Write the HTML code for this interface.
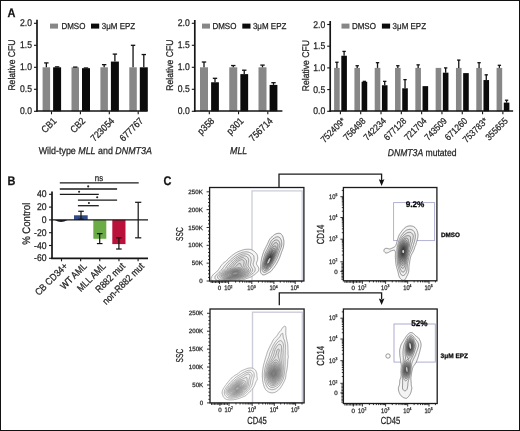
<!DOCTYPE html>
<html><head><meta charset="utf-8"><style>
html,body{margin:0;padding:0;background:#fff;}
svg{display:block;}
text{font-family:"Liberation Sans", sans-serif;stroke:#222;stroke-width:0.25px;text-rendering:geometricPrecision;}
.t{opacity:0.995}
</style></head><body>
<svg width="520" height="431" viewBox="0 0 520 431" font-family='"Liberation Sans", sans-serif'>
<rect x="0" y="0" width="520" height="431" fill="#fff"/>
<g class="t">
<text transform="translate(7.60 17.00) rotate(0) scale(0.8850 1)" font-size="12.43" text-anchor="start" font-weight="bold" font-style="normal" fill="#111" >A</text>
<rect x="42.6" y="67.3" width="7.5" height="44.0" fill="#878787"/>
<rect x="53.1" y="67.3" width="8.0" height="44.0" fill="#0a0a0a"/>
<line x1="46.35" y1="67.3" x2="46.35" y2="62.89999999999999" stroke="#111" stroke-width="1.3"/>
<line x1="44.15" y1="62.89999999999999" x2="48.550000000000004" y2="62.89999999999999" stroke="#111" stroke-width="1.3"/>
<line x1="57.1" y1="67.3" x2="57.1" y2="66.86" stroke="#111" stroke-width="1.3"/>
<line x1="54.9" y1="66.86" x2="59.300000000000004" y2="66.86" stroke="#111" stroke-width="1.3"/>
<rect x="71.5" y="67.3" width="7.5" height="44.0" fill="#878787"/>
<rect x="82.0" y="68.18" width="8.0" height="43.11999999999999" fill="#0a0a0a"/>
<line x1="75.25" y1="67.3" x2="75.25" y2="67.08" stroke="#111" stroke-width="1.3"/>
<line x1="73.05" y1="67.08" x2="77.45" y2="67.08" stroke="#111" stroke-width="1.3"/>
<line x1="86.0" y1="68.18" x2="86.0" y2="67.96000000000001" stroke="#111" stroke-width="1.3"/>
<line x1="83.8" y1="67.96000000000001" x2="88.2" y2="67.96000000000001" stroke="#111" stroke-width="1.3"/>
<rect x="100.39999999999999" y="67.3" width="7.5" height="44.0" fill="#878787"/>
<rect x="110.89999999999999" y="61.58" width="8.0" height="49.72" fill="#0a0a0a"/>
<line x1="104.14999999999999" y1="67.3" x2="104.14999999999999" y2="64.66" stroke="#111" stroke-width="1.3"/>
<line x1="101.94999999999999" y1="64.66" x2="106.35" y2="64.66" stroke="#111" stroke-width="1.3"/>
<line x1="114.89999999999999" y1="61.58" x2="114.89999999999999" y2="54.099999999999994" stroke="#111" stroke-width="1.3"/>
<line x1="112.69999999999999" y1="54.099999999999994" x2="117.1" y2="54.099999999999994" stroke="#111" stroke-width="1.3"/>
<rect x="129.29999999999998" y="67.3" width="7.5" height="44.0" fill="#878787"/>
<rect x="139.79999999999998" y="67.3" width="8.0" height="44.0" fill="#0a0a0a"/>
<line x1="133.04999999999998" y1="67.3" x2="133.04999999999998" y2="45.3" stroke="#111" stroke-width="1.3"/>
<line x1="130.85" y1="45.3" x2="135.24999999999997" y2="45.3" stroke="#111" stroke-width="1.3"/>
<line x1="143.79999999999998" y1="67.3" x2="143.79999999999998" y2="54.53999999999999" stroke="#111" stroke-width="1.3"/>
<line x1="141.6" y1="54.53999999999999" x2="145.99999999999997" y2="54.53999999999999" stroke="#111" stroke-width="1.3"/>
<line x1="37" y1="19.8" x2="37" y2="111.85" stroke="#151515" stroke-width="1.7"/>
<line x1="36.15" y1="111.0" x2="147.5" y2="111.0" stroke="#151515" stroke-width="1.7"/>
<line x1="34" y1="111.3" x2="37" y2="111.3" stroke="#151515" stroke-width="1.1"/>
<text transform="translate(32.00 114.40) rotate(0) scale(0.8850 1)" font-size="9.72" text-anchor="end" font-weight="normal" font-style="normal" fill="#222" >0.0</text>
<line x1="34" y1="89.3" x2="37" y2="89.3" stroke="#151515" stroke-width="1.1"/>
<text transform="translate(32.00 92.40) rotate(0) scale(0.8850 1)" font-size="9.72" text-anchor="end" font-weight="normal" font-style="normal" fill="#222" >0.5</text>
<line x1="34" y1="67.3" x2="37" y2="67.3" stroke="#151515" stroke-width="1.1"/>
<text transform="translate(32.00 70.40) rotate(0) scale(0.8850 1)" font-size="9.72" text-anchor="end" font-weight="normal" font-style="normal" fill="#222" >1.0</text>
<line x1="34" y1="45.3" x2="37" y2="45.3" stroke="#151515" stroke-width="1.1"/>
<text transform="translate(32.00 48.40) rotate(0) scale(0.8850 1)" font-size="9.72" text-anchor="end" font-weight="normal" font-style="normal" fill="#222" >1.5</text>
<line x1="34" y1="23.299999999999997" x2="37" y2="23.299999999999997" stroke="#151515" stroke-width="1.1"/>
<text transform="translate(32.00 26.40) rotate(0) scale(0.8850 1)" font-size="9.72" text-anchor="end" font-weight="normal" font-style="normal" fill="#222" >2.0</text>
<line x1="51.5" y1="111.3" x2="51.5" y2="114.3" stroke="#151515" stroke-width="1.1"/>
<text transform="translate(57.10 121.60) rotate(-45) scale(0.8850 1)" font-size="9.72" text-anchor="end" font-weight="normal" font-style="normal" fill="#222" >CB1</text>
<line x1="80.4" y1="111.3" x2="80.4" y2="114.3" stroke="#151515" stroke-width="1.1"/>
<text transform="translate(86.00 121.60) rotate(-45) scale(0.8850 1)" font-size="9.72" text-anchor="end" font-weight="normal" font-style="normal" fill="#222" >CB2</text>
<line x1="109.3" y1="111.3" x2="109.3" y2="114.3" stroke="#151515" stroke-width="1.1"/>
<text transform="translate(114.90 121.60) rotate(-45) scale(0.8850 1)" font-size="9.72" text-anchor="end" font-weight="normal" font-style="normal" fill="#222" >723054</text>
<line x1="138.2" y1="111.3" x2="138.2" y2="114.3" stroke="#151515" stroke-width="1.1"/>
<text transform="translate(143.80 121.60) rotate(-45) scale(0.8850 1)" font-size="9.72" text-anchor="end" font-weight="normal" font-style="normal" fill="#222" >677767</text>
<text transform="translate(14.60 65.05) rotate(-90) scale(0.8850 1)" font-size="9.72" text-anchor="middle" font-weight="normal" font-style="normal" fill="#222" >Relative CFU</text>
<rect x="50" y="23.6" width="8.0" height="5.0" fill="#878787"/>
<text transform="translate(61.40 28.60) rotate(0) scale(0.9259 1)" font-size="8.64" text-anchor="start" font-weight="normal" font-style="normal" fill="#222" >DMSO</text>
<rect x="91" y="23.6" width="8.2" height="5.0" fill="#0a0a0a"/>
<text transform="translate(101.80 28.60) rotate(0) scale(0.9259 1)" font-size="8.64" text-anchor="start" font-weight="normal" font-style="normal" fill="#222" >3&#956;M EPZ</text>
<text transform="translate(38.70 153.60) rotate(0) scale(0.9009 1)" font-size="9.88" text-anchor="start" font-weight="normal" font-style="normal" fill="#222" >Wild-type <tspan font-style="italic">MLL</tspan> and <tspan font-style="italic">DNMT3A</tspan></text>
<rect x="200.0" y="67.3" width="8.0" height="44.0" fill="#878787"/>
<rect x="211.10000000000002" y="82.25999999999999" width="7.799999999999983" height="29.040000000000006" fill="#0a0a0a"/>
<line x1="204.0" y1="67.3" x2="204.0" y2="62.019999999999996" stroke="#111" stroke-width="1.3"/>
<line x1="201.8" y1="62.019999999999996" x2="206.2" y2="62.019999999999996" stroke="#111" stroke-width="1.3"/>
<line x1="215.0" y1="82.25999999999999" x2="215.0" y2="78.3" stroke="#111" stroke-width="1.3"/>
<line x1="212.8" y1="78.3" x2="217.2" y2="78.3" stroke="#111" stroke-width="1.3"/>
<rect x="229.25" y="67.3" width="8.0" height="44.0" fill="#878787"/>
<rect x="240.35000000000002" y="74.12" width="7.799999999999983" height="37.17999999999999" fill="#0a0a0a"/>
<line x1="233.25" y1="67.3" x2="233.25" y2="65.53999999999999" stroke="#111" stroke-width="1.3"/>
<line x1="231.05" y1="65.53999999999999" x2="235.45" y2="65.53999999999999" stroke="#111" stroke-width="1.3"/>
<line x1="244.25" y1="74.12" x2="244.25" y2="70.204" stroke="#111" stroke-width="1.3"/>
<line x1="242.05" y1="70.204" x2="246.45" y2="70.204" stroke="#111" stroke-width="1.3"/>
<rect x="258.5" y="67.3" width="8.0" height="44.0" fill="#878787"/>
<rect x="269.6" y="84.9" width="7.800000000000011" height="26.39999999999999" fill="#0a0a0a"/>
<line x1="262.5" y1="67.3" x2="262.5" y2="65.1" stroke="#111" stroke-width="1.3"/>
<line x1="260.3" y1="65.1" x2="264.7" y2="65.1" stroke="#111" stroke-width="1.3"/>
<line x1="273.5" y1="84.9" x2="273.5" y2="82.69999999999999" stroke="#111" stroke-width="1.3"/>
<line x1="271.3" y1="82.69999999999999" x2="275.7" y2="82.69999999999999" stroke="#111" stroke-width="1.3"/>
<line x1="194.8" y1="20" x2="194.8" y2="111.85" stroke="#151515" stroke-width="1.7"/>
<line x1="193.95000000000002" y1="111.0" x2="282.4" y2="111.0" stroke="#151515" stroke-width="1.7"/>
<line x1="191.8" y1="111.3" x2="194.8" y2="111.3" stroke="#151515" stroke-width="1.1"/>
<text transform="translate(189.80 114.40) rotate(0) scale(0.8850 1)" font-size="9.72" text-anchor="end" font-weight="normal" font-style="normal" fill="#222" >0.0</text>
<line x1="191.8" y1="89.3" x2="194.8" y2="89.3" stroke="#151515" stroke-width="1.1"/>
<text transform="translate(189.80 92.40) rotate(0) scale(0.8850 1)" font-size="9.72" text-anchor="end" font-weight="normal" font-style="normal" fill="#222" >0.5</text>
<line x1="191.8" y1="67.3" x2="194.8" y2="67.3" stroke="#151515" stroke-width="1.1"/>
<text transform="translate(189.80 70.40) rotate(0) scale(0.8850 1)" font-size="9.72" text-anchor="end" font-weight="normal" font-style="normal" fill="#222" >1.0</text>
<line x1="191.8" y1="45.3" x2="194.8" y2="45.3" stroke="#151515" stroke-width="1.1"/>
<text transform="translate(189.80 48.40) rotate(0) scale(0.8850 1)" font-size="9.72" text-anchor="end" font-weight="normal" font-style="normal" fill="#222" >1.5</text>
<line x1="191.8" y1="23.299999999999997" x2="194.8" y2="23.299999999999997" stroke="#151515" stroke-width="1.1"/>
<text transform="translate(189.80 26.40) rotate(0) scale(0.8850 1)" font-size="9.72" text-anchor="end" font-weight="normal" font-style="normal" fill="#222" >2.0</text>
<line x1="209.3" y1="111.3" x2="209.3" y2="114.3" stroke="#151515" stroke-width="1.1"/>
<text transform="translate(214.90 121.60) rotate(-45) scale(0.8850 1)" font-size="9.72" text-anchor="end" font-weight="normal" font-style="normal" fill="#222" >p358</text>
<line x1="238.55" y1="111.3" x2="238.55" y2="114.3" stroke="#151515" stroke-width="1.1"/>
<text transform="translate(244.15 121.60) rotate(-45) scale(0.8850 1)" font-size="9.72" text-anchor="end" font-weight="normal" font-style="normal" fill="#222" >p301</text>
<line x1="267.8" y1="111.3" x2="267.8" y2="114.3" stroke="#151515" stroke-width="1.1"/>
<text transform="translate(273.40 121.60) rotate(-45) scale(0.8850 1)" font-size="9.72" text-anchor="end" font-weight="normal" font-style="normal" fill="#222" >756714</text>
<text transform="translate(173.10 65.15) rotate(-90) scale(0.8850 1)" font-size="9.72" text-anchor="middle" font-weight="normal" font-style="normal" fill="#222" >Relative CFU</text>
<rect x="202" y="23.6" width="8.0" height="5.0" fill="#878787"/>
<text transform="translate(212.40 28.60) rotate(0) scale(0.9259 1)" font-size="8.64" text-anchor="start" font-weight="normal" font-style="normal" fill="#222" >DMSO</text>
<rect x="242.3" y="23.6" width="8.2" height="5.0" fill="#0a0a0a"/>
<text transform="translate(252.90 28.60) rotate(0) scale(0.9259 1)" font-size="8.64" text-anchor="start" font-weight="normal" font-style="normal" fill="#222" >3&#956;M EPZ</text>
<text transform="translate(230.10 153.70) rotate(0) scale(0.8696 1)" font-size="10.12" text-anchor="start" font-weight="normal" font-style="italic" fill="#222" >MLL</text>
<rect x="334.09999999999997" y="67.9" width="5.600000000000023" height="43.39999999999999" fill="#878787"/>
<rect x="341.29999999999995" y="55.748" width="5.600000000000023" height="55.552" fill="#0a0a0a"/>
<line x1="336.9" y1="67.9" x2="336.9" y2="62.258" stroke="#111" stroke-width="1.3"/>
<line x1="335.21999999999997" y1="62.258" x2="338.58" y2="62.258" stroke="#111" stroke-width="1.3"/>
<line x1="344.09999999999997" y1="55.748" x2="344.09999999999997" y2="51.408" stroke="#111" stroke-width="1.3"/>
<line x1="342.41999999999996" y1="51.408" x2="345.78" y2="51.408" stroke="#111" stroke-width="1.3"/>
<rect x="354.40999999999997" y="67.9" width="5.600000000000023" height="43.39999999999999" fill="#878787"/>
<rect x="361.60999999999996" y="81.788" width="5.600000000000023" height="29.512" fill="#0a0a0a"/>
<line x1="357.21" y1="67.9" x2="357.21" y2="65.72999999999999" stroke="#111" stroke-width="1.3"/>
<line x1="355.53" y1="65.72999999999999" x2="358.89" y2="65.72999999999999" stroke="#111" stroke-width="1.3"/>
<line x1="364.40999999999997" y1="81.788" x2="364.40999999999997" y2="81.354" stroke="#111" stroke-width="1.3"/>
<line x1="362.72999999999996" y1="81.354" x2="366.09" y2="81.354" stroke="#111" stroke-width="1.3"/>
<rect x="374.71999999999997" y="67.9" width="5.600000000000023" height="43.39999999999999" fill="#878787"/>
<rect x="381.91999999999996" y="85.25999999999999" width="5.600000000000023" height="26.040000000000006" fill="#0a0a0a"/>
<line x1="377.52" y1="67.9" x2="377.52" y2="62.69199999999999" stroke="#111" stroke-width="1.3"/>
<line x1="375.84" y1="62.69199999999999" x2="379.2" y2="62.69199999999999" stroke="#111" stroke-width="1.3"/>
<line x1="384.71999999999997" y1="85.25999999999999" x2="384.71999999999997" y2="81.354" stroke="#111" stroke-width="1.3"/>
<line x1="383.03999999999996" y1="81.354" x2="386.4" y2="81.354" stroke="#111" stroke-width="1.3"/>
<rect x="395.03" y="67.9" width="5.600000000000023" height="43.39999999999999" fill="#878787"/>
<rect x="402.22999999999996" y="88.298" width="5.600000000000023" height="23.001999999999995" fill="#0a0a0a"/>
<line x1="397.83" y1="67.9" x2="397.83" y2="65.72999999999999" stroke="#111" stroke-width="1.3"/>
<line x1="396.15" y1="65.72999999999999" x2="399.51" y2="65.72999999999999" stroke="#111" stroke-width="1.3"/>
<line x1="405.03" y1="88.298" x2="405.03" y2="79.618" stroke="#111" stroke-width="1.3"/>
<line x1="403.34999999999997" y1="79.618" x2="406.71" y2="79.618" stroke="#111" stroke-width="1.3"/>
<rect x="415.34" y="67.9" width="5.600000000000023" height="43.39999999999999" fill="#878787"/>
<rect x="422.53999999999996" y="86.128" width="5.600000000000023" height="25.171999999999997" fill="#0a0a0a"/>
<line x1="418.14" y1="67.9" x2="418.14" y2="64.862" stroke="#111" stroke-width="1.3"/>
<line x1="416.46" y1="64.862" x2="419.82" y2="64.862" stroke="#111" stroke-width="1.3"/>
<rect x="435.65" y="67.9" width="5.600000000000023" height="43.39999999999999" fill="#878787"/>
<rect x="442.84999999999997" y="72.674" width="5.600000000000023" height="38.62599999999999" fill="#0a0a0a"/>
<line x1="445.65" y1="72.674" x2="445.65" y2="67.9" stroke="#111" stroke-width="1.3"/>
<line x1="443.96999999999997" y1="67.9" x2="447.33" y2="67.9" stroke="#111" stroke-width="1.3"/>
<rect x="455.96" y="67.9" width="5.600000000000023" height="43.39999999999999" fill="#878787"/>
<rect x="463.15999999999997" y="73.108" width="5.600000000000023" height="38.19199999999999" fill="#0a0a0a"/>
<line x1="458.76" y1="67.9" x2="458.76" y2="60.088" stroke="#111" stroke-width="1.3"/>
<line x1="457.08" y1="60.088" x2="460.44" y2="60.088" stroke="#111" stroke-width="1.3"/>
<rect x="476.2699999999999" y="67.9" width="5.600000000000023" height="43.39999999999999" fill="#878787"/>
<rect x="483.4699999999999" y="80.05199999999999" width="5.600000000000023" height="31.248000000000005" fill="#0a0a0a"/>
<line x1="479.06999999999994" y1="67.9" x2="479.06999999999994" y2="62.69199999999999" stroke="#111" stroke-width="1.3"/>
<line x1="477.38999999999993" y1="62.69199999999999" x2="480.74999999999994" y2="62.69199999999999" stroke="#111" stroke-width="1.3"/>
<line x1="486.2699999999999" y1="80.05199999999999" x2="486.2699999999999" y2="74.844" stroke="#111" stroke-width="1.3"/>
<line x1="484.5899999999999" y1="74.844" x2="487.94999999999993" y2="74.844" stroke="#111" stroke-width="1.3"/>
<rect x="496.58" y="67.9" width="5.600000000000023" height="43.39999999999999" fill="#878787"/>
<rect x="503.78" y="102.62" width="5.600000000000023" height="8.679999999999993" fill="#0a0a0a"/>
<line x1="499.38" y1="67.9" x2="499.38" y2="65.29599999999999" stroke="#111" stroke-width="1.3"/>
<line x1="497.7" y1="65.29599999999999" x2="501.06" y2="65.29599999999999" stroke="#111" stroke-width="1.3"/>
<line x1="506.58" y1="102.62" x2="506.58" y2="100.233" stroke="#111" stroke-width="1.3"/>
<line x1="504.9" y1="100.233" x2="508.26" y2="100.233" stroke="#111" stroke-width="1.3"/>
<line x1="330.2" y1="21" x2="330.2" y2="111.85" stroke="#151515" stroke-width="1.7"/>
<line x1="329.34999999999997" y1="111.0" x2="513.1" y2="111.0" stroke="#151515" stroke-width="1.7"/>
<line x1="327.2" y1="111.3" x2="330.2" y2="111.3" stroke="#151515" stroke-width="1.1"/>
<text transform="translate(325.20 114.40) rotate(0) scale(0.8850 1)" font-size="9.72" text-anchor="end" font-weight="normal" font-style="normal" fill="#222" >0.0</text>
<line x1="327.2" y1="89.6" x2="330.2" y2="89.6" stroke="#151515" stroke-width="1.1"/>
<text transform="translate(325.20 92.70) rotate(0) scale(0.8850 1)" font-size="9.72" text-anchor="end" font-weight="normal" font-style="normal" fill="#222" >0.5</text>
<line x1="327.2" y1="67.9" x2="330.2" y2="67.9" stroke="#151515" stroke-width="1.1"/>
<text transform="translate(325.20 71.00) rotate(0) scale(0.8850 1)" font-size="9.72" text-anchor="end" font-weight="normal" font-style="normal" fill="#222" >1.0</text>
<line x1="327.2" y1="46.2" x2="330.2" y2="46.2" stroke="#151515" stroke-width="1.1"/>
<text transform="translate(325.20 49.30) rotate(0) scale(0.8850 1)" font-size="9.72" text-anchor="end" font-weight="normal" font-style="normal" fill="#222" >1.5</text>
<line x1="327.2" y1="24.5" x2="330.2" y2="24.5" stroke="#151515" stroke-width="1.1"/>
<text transform="translate(325.20 27.60) rotate(0) scale(0.8850 1)" font-size="9.72" text-anchor="end" font-weight="normal" font-style="normal" fill="#222" >2.0</text>
<line x1="340.4" y1="111.3" x2="340.4" y2="114.3" stroke="#151515" stroke-width="1.1"/>
<text transform="translate(346.00 121.60) rotate(-45) scale(0.8850 1)" font-size="9.27" text-anchor="end" font-weight="normal" font-style="normal" fill="#222" >752409*</text>
<line x1="360.71" y1="111.3" x2="360.71" y2="114.3" stroke="#151515" stroke-width="1.1"/>
<text transform="translate(366.31 121.60) rotate(-45) scale(0.8850 1)" font-size="9.27" text-anchor="end" font-weight="normal" font-style="normal" fill="#222" >756498</text>
<line x1="381.02" y1="111.3" x2="381.02" y2="114.3" stroke="#151515" stroke-width="1.1"/>
<text transform="translate(386.62 121.60) rotate(-45) scale(0.8850 1)" font-size="9.27" text-anchor="end" font-weight="normal" font-style="normal" fill="#222" >742234</text>
<line x1="401.33" y1="111.3" x2="401.33" y2="114.3" stroke="#151515" stroke-width="1.1"/>
<text transform="translate(406.93 121.60) rotate(-45) scale(0.8850 1)" font-size="9.27" text-anchor="end" font-weight="normal" font-style="normal" fill="#222" >677128</text>
<line x1="421.64" y1="111.3" x2="421.64" y2="114.3" stroke="#151515" stroke-width="1.1"/>
<text transform="translate(427.24 121.60) rotate(-45) scale(0.8850 1)" font-size="9.27" text-anchor="end" font-weight="normal" font-style="normal" fill="#222" >721704</text>
<line x1="441.95" y1="111.3" x2="441.95" y2="114.3" stroke="#151515" stroke-width="1.1"/>
<text transform="translate(447.55 121.60) rotate(-45) scale(0.8850 1)" font-size="9.27" text-anchor="end" font-weight="normal" font-style="normal" fill="#222" >743509</text>
<line x1="462.26" y1="111.3" x2="462.26" y2="114.3" stroke="#151515" stroke-width="1.1"/>
<text transform="translate(467.86 121.60) rotate(-45) scale(0.8850 1)" font-size="9.27" text-anchor="end" font-weight="normal" font-style="normal" fill="#222" >671260</text>
<line x1="482.56999999999994" y1="111.3" x2="482.56999999999994" y2="114.3" stroke="#151515" stroke-width="1.1"/>
<text transform="translate(488.17 121.60) rotate(-45) scale(0.8850 1)" font-size="9.27" text-anchor="end" font-weight="normal" font-style="normal" fill="#222" >753783*</text>
<line x1="502.88" y1="111.3" x2="502.88" y2="114.3" stroke="#151515" stroke-width="1.1"/>
<text transform="translate(508.48 121.60) rotate(-45) scale(0.8850 1)" font-size="9.27" text-anchor="end" font-weight="normal" font-style="normal" fill="#222" >355655</text>
<text transform="translate(308.60 65.65) rotate(-90) scale(0.8850 1)" font-size="9.72" text-anchor="middle" font-weight="normal" font-style="normal" fill="#222" >Relative CFU</text>
<rect x="341.5" y="23.6" width="8.0" height="5.0" fill="#878787"/>
<text transform="translate(351.90 28.60) rotate(0) scale(0.9259 1)" font-size="8.64" text-anchor="start" font-weight="normal" font-style="normal" fill="#222" >DMSO</text>
<rect x="381.9" y="23.6" width="8.2" height="5.0" fill="#0a0a0a"/>
<text transform="translate(392.60 28.60) rotate(0) scale(0.9259 1)" font-size="8.64" text-anchor="start" font-weight="normal" font-style="normal" fill="#222" >3&#956;M EPZ</text>
<text transform="translate(387.80 155.80) rotate(0) scale(0.8696 1)" font-size="9.89" text-anchor="start" font-weight="normal" font-style="normal" fill="#222" ><tspan font-style="italic">DNMT3A</tspan> mutated</text>
<text transform="translate(7.50 184.60) rotate(0) scale(0.8850 1)" font-size="12.43" text-anchor="start" font-weight="bold" font-style="normal" fill="#111" >B</text>
<path d="M54.8,219.9 L67.6,219.9 Q64,221.9 61,221.9 Q58,221.9 54.8,219.9 Z" fill="#1b1b2b"/>
<rect x="74" y="215.292" width="13.7" height="4.608000000000004" fill="#2e4a88"/>
<rect x="93.3" y="219.9" width="13" height="18.879999999999995" fill="#6aac45"/>
<rect x="112.3" y="219.9" width="13.2" height="24.192000000000007" fill="#ba103a"/>
<line x1="81" y1="211.26" x2="81" y2="219.26000000000002" stroke="#111" stroke-width="1.2"/>
<line x1="78.2" y1="211.26" x2="83.8" y2="211.26" stroke="#111" stroke-width="1.2"/>
<line x1="78.2" y1="219.26000000000002" x2="83.8" y2="219.26000000000002" stroke="#111" stroke-width="1.2"/>
<line x1="99.7" y1="233.66" x2="99.7" y2="243.58" stroke="#111" stroke-width="1.2"/>
<line x1="96.9" y1="233.66" x2="102.5" y2="233.66" stroke="#111" stroke-width="1.2"/>
<line x1="96.9" y1="243.58" x2="102.5" y2="243.58" stroke="#111" stroke-width="1.2"/>
<line x1="118.9" y1="237.82" x2="118.9" y2="249.02" stroke="#111" stroke-width="1.2"/>
<line x1="116.10000000000001" y1="237.82" x2="121.7" y2="237.82" stroke="#111" stroke-width="1.2"/>
<line x1="116.10000000000001" y1="249.02" x2="121.7" y2="249.02" stroke="#111" stroke-width="1.2"/>
<line x1="138.2" y1="202.3" x2="138.2" y2="237.82" stroke="#111" stroke-width="1.2"/>
<line x1="135.1" y1="202.3" x2="141.29999999999998" y2="202.3" stroke="#111" stroke-width="1.2"/>
<line x1="135.1" y1="237.82" x2="141.29999999999998" y2="237.82" stroke="#111" stroke-width="1.2"/>
<line x1="52" y1="219.9" x2="148" y2="219.9" stroke="#151515" stroke-width="1.3"/>
<line x1="52" y1="191.6" x2="52" y2="259.1" stroke="#151515" stroke-width="1.7"/>
<line x1="51.15" y1="258.3" x2="148" y2="258.3" stroke="#151515" stroke-width="1.7"/>
<line x1="49" y1="194.3" x2="52" y2="194.3" stroke="#151515" stroke-width="1.1"/>
<text transform="translate(46.50 197.40) rotate(0) scale(0.8850 1)" font-size="9.72" text-anchor="end" font-weight="normal" font-style="normal" fill="#222" >40</text>
<line x1="49" y1="207.1" x2="52" y2="207.1" stroke="#151515" stroke-width="1.1"/>
<text transform="translate(46.50 210.20) rotate(0) scale(0.8850 1)" font-size="9.72" text-anchor="end" font-weight="normal" font-style="normal" fill="#222" >20</text>
<line x1="49" y1="219.9" x2="52" y2="219.9" stroke="#151515" stroke-width="1.1"/>
<text transform="translate(46.50 223.00) rotate(0) scale(0.8850 1)" font-size="9.72" text-anchor="end" font-weight="normal" font-style="normal" fill="#222" >0</text>
<line x1="49" y1="232.70000000000002" x2="52" y2="232.70000000000002" stroke="#151515" stroke-width="1.1"/>
<text transform="translate(46.50 235.80) rotate(0) scale(0.8850 1)" font-size="9.72" text-anchor="end" font-weight="normal" font-style="normal" fill="#222" >-20</text>
<line x1="49" y1="245.5" x2="52" y2="245.5" stroke="#151515" stroke-width="1.1"/>
<text transform="translate(46.50 248.60) rotate(0) scale(0.8850 1)" font-size="9.72" text-anchor="end" font-weight="normal" font-style="normal" fill="#222" >-40</text>
<line x1="49" y1="258.3" x2="52" y2="258.3" stroke="#151515" stroke-width="1.1"/>
<text transform="translate(46.50 261.40) rotate(0) scale(0.8850 1)" font-size="9.72" text-anchor="end" font-weight="normal" font-style="normal" fill="#222" >-60</text>
<line x1="61.5" y1="258.3" x2="61.5" y2="261.3" stroke="#151515" stroke-width="1.1"/>
<text transform="translate(68.20 266.80) rotate(-45) scale(0.8850 1)" font-size="9.72" text-anchor="end" font-weight="normal" font-style="normal" fill="#222" >CB CD34+</text>
<line x1="80.65" y1="258.3" x2="80.65" y2="261.3" stroke="#151515" stroke-width="1.1"/>
<text transform="translate(87.35 266.80) rotate(-45) scale(0.8850 1)" font-size="9.72" text-anchor="end" font-weight="normal" font-style="normal" fill="#222" >WT AML</text>
<line x1="99.8" y1="258.3" x2="99.8" y2="261.3" stroke="#151515" stroke-width="1.1"/>
<text transform="translate(106.50 266.80) rotate(-45) scale(0.8850 1)" font-size="9.72" text-anchor="end" font-weight="normal" font-style="normal" fill="#222" >MLL AML</text>
<line x1="118.94999999999999" y1="258.3" x2="118.94999999999999" y2="261.3" stroke="#151515" stroke-width="1.1"/>
<text transform="translate(125.65 266.80) rotate(-45) scale(0.8850 1)" font-size="9.72" text-anchor="end" font-weight="normal" font-style="normal" fill="#222" >R882 mut</text>
<line x1="138.1" y1="258.3" x2="138.1" y2="261.3" stroke="#151515" stroke-width="1.1"/>
<text transform="translate(144.80 266.80) rotate(-45) scale(0.8850 1)" font-size="9.72" text-anchor="end" font-weight="normal" font-style="normal" fill="#222" >non-R882 mut</text>
<text transform="translate(29.60 223.80) rotate(-90) scale(0.8850 1)" font-size="10.85" text-anchor="middle" font-weight="normal" font-style="normal" fill="#222" >% Control</text>
<line x1="59.8" y1="182.8" x2="138.7" y2="182.8" stroke="#1a1a1a" stroke-width="1.3"/>
<line x1="59.8" y1="189" x2="117.1" y2="189" stroke="#1a1a1a" stroke-width="1.3"/>
<line x1="59.8" y1="194.3" x2="98.8" y2="194.3" stroke="#1a1a1a" stroke-width="1.3"/>
<line x1="77.9" y1="200.1" x2="117.1" y2="200.1" stroke="#1a1a1a" stroke-width="1.3"/>
<line x1="77.9" y1="205.7" x2="98.8" y2="205.7" stroke="#1a1a1a" stroke-width="1.3"/>
<text transform="translate(99.00 180.80) rotate(0) scale(0.8850 1)" font-size="8.93" text-anchor="middle" font-weight="normal" font-style="normal" fill="#222" >ns</text>
<circle cx="88.2" cy="186.4" r="1.05" fill="#222"/>
<circle cx="79.1" cy="191.7" r="1.05" fill="#222"/>
<circle cx="97.2" cy="197.2" r="1.05" fill="#222"/>
<circle cx="88.9" cy="203" r="1.05" fill="#222"/>
<text transform="translate(163.60 185.00) rotate(0) scale(0.8850 1)" font-size="12.43" text-anchor="start" font-weight="bold" font-style="normal" fill="#111" >C</text>
<defs>
<clipPath id="c1"><rect x="209.6" y="187.5" width="94.29999999999998" height="93.5"/></clipPath>
<clipPath id="c2"><rect x="343.4" y="187.5" width="93.20000000000005" height="93.30000000000001"/></clipPath>
<clipPath id="c3"><rect x="210" y="309" width="94.10000000000002" height="93.89999999999998"/></clipPath>
<clipPath id="c4"><rect x="343.4" y="309" width="93.20000000000005" height="94.5"/></clipPath>
</defs>
<rect x="252" y="190.9" width="50.19999999999999" height="90.1" fill="none" stroke="#d0d0dc" stroke-width="1.4"/>
<g clip-path="url(#c1)">
<path d="M228.2,283.0 227.5,283.1 226.8,283.1 226.0,283.1 225.2,283.1 224.5,283.2 223.8,283.1 223.0,283.1 222.2,283.1 221.5,283.1 220.8,283.1 220.0,283.0 219.5,283.0 218.8,282.9 218.0,282.8 217.5,282.7 216.8,282.6 216.2,282.5 215.5,282.3 215.0,282.1 214.5,282.0 213.9,281.8 213.3,281.5 212.8,281.2 212.3,281.0 212.0,280.7 211.5,280.2 211.2,279.8 211.1,279.2 211.0,278.5 211.2,277.8 211.4,277.2 211.6,276.8 211.9,276.2 212.2,275.8 212.5,275.5 212.9,275.0 213.2,274.6 213.6,274.2 214.0,273.9 214.5,273.5 214.8,273.2 215.2,272.8 215.7,272.5 216.0,272.2 216.5,271.8 216.8,271.5 217.2,271.1 217.6,270.8 218.0,270.3 218.2,269.9 218.6,269.5 218.9,269.0 219.2,268.5 219.5,268.1 219.8,267.7 220.1,267.2 220.4,266.8 220.7,266.2 221.0,265.9 221.3,265.5 221.7,265.0 222.0,264.6 222.3,264.2 222.7,263.8 223.0,263.4 223.5,263.0 223.8,262.8 224.2,262.4 224.8,262.0 225.2,261.8 225.6,261.5 226.0,261.2 226.5,260.8 226.8,260.5 227.1,260.0 227.5,259.5 227.8,259.2 228.2,258.8 228.5,258.5 229.0,258.1 229.4,257.8 229.8,257.5 230.2,257.1 230.6,256.8 231.0,256.4 231.4,256.0 231.8,255.7 232.2,255.3 232.6,255.0 233.0,254.7 233.5,254.4 234.0,254.0 234.4,253.8 234.8,253.5 235.2,253.2 235.8,252.9 236.2,252.6 236.8,252.3 237.2,252.1 237.8,251.8 238.2,251.6 238.8,251.4 239.2,251.2 239.8,251.0 240.4,250.8 241.0,250.5 241.5,250.4 242.0,250.2 242.6,250.0 243.2,249.8 243.8,249.7 244.5,249.5 245.0,249.4 245.8,249.3 246.5,249.3 247.2,249.3 247.9,249.2 248.3,249.2 249.0,249.3 249.8,249.3 250.5,249.4 251.0,249.5 251.6,249.8 252.1,250.0 252.5,250.3 253.0,250.6 253.5,250.9 254.0,251.2 254.4,251.5 254.8,251.8 255.2,252.2 255.6,252.5 256.0,253.0 256.2,253.3 256.6,253.8 256.9,254.2 257.1,254.8 257.3,255.2 257.5,255.9 257.6,256.5 257.7,257.2 257.7,258.0 257.7,258.8 257.6,259.5 257.5,260.2 257.3,260.8 257.1,261.2 256.9,261.8 256.7,262.2 256.5,262.8 256.4,263.5 256.5,264.2 256.8,264.7 257.0,265.1 257.3,265.5 257.6,266.0 257.9,266.5 258.2,267.0 258.5,267.5 258.7,268.0 258.8,268.5 258.8,269.2 258.7,269.8 258.5,270.5 258.2,271.0 258.0,271.4 257.7,271.8 257.3,272.2 257.0,272.6 256.6,273.0 256.2,273.3 255.8,273.7 255.4,274.0 255.0,274.3 254.5,274.7 254.0,275.0 253.6,275.2 253.2,275.5 252.8,275.8 252.2,276.2 251.8,276.5 251.2,276.7 250.8,277.0 250.2,277.2 249.8,277.5 249.2,277.6 248.8,277.8 248.1,278.0 247.5,278.2 247.0,278.4 246.5,278.5 245.9,278.8 245.3,279.0 244.8,279.2 244.2,279.4 243.8,279.6 243.2,279.8 242.7,280.0 242.0,280.2 241.5,280.4 241.0,280.5 240.2,280.7 239.8,280.8 239.0,280.9 238.5,281.1 237.8,281.2 237.2,281.3 236.7,281.5 236.0,281.7 235.5,281.8 234.8,282.0 234.2,282.1 233.7,282.2 233.0,282.4 232.3,282.5 231.8,282.6 231.0,282.7 230.5,282.8 229.8,282.9 229.0,282.9 228.4,283.0 228.2,283.0Z" fill="rgb(246,246,246)" stroke="#5a5a5a" stroke-width="0.55"/>
<path d="M229.5,281.5 228.8,281.6 228.0,281.6 227.2,281.7 226.5,281.7 225.8,281.7 225.0,281.7 224.2,281.7 223.5,281.6 222.8,281.6 222.0,281.5 221.5,281.5 220.8,281.4 220.0,281.3 219.5,281.2 218.8,281.0 218.2,280.8 217.8,280.7 217.2,280.5 216.8,280.2 216.2,279.9 215.8,279.5 215.5,279.2 215.2,278.8 215.0,278.2 214.9,277.5 215.0,277.0 215.2,276.4 215.5,276.0 215.8,275.5 216.2,275.0 216.5,274.8 217.0,274.3 217.3,274.0 217.8,273.6 218.2,273.2 218.5,273.0 219.0,272.5 219.3,272.2 219.8,271.8 220.0,271.5 220.5,271.0 220.8,270.7 221.1,270.2 221.5,269.9 221.8,269.5 222.2,269.0 222.5,268.7 222.8,268.2 223.2,267.8 223.5,267.3 223.8,267.0 224.1,266.5 224.5,266.0 224.8,265.6 225.0,265.2 225.4,264.8 225.8,264.4 226.1,264.0 226.5,263.6 226.8,263.2 227.2,262.8 227.6,262.5 228.0,262.1 228.4,261.8 228.8,261.4 229.2,261.0 229.5,260.8 230.0,260.3 230.3,260.0 230.8,259.6 231.1,259.2 231.5,258.9 231.9,258.5 232.2,258.2 232.8,257.8 233.1,257.5 233.5,257.2 234.0,256.8 234.4,256.5 234.8,256.2 235.2,255.9 235.7,255.5 236.1,255.2 236.5,255.0 237.0,254.7 237.5,254.4 238.0,254.1 238.5,253.8 239.0,253.6 239.5,253.3 240.0,253.1 240.5,253.0 241.1,252.8 241.8,252.5 242.2,252.4 242.8,252.2 243.5,252.1 244.0,252.0 244.8,251.9 245.5,251.8 246.2,251.8 247.0,251.9 247.7,252.0 248.2,252.1 248.8,252.2 249.5,252.5 250.0,252.7 250.5,253.0 251.0,253.2 251.4,253.5 251.8,253.8 252.2,254.1 252.7,254.5 253.0,254.8 253.4,255.2 253.7,255.8 253.8,256.2 254.0,257.0 254.0,257.5 254.0,258.2 254.1,259.0 254.1,259.8 254.0,260.5 253.9,261.0 253.8,261.5 253.5,262.2 253.3,262.8 253.2,263.2 253.1,264.0 253.2,264.8 253.4,265.2 253.6,265.8 253.9,266.2 254.2,266.8 254.5,267.2 254.8,267.7 255.0,268.2 255.1,268.8 255.2,269.5 255.2,270.2 255.0,270.8 254.8,271.3 254.5,271.8 254.1,272.2 253.8,272.6 253.3,273.0 253.0,273.3 252.5,273.7 252.1,274.0 251.7,274.2 251.2,274.6 250.8,274.9 250.3,275.2 249.9,275.5 249.5,275.8 249.0,276.0 248.5,276.2 247.9,276.5 247.3,276.8 246.8,277.0 246.2,277.2 245.8,277.4 245.2,277.6 244.8,277.8 244.2,278.0 243.7,278.2 243.1,278.5 242.5,278.7 242.0,278.9 241.5,279.0 240.8,279.2 240.2,279.4 239.6,279.5 239.0,279.6 238.3,279.8 237.8,279.9 237.2,280.0 236.5,280.2 236.0,280.3 235.4,280.5 234.8,280.7 234.2,280.8 233.5,281.0 233.0,281.1 232.2,281.2 231.8,281.3 231.0,281.4 230.2,281.4 229.7,281.5 229.5,281.5Z" fill="rgb(243,243,243)" stroke="#5a5a5a" stroke-width="0.55"/>
<path d="M230.0,280.5 229.2,280.6 228.5,280.6 227.8,280.7 227.0,280.7 226.2,280.7 225.5,280.7 224.8,280.6 224.0,280.6 223.4,280.5 222.8,280.4 222.0,280.3 221.5,280.2 220.8,280.0 220.2,279.8 219.8,279.6 219.2,279.4 218.8,279.1 218.3,278.8 218.0,278.4 217.8,278.0 217.6,277.2 217.7,276.5 218.0,276.0 218.2,275.5 218.5,275.2 218.9,274.8 219.2,274.3 219.6,274.0 220.0,273.5 220.3,273.2 220.8,272.8 221.0,272.5 221.5,272.0 221.8,271.8 222.2,271.3 222.6,271.0 223.0,270.7 223.4,270.2 223.8,270.0 224.2,269.5 224.5,269.2 224.9,268.8 225.2,268.4 225.6,268.0 226.0,267.5 226.2,267.1 226.5,266.8 226.9,266.2 227.2,265.8 227.5,265.5 227.9,265.0 228.2,264.6 228.5,264.2 229.0,263.8 229.2,263.5 229.7,263.0 230.0,262.8 230.5,262.3 230.8,262.0 231.2,261.5 231.5,261.2 232.0,260.8 232.2,260.5 232.7,260.0 233.0,259.8 233.5,259.3 233.9,259.0 234.2,258.7 234.8,258.3 235.2,258.0 235.6,257.8 236.0,257.4 236.5,257.1 237.0,256.8 237.3,256.5 237.8,256.2 238.2,255.9 238.8,255.6 239.2,255.3 239.8,255.1 240.2,254.9 240.8,254.7 241.2,254.5 242.0,254.3 242.5,254.1 243.2,254.0 243.8,253.9 244.5,253.9 245.2,253.9 246.0,253.9 246.5,254.0 247.2,254.2 247.8,254.4 248.2,254.7 248.8,255.0 249.1,255.2 249.5,255.6 249.9,256.0 250.2,256.5 250.5,257.0 250.7,257.5 250.9,258.0 251.0,258.5 251.2,259.2 251.2,259.8 251.3,260.5 251.2,261.0 251.0,261.8 250.9,262.2 250.8,262.8 250.6,263.5 250.5,264.2 250.5,264.8 250.6,265.2 250.8,265.9 251.0,266.4 251.2,266.8 251.6,267.2 251.9,267.8 252.2,268.2 252.5,268.8 252.6,269.2 252.7,270.0 252.6,270.8 252.4,271.2 252.0,271.8 251.8,272.1 251.4,272.5 251.0,272.9 250.6,273.2 250.2,273.6 249.8,274.0 249.4,274.2 249.0,274.6 248.5,274.9 248.0,275.2 247.5,275.5 247.0,275.7 246.5,276.0 246.0,276.2 245.5,276.5 245.0,276.7 244.5,276.9 244.0,277.1 243.5,277.3 243.0,277.5 242.4,277.8 241.8,278.0 241.2,278.2 240.8,278.3 240.0,278.5 239.5,278.6 238.8,278.8 238.2,278.9 237.6,279.0 237.0,279.2 236.5,279.3 235.8,279.5 235.2,279.6 234.8,279.8 234.0,279.9 233.5,280.0 232.8,280.2 232.2,280.2 231.5,280.4 230.8,280.4 230.2,280.5 230.0,280.5Z" fill="rgb(238,238,238)" stroke="#5a5a5a" stroke-width="0.55"/>
<path d="M230.0,279.8 229.2,279.8 228.5,279.8 227.8,279.9 227.0,279.9 226.2,279.8 225.5,279.8 225.0,279.7 224.2,279.6 223.5,279.5 223.0,279.4 222.5,279.2 221.9,279.0 221.4,278.8 221.0,278.5 220.5,278.1 220.2,277.8 219.9,277.2 219.8,276.5 220.0,275.9 220.2,275.3 220.5,274.9 220.8,274.5 221.2,274.0 221.5,273.6 221.9,273.2 222.2,272.9 222.7,272.5 223.0,272.2 223.5,271.8 223.8,271.5 224.2,271.2 224.8,270.8 225.1,270.5 225.5,270.1 225.9,269.8 226.2,269.5 226.7,269.0 227.0,268.7 227.4,268.2 227.8,267.8 228.0,267.5 228.4,267.0 228.8,266.6 229.1,266.2 229.5,265.8 229.8,265.5 230.2,265.0 230.5,264.7 230.9,264.2 231.2,263.9 231.6,263.5 232.0,263.1 232.3,262.8 232.7,262.2 233.0,261.9 233.4,261.5 233.8,261.1 234.1,260.8 234.5,260.4 235.0,260.0 235.3,259.8 235.8,259.4 236.2,259.1 236.7,258.8 237.1,258.5 237.5,258.2 238.0,257.9 238.5,257.5 239.0,257.2 239.4,257.0 239.9,256.8 240.4,256.5 241.0,256.3 241.5,256.1 242.0,256.0 242.8,255.8 243.5,255.8 244.2,255.8 245.0,255.9 245.5,256.1 246.0,256.3 246.5,256.5 247.0,256.9 247.5,257.2 247.8,257.6 248.1,258.0 248.3,258.5 248.5,259.1 248.6,259.8 248.7,260.5 248.6,261.2 248.5,262.0 248.4,262.5 248.3,263.2 248.2,263.8 248.1,264.5 248.1,265.2 248.2,266.0 248.5,266.5 248.8,266.9 249.0,267.2 249.4,267.8 249.8,268.1 250.0,268.5 250.3,269.0 250.5,269.5 250.6,270.2 250.5,270.9 250.2,271.4 250.0,271.8 249.7,272.2 249.3,272.8 249.0,273.0 248.5,273.5 248.2,273.8 247.8,274.2 247.3,274.5 246.9,274.8 246.5,275.0 246.0,275.3 245.5,275.5 245.0,275.8 244.5,276.0 244.0,276.3 243.5,276.5 242.9,276.8 242.3,277.0 241.8,277.2 241.2,277.4 240.8,277.5 240.0,277.8 239.5,277.9 239.0,278.0 238.2,278.2 237.8,278.3 237.0,278.5 236.5,278.6 235.9,278.8 235.2,278.9 234.8,279.0 234.0,279.2 233.5,279.3 232.8,279.4 232.2,279.5 231.5,279.6 230.8,279.7 230.1,279.8 230.0,279.8Z" fill="rgb(233,233,233)" stroke="#5a5a5a" stroke-width="0.55"/>
<path d="M231.5,279.0 230.8,279.1 230.0,279.1 229.2,279.2 228.5,279.2 227.8,279.2 227.0,279.2 226.2,279.1 225.5,279.0 225.0,279.0 224.2,278.8 223.8,278.6 223.2,278.4 222.8,278.2 222.2,277.8 222.0,277.5 221.7,277.0 221.5,276.4 221.5,276.0 221.7,275.2 221.9,274.8 222.2,274.3 222.5,274.0 222.9,273.5 223.2,273.2 223.7,272.8 224.0,272.5 224.5,272.1 225.0,271.8 225.3,271.5 225.8,271.2 226.2,270.8 226.6,270.5 227.0,270.2 227.5,269.8 227.8,269.5 228.2,269.0 228.5,268.8 229.0,268.3 229.3,268.0 229.8,267.6 230.1,267.2 230.5,266.9 230.9,266.5 231.2,266.1 231.6,265.8 232.0,265.4 232.3,265.0 232.8,264.5 233.0,264.2 233.4,263.8 233.7,263.2 234.0,262.9 234.4,262.5 234.8,262.1 235.1,261.8 235.5,261.4 235.9,261.0 236.3,260.8 236.8,260.4 237.2,260.0 237.6,259.8 238.0,259.5 238.5,259.2 239.0,258.9 239.5,258.6 240.0,258.3 240.5,258.1 241.0,257.9 241.5,257.8 242.2,257.6 243.0,257.7 243.5,257.8 244.0,258.1 244.5,258.5 244.8,258.8 245.2,259.1 245.7,259.5 246.0,259.8 246.3,260.2 246.5,261.0 246.5,261.8 246.4,262.5 246.2,263.0 246.1,263.8 246.0,264.2 245.9,265.0 245.9,265.8 246.1,266.2 246.3,266.8 246.7,267.2 247.0,267.6 247.4,268.0 247.8,268.3 248.1,268.8 248.5,269.2 248.7,269.8 248.9,270.2 248.8,271.0 248.6,271.5 248.4,272.0 248.0,272.5 247.8,272.9 247.4,273.2 247.0,273.6 246.6,274.0 246.2,274.2 245.8,274.6 245.2,274.9 244.8,275.1 244.2,275.4 243.8,275.7 243.2,275.9 242.8,276.1 242.2,276.3 241.8,276.5 241.2,276.8 240.5,277.0 240.0,277.2 239.5,277.3 238.8,277.5 238.2,277.6 237.6,277.8 237.0,277.9 236.5,278.0 235.8,278.2 235.2,278.3 234.6,278.5 234.0,278.6 233.4,278.8 232.8,278.8 232.0,279.0 231.5,279.0 231.5,279.0Z" fill="rgb(226,226,226)" stroke="#5a5a5a" stroke-width="0.55"/>
<path d="M231.2,278.5 230.5,278.6 229.8,278.6 229.0,278.6 228.2,278.6 227.5,278.6 226.8,278.5 226.2,278.5 225.5,278.3 225.0,278.2 224.4,278.0 223.9,277.8 223.5,277.5 223.1,277.0 222.8,276.5 222.7,276.0 222.8,275.5 223.0,274.9 223.2,274.4 223.6,274.0 224.0,273.5 224.3,273.2 224.8,272.9 225.2,272.5 225.6,272.2 226.0,271.9 226.5,271.6 226.9,271.2 227.3,271.0 227.8,270.6 228.2,270.2 228.5,270.0 229.0,269.6 229.4,269.2 229.8,269.0 230.2,268.6 230.8,268.3 231.1,268.0 231.5,267.7 232.0,267.4 232.5,267.0 232.8,266.8 233.2,266.4 233.7,266.0 234.0,265.6 234.3,265.2 234.7,264.8 235.0,264.2 235.2,263.9 235.6,263.5 236.0,263.0 236.2,262.7 236.8,262.3 237.1,262.0 237.5,261.7 238.0,261.3 238.4,261.0 238.8,260.8 239.3,260.5 239.8,260.2 240.4,260.0 241.0,259.8 241.5,259.7 242.2,259.7 242.8,259.9 243.2,260.2 243.6,260.5 243.9,261.0 244.1,261.5 244.1,262.2 244.0,263.0 244.0,263.5 243.8,264.2 243.7,264.8 243.7,265.5 243.8,266.0 244.1,266.5 244.4,267.0 244.8,267.4 245.1,267.8 245.5,268.1 245.9,268.5 246.2,268.8 246.7,269.2 247.0,269.7 247.2,270.2 247.4,270.8 247.3,271.5 247.1,272.0 246.8,272.5 246.5,272.9 246.2,273.2 245.8,273.6 245.3,274.0 244.9,274.2 244.5,274.5 244.0,274.8 243.5,275.1 243.0,275.4 242.5,275.6 242.0,275.9 241.5,276.1 241.0,276.3 240.4,276.5 239.8,276.7 239.2,276.9 238.7,277.0 238.0,277.2 237.5,277.3 236.8,277.5 236.2,277.6 235.7,277.8 235.0,277.9 234.5,278.0 233.8,278.2 233.2,278.3 232.5,278.4 231.8,278.5 231.2,278.5 231.2,278.5Z" fill="rgb(219,219,219)" stroke="#5a5a5a" stroke-width="0.55"/>
<path d="M231.2,278.0 230.5,278.1 229.8,278.1 229.0,278.1 228.2,278.1 227.5,278.0 227.0,277.9 226.2,277.8 225.8,277.7 225.2,277.5 224.8,277.2 224.2,276.8 224.0,276.5 223.8,275.8 224.0,275.0 224.2,274.5 224.5,274.1 224.8,273.8 225.2,273.4 225.7,273.0 226.0,272.8 226.5,272.4 227.0,272.0 227.4,271.8 227.8,271.5 228.2,271.1 228.8,270.8 229.1,270.5 229.5,270.2 230.0,269.9 230.5,269.6 231.0,269.3 231.5,269.0 231.9,268.8 232.4,268.5 232.9,268.2 233.4,268.0 233.9,267.8 234.4,267.5 234.9,267.2 235.3,267.0 235.8,266.6 236.2,266.2 236.5,265.9 236.8,265.5 237.2,265.0 237.5,264.6 237.9,264.2 238.2,264.0 238.8,263.6 239.2,263.4 240.0,263.4 240.5,263.7 240.8,264.2 240.9,264.8 241.0,265.2 241.2,265.8 241.6,266.2 242.0,266.8 242.2,267.0 242.8,267.5 243.0,267.8 243.5,268.1 243.9,268.5 244.3,268.8 244.8,269.1 245.2,269.5 245.5,269.9 245.8,270.2 246.0,270.9 246.0,271.5 245.9,272.0 245.6,272.5 245.2,273.0 245.0,273.2 244.5,273.7 244.1,274.0 243.7,274.2 243.2,274.6 242.8,274.9 242.2,275.1 241.8,275.4 241.2,275.6 240.8,275.8 240.2,276.0 239.6,276.2 239.0,276.4 238.5,276.6 237.9,276.8 237.2,276.9 236.8,277.0 236.0,277.2 235.5,277.4 234.9,277.5 234.2,277.6 233.5,277.8 233.0,277.8 232.2,277.9 231.5,278.0 231.2,278.0Z" fill="rgb(211,211,211)" stroke="#5a5a5a" stroke-width="0.55"/>
<path d="M231.5,277.5 230.8,277.5 230.0,277.6 229.2,277.6 228.5,277.5 228.0,277.5 227.2,277.4 226.8,277.2 226.1,277.0 225.6,276.8 225.2,276.4 225.0,276.0 224.9,275.2 225.1,274.8 225.4,274.2 225.8,273.9 226.2,273.5 226.5,273.2 227.0,272.8 227.5,272.5 227.8,272.2 228.2,271.9 228.8,271.6 229.2,271.2 229.6,271.0 230.0,270.7 230.5,270.4 231.0,270.2 231.5,269.9 232.0,269.7 232.5,269.5 233.1,269.2 233.7,269.0 234.2,268.8 234.8,268.6 235.2,268.5 235.9,268.2 236.5,268.0 237.0,267.9 237.8,267.8 238.2,267.7 239.0,267.7 239.5,267.8 240.2,267.9 240.8,268.0 241.3,268.2 241.8,268.5 242.3,268.8 242.8,269.0 243.2,269.4 243.7,269.8 244.0,270.0 244.4,270.5 244.6,271.0 244.7,271.8 244.5,272.3 244.2,272.8 243.8,273.2 243.5,273.6 243.0,274.0 242.6,274.2 242.2,274.5 241.8,274.8 241.2,275.1 240.8,275.3 240.2,275.5 239.7,275.8 239.0,276.0 238.5,276.1 238.0,276.3 237.2,276.5 236.8,276.6 236.2,276.8 235.5,276.9 235.0,277.0 234.2,277.2 233.8,277.3 233.0,277.4 232.2,277.5 231.6,277.5 231.5,277.5Z" fill="rgb(202,202,202)" stroke="#5a5a5a" stroke-width="0.55"/>
<path d="M231.8,277.0 231.0,277.0 230.2,277.0 229.5,277.0 229.0,277.0 228.2,276.9 227.7,276.8 227.0,276.5 226.6,276.2 226.2,275.9 226.0,275.2 226.2,274.6 226.5,274.2 227.0,273.8 227.3,273.5 227.8,273.1 228.2,272.8 228.6,272.5 229.0,272.2 229.5,271.8 230.0,271.5 230.4,271.2 230.9,271.0 231.4,270.8 232.0,270.5 232.5,270.3 233.0,270.1 233.5,269.9 234.0,269.8 234.8,269.5 235.2,269.4 235.8,269.2 236.5,269.1 237.2,269.0 237.8,269.0 238.5,268.9 239.2,269.0 239.8,269.0 240.5,269.2 241.0,269.4 241.5,269.6 242.0,269.8 242.5,270.2 242.8,270.5 243.2,271.0 243.4,271.5 243.3,272.2 243.1,272.8 242.8,273.2 242.5,273.5 242.0,274.0 241.6,274.2 241.2,274.5 240.8,274.8 240.2,275.0 239.7,275.2 239.1,275.5 238.5,275.7 238.0,275.9 237.5,276.0 236.8,276.2 236.2,276.3 235.6,276.5 235.0,276.6 234.3,276.8 233.8,276.8 233.0,276.9 232.2,277.0 231.8,277.0 231.8,277.0Z" fill="rgb(193,193,193)" stroke="#5a5a5a" stroke-width="0.55"/>
<path d="M234.5,276.3 233.8,276.4 233.0,276.5 232.2,276.5 231.5,276.5 230.8,276.4 230.0,276.4 229.2,276.3 228.8,276.2 228.1,276.0 227.7,275.8 227.4,275.2 227.5,274.6 227.8,274.2 228.1,273.8 228.5,273.4 229.0,273.0 229.3,272.8 229.8,272.4 230.2,272.1 230.8,271.8 231.2,271.5 231.8,271.3 232.2,271.1 232.8,270.9 233.2,270.7 233.9,270.5 234.5,270.3 235.0,270.2 235.8,270.0 236.2,270.0 237.0,269.9 237.8,269.8 238.5,269.8 239.2,269.9 239.8,270.0 240.5,270.2 241.0,270.4 241.5,270.7 241.8,271.0 242.1,271.5 242.2,272.2 242.0,272.8 241.7,273.2 241.2,273.7 240.9,274.0 240.5,274.3 240.0,274.5 239.5,274.8 239.0,275.0 238.4,275.2 237.8,275.5 237.2,275.6 236.8,275.8 236.0,276.0 235.5,276.1 234.8,276.2 234.5,276.3Z" fill="rgb(183,183,183)" stroke="#5a5a5a" stroke-width="0.55"/>
<path d="M234.8,275.8 234.0,275.9 233.2,275.9 232.5,275.9 231.8,275.8 231.2,275.8 230.5,275.6 229.8,275.5 229.2,275.3 229.0,275.0 229.0,274.4 229.2,274.0 229.7,273.5 230.0,273.2 230.5,272.8 230.9,272.5 231.3,272.2 231.8,272.0 232.4,271.8 233.0,271.5 233.5,271.3 234.0,271.2 234.5,271.0 235.2,270.8 235.8,270.7 236.5,270.6 237.2,270.6 238.0,270.6 238.8,270.7 239.2,270.8 240.0,271.0 240.4,271.2 240.8,271.6 241.0,272.1 241.0,272.5 240.8,273.1 240.4,273.5 240.0,273.8 239.5,274.2 239.0,274.4 238.5,274.7 238.0,274.9 237.5,275.1 236.9,275.2 236.2,275.4 235.8,275.6 235.0,275.7 234.8,275.8Z" fill="rgb(172,172,172)" stroke="#5a5a5a" stroke-width="0.55"/>
<path d="M235.0,275.3 234.2,275.4 233.5,275.4 232.8,275.4 232.2,275.2 231.6,275.0 231.1,274.8 230.8,274.4 230.8,273.9 231.0,273.4 231.4,273.0 231.8,272.8 232.2,272.5 232.8,272.2 233.3,272.0 234.0,271.8 234.5,271.6 235.0,271.5 235.8,271.4 236.5,271.3 237.0,271.2 237.5,271.3 238.2,271.3 238.9,271.5 239.4,271.8 239.8,272.2 239.8,272.8 239.5,273.2 239.2,273.5 238.8,273.9 238.2,274.2 237.8,274.4 237.2,274.6 236.8,274.8 236.2,275.0 235.5,275.2 235.0,275.3 235.0,275.3Z" fill="rgb(161,161,161)" stroke="#5a5a5a" stroke-width="0.55"/>
<path d="M235.0,274.8 234.2,274.9 233.5,274.9 232.9,274.8 232.4,274.5 232.1,274.0 232.2,273.4 232.7,273.0 233.1,272.8 233.6,272.5 234.2,272.3 234.8,272.1 235.4,272.0 236.0,271.9 236.8,271.9 237.5,272.0 238.0,272.1 238.5,272.5 238.5,273.0 238.2,273.4 237.8,273.8 237.4,274.0 236.8,274.2 236.2,274.5 235.8,274.6 235.2,274.8 235.0,274.8Z" fill="rgb(150,150,150)" stroke="#5a5a5a" stroke-width="0.55"/>
</g>
<g clip-path="url(#c1)">
<path d="M264.2,274.8 263.5,274.9 262.8,274.8 262.2,274.6 261.8,274.2 261.5,273.9 261.2,273.5 260.9,273.0 260.7,272.5 260.5,271.9 260.4,271.2 260.4,270.5 260.5,269.8 260.5,269.2 260.6,268.5 260.6,267.8 260.7,267.0 260.7,266.2 260.7,265.5 260.8,265.0 260.8,264.2 260.9,263.5 260.9,262.8 261.0,262.2 261.1,261.5 261.2,260.8 261.3,260.2 261.4,259.5 261.5,259.0 261.7,258.2 261.8,257.8 262.0,257.0 262.1,256.5 262.3,256.0 262.5,255.4 262.7,254.8 262.8,254.2 263.0,253.8 263.2,253.0 263.4,252.5 263.6,252.0 263.8,251.5 264.0,251.0 264.2,250.4 264.5,249.9 264.8,249.4 265.0,248.9 265.2,248.4 265.5,247.9 265.8,247.4 266.0,246.9 266.2,246.4 266.5,246.0 266.8,245.5 267.0,245.0 267.2,244.4 267.5,243.9 267.8,243.3 268.0,242.8 268.2,242.2 268.4,241.8 268.6,241.2 268.8,240.8 269.1,240.2 269.4,239.8 269.7,239.2 270.0,238.8 270.2,238.5 270.7,238.0 271.0,237.7 271.4,237.2 271.8,236.9 272.2,236.5 272.5,236.2 273.0,235.8 273.4,235.5 273.8,235.2 274.2,234.8 274.7,234.5 275.2,234.2 275.6,234.0 276.2,233.8 276.8,233.6 277.2,233.5 278.0,233.3 278.8,233.3 279.5,233.3 280.2,233.5 280.8,233.7 281.1,234.0 281.5,234.4 281.8,234.8 282.2,235.2 282.5,235.8 282.7,236.2 282.9,236.8 283.1,237.2 283.2,237.9 283.4,238.5 283.5,239.0 283.7,239.8 283.8,240.2 283.9,241.0 283.9,241.8 283.9,242.5 283.9,243.2 283.9,244.0 283.8,244.8 283.7,245.2 283.6,246.0 283.5,246.7 283.4,247.2 283.2,247.8 283.0,248.4 282.8,249.0 282.6,249.5 282.4,250.0 282.2,250.5 282.0,251.0 281.8,251.6 281.5,252.2 281.3,252.8 281.2,253.2 281.0,253.8 280.8,254.5 280.6,255.0 280.4,255.5 280.2,256.0 280.0,256.7 279.8,257.2 279.6,257.8 279.4,258.2 279.1,258.8 278.9,259.2 278.7,259.8 278.4,260.2 278.2,260.8 277.9,261.2 277.7,261.8 277.4,262.2 277.2,262.8 276.9,263.2 276.6,263.8 276.3,264.2 276.0,264.8 275.8,265.2 275.5,265.5 275.1,266.0 274.8,266.5 274.5,266.9 274.2,267.2 273.8,267.8 273.5,268.1 273.2,268.5 272.9,269.0 272.5,269.5 272.2,269.8 271.9,270.2 271.5,270.7 271.2,271.0 270.8,271.5 270.4,271.8 270.0,272.0 269.5,272.3 269.0,272.6 268.5,272.8 268.0,273.1 267.5,273.4 267.0,273.7 266.5,273.9 266.0,274.2 265.5,274.4 265.0,274.6 264.5,274.8 264.2,274.8Z" fill="rgb(241,241,241)" stroke="#444" stroke-width="0.55"/>
<path d="M264.8,272.3 264.0,272.3 263.5,272.1 263.0,271.8 262.8,271.5 262.5,271.0 262.2,270.4 262.1,269.8 262.0,269.0 262.0,268.5 262.0,267.8 262.0,267.2 262.1,266.5 262.1,265.8 262.2,265.0 262.3,264.5 262.4,263.8 262.5,263.2 262.6,262.5 262.8,261.9 262.9,261.2 263.0,260.6 263.1,260.0 263.3,259.5 263.5,258.8 263.6,258.2 263.8,257.7 264.0,257.0 264.1,256.5 264.3,256.0 264.5,255.2 264.7,254.8 264.8,254.2 265.0,253.7 265.2,253.1 265.5,252.5 265.7,252.0 266.0,251.5 266.2,251.0 266.5,250.6 266.8,250.2 267.0,249.7 267.2,249.2 267.5,248.7 267.8,248.2 268.0,247.7 268.2,247.2 268.5,246.7 268.8,246.1 269.0,245.6 269.2,245.0 269.5,244.5 269.7,244.0 269.9,243.5 270.1,243.0 270.3,242.5 270.5,242.0 270.8,241.5 271.1,241.0 271.4,240.5 271.8,240.1 272.1,239.8 272.5,239.4 272.9,239.0 273.2,238.7 273.8,238.4 274.2,238.0 274.7,237.8 275.1,237.5 275.7,237.2 276.2,237.0 276.8,236.9 277.5,236.8 278.2,236.9 278.8,237.1 279.2,237.3 279.8,237.7 280.0,238.0 280.4,238.5 280.7,239.0 280.9,239.5 281.1,240.0 281.3,240.5 281.5,241.2 281.6,241.8 281.7,242.5 281.7,243.2 281.8,243.8 281.8,244.4 281.7,245.0 281.6,245.8 281.5,246.2 281.3,247.0 281.1,247.5 280.9,248.0 280.7,248.5 280.5,249.1 280.2,249.7 280.0,250.2 279.8,250.8 279.6,251.2 279.4,251.8 279.2,252.3 279.0,253.0 278.8,253.5 278.7,254.0 278.5,254.6 278.3,255.2 278.1,255.8 277.9,256.2 277.7,256.8 277.5,257.3 277.2,257.8 277.0,258.4 276.8,258.9 276.5,259.4 276.2,259.9 276.0,260.4 275.8,260.9 275.5,261.3 275.2,261.8 275.0,262.2 274.7,262.8 274.3,263.2 274.0,263.8 273.8,264.1 273.5,264.5 273.1,265.0 272.8,265.5 272.5,265.8 272.2,266.2 271.8,266.8 271.5,267.2 271.2,267.6 270.9,268.0 270.5,268.5 270.2,268.8 269.8,269.2 269.5,269.6 269.0,270.0 268.7,270.2 268.2,270.6 267.8,270.9 267.2,271.2 266.8,271.5 266.3,271.8 265.8,272.0 265.2,272.2 264.8,272.3 264.8,272.3Z" fill="rgb(234,234,234)" stroke="#444" stroke-width="0.55"/>
<path d="M265.8,270.6 265.0,270.7 264.3,270.5 263.9,270.2 263.5,269.8 263.3,269.2 263.1,268.8 263.0,268.1 262.9,267.5 262.9,266.8 263.0,266.0 263.0,265.5 263.1,264.8 263.2,264.1 263.4,263.5 263.5,262.8 263.6,262.2 263.8,261.6 263.9,261.0 264.0,260.5 264.2,259.8 264.4,259.2 264.5,258.8 264.8,258.1 265.0,257.5 265.1,257.0 265.3,256.5 265.5,255.9 265.8,255.3 265.9,254.8 266.1,254.2 266.3,253.8 266.6,253.2 266.8,252.8 267.1,252.2 267.4,251.8 267.7,251.2 268.0,250.8 268.2,250.3 268.5,249.9 268.8,249.4 269.0,249.0 269.2,248.5 269.5,248.0 269.8,247.5 270.0,247.0 270.3,246.5 270.6,246.0 270.8,245.5 271.1,245.0 271.3,244.5 271.5,244.0 271.8,243.5 272.0,243.0 272.3,242.5 272.7,242.0 273.0,241.6 273.4,241.2 273.8,241.0 274.2,240.6 274.8,240.3 275.2,240.1 275.8,240.0 276.5,239.9 277.0,240.0 277.6,240.2 278.1,240.5 278.5,240.8 279.0,241.2 279.2,241.6 279.5,242.1 279.7,242.8 279.8,243.2 279.9,244.0 279.9,244.8 279.9,245.5 279.8,246.0 279.6,246.8 279.4,247.2 279.2,247.8 279.0,248.5 278.8,249.0 278.6,249.5 278.5,250.0 278.2,250.6 278.0,251.2 277.9,251.8 277.7,252.2 277.5,252.9 277.3,253.5 277.2,254.0 277.0,254.6 276.8,255.2 276.6,255.8 276.4,256.2 276.2,256.8 276.0,257.2 275.7,257.8 275.5,258.2 275.2,258.8 275.0,259.3 274.8,259.8 274.5,260.3 274.2,260.8 274.0,261.3 273.7,261.8 273.4,262.2 273.1,262.8 272.8,263.2 272.5,263.7 272.2,264.1 272.0,264.5 271.7,265.0 271.3,265.5 271.0,266.0 270.8,266.3 270.5,266.8 270.1,267.2 269.8,267.7 269.5,268.0 269.0,268.5 268.7,268.8 268.2,269.2 267.8,269.5 267.5,269.8 267.0,270.0 266.5,270.3 265.9,270.5 265.8,270.6Z" fill="rgb(225,225,225)" stroke="#444" stroke-width="0.55"/>
<path d="M266.2,269.3 265.5,269.4 264.8,269.2 264.4,269.0 264.1,268.5 263.9,268.0 263.8,267.3 263.7,266.8 263.7,266.0 263.8,265.5 263.8,264.8 263.9,264.0 264.0,263.5 264.2,262.8 264.3,262.2 264.5,261.5 264.6,261.0 264.8,260.5 265.0,259.8 265.1,259.2 265.3,258.8 265.5,258.2 265.7,257.5 265.9,257.0 266.1,256.5 266.3,256.0 266.5,255.5 266.8,255.0 267.0,254.4 267.2,253.9 267.5,253.4 267.8,253.0 268.0,252.5 268.4,252.0 268.7,251.5 269.0,251.0 269.2,250.6 269.5,250.2 269.8,249.8 270.1,249.2 270.4,248.8 270.7,248.2 271.0,247.8 271.2,247.4 271.5,247.0 271.9,246.5 272.2,246.0 272.5,245.6 272.8,245.2 273.0,244.8 273.4,244.2 273.7,243.8 274.0,243.5 274.5,243.1 275.0,242.8 275.5,242.7 276.2,242.7 276.8,242.8 277.2,243.2 277.5,243.6 277.8,244.1 277.9,244.8 278.0,245.5 277.9,246.2 277.8,247.0 277.7,247.5 277.6,248.2 277.4,248.8 277.3,249.5 277.1,250.0 277.0,250.5 276.8,251.2 276.7,251.8 276.5,252.5 276.4,253.0 276.2,253.5 276.0,254.2 275.9,254.8 275.7,255.2 275.5,255.8 275.2,256.4 275.0,257.0 274.8,257.5 274.6,258.0 274.4,258.5 274.2,259.0 273.9,259.5 273.7,260.0 273.5,260.5 273.2,261.0 272.9,261.5 272.7,262.0 272.4,262.5 272.1,263.0 271.8,263.5 271.5,263.9 271.2,264.3 270.9,264.8 270.6,265.2 270.2,265.7 270.0,266.1 269.7,266.5 269.3,267.0 269.0,267.3 268.6,267.8 268.2,268.1 267.8,268.5 267.4,268.8 267.0,269.0 266.5,269.2 266.2,269.3Z" fill="rgb(213,213,213)" stroke="#444" stroke-width="0.55"/>
<path d="M266.8,268.3 266.0,268.5 265.2,268.3 264.8,268.0 264.6,267.5 264.4,267.0 264.3,266.2 264.3,265.5 264.4,264.8 264.5,264.0 264.5,263.5 264.7,262.8 264.8,262.2 265.0,261.5 265.1,261.0 265.3,260.5 265.5,259.8 265.6,259.2 265.8,258.8 266.0,258.2 266.2,257.6 266.5,257.0 266.7,256.5 266.9,256.0 267.2,255.5 267.4,255.0 267.6,254.5 267.9,254.0 268.2,253.5 268.5,253.0 268.8,252.6 269.0,252.2 269.3,251.8 269.7,251.2 270.0,250.8 270.2,250.5 270.6,250.0 271.0,249.5 271.2,249.1 271.5,248.8 271.9,248.2 272.2,247.9 272.6,247.5 273.0,247.1 273.4,246.8 273.8,246.5 274.2,246.1 274.8,245.9 275.5,245.9 275.8,246.2 276.0,246.8 276.2,247.5 276.2,248.2 276.2,249.0 276.1,249.8 276.0,250.5 275.9,251.0 275.8,251.8 275.7,252.2 275.6,253.0 275.5,253.5 275.3,254.2 275.1,254.8 275.0,255.2 274.8,255.9 274.5,256.5 274.3,257.0 274.1,257.5 273.9,258.0 273.7,258.5 273.5,259.0 273.2,259.6 273.0,260.2 272.8,260.7 272.5,261.2 272.2,261.6 272.0,262.1 271.7,262.5 271.4,263.0 271.1,263.5 270.8,264.0 270.5,264.4 270.2,264.8 269.9,265.2 269.6,265.8 269.2,266.2 269.0,266.5 268.5,267.0 268.2,267.3 267.8,267.7 267.3,268.0 266.8,268.2 266.8,268.3Z" fill="rgb(200,200,200)" stroke="#444" stroke-width="0.55"/>
<path d="M266.8,267.5 266.0,267.6 265.5,267.4 265.2,267.0 265.0,266.5 264.9,265.8 264.9,265.0 264.9,264.2 265.0,263.5 265.1,263.0 265.2,262.2 265.3,261.8 265.5,261.1 265.7,260.5 265.8,260.0 266.0,259.5 266.2,258.8 266.5,258.2 266.7,257.8 266.9,257.2 267.1,256.8 267.3,256.2 267.5,255.8 267.8,255.2 268.1,254.8 268.3,254.2 268.7,253.8 269.0,253.2 269.2,252.9 269.5,252.5 269.9,252.0 270.2,251.5 270.5,251.2 270.9,250.8 271.2,250.3 271.6,250.0 272.0,249.6 272.4,249.2 272.8,248.9 273.2,248.6 273.8,248.4 274.3,248.5 274.8,248.9 275.0,249.5 275.0,250.0 275.1,250.8 275.1,251.5 275.0,252.2 275.0,252.8 274.8,253.5 274.7,254.0 274.5,254.8 274.4,255.2 274.2,255.8 274.0,256.4 273.8,257.0 273.6,257.5 273.4,258.0 273.2,258.5 273.0,259.0 272.8,259.6 272.5,260.2 272.2,260.7 272.0,261.2 271.8,261.6 271.5,262.1 271.2,262.5 270.9,263.0 270.6,263.5 270.3,264.0 270.0,264.4 269.7,264.8 269.4,265.2 269.0,265.7 268.7,266.0 268.3,266.5 268.0,266.8 267.5,267.1 267.0,267.4 266.8,267.5Z" fill="rgb(185,185,185)" stroke="#444" stroke-width="0.55"/>
<path d="M266.5,266.8 266.0,266.6 265.6,266.2 265.5,265.8 265.4,265.0 265.4,264.2 265.4,263.5 265.5,262.9 265.6,262.2 265.8,261.6 265.9,261.0 266.1,260.5 266.2,259.9 266.5,259.2 266.6,258.8 266.8,258.2 267.0,257.8 267.3,257.2 267.5,256.7 267.8,256.2 268.0,255.7 268.3,255.2 268.6,254.8 268.9,254.2 269.2,253.8 269.5,253.3 269.8,253.0 270.2,252.5 270.5,252.1 270.8,251.8 271.2,251.3 271.6,251.0 272.0,250.7 272.5,250.4 273.0,250.2 273.6,250.2 274.0,250.7 274.2,251.2 274.3,251.8 274.3,252.5 274.3,253.2 274.2,253.8 274.1,254.5 274.0,255.0 273.8,255.7 273.6,256.2 273.4,256.8 273.2,257.2 273.0,257.9 272.8,258.5 272.6,259.0 272.4,259.5 272.2,260.0 271.9,260.5 271.7,261.0 271.4,261.5 271.1,262.0 270.8,262.5 270.5,263.0 270.2,263.4 270.0,263.8 269.6,264.2 269.2,264.7 269.0,265.0 268.6,265.5 268.2,265.8 267.8,266.2 267.3,266.5 266.8,266.7 266.5,266.8Z" fill="rgb(168,168,168)" stroke="#444" stroke-width="0.55"/>
<path d="M267.2,265.8 266.5,265.8 266.1,265.5 265.9,265.0 265.8,264.2 265.8,263.5 265.9,262.8 266.0,262.2 266.1,261.5 266.3,261.0 266.5,260.2 266.6,259.8 266.8,259.2 267.0,258.7 267.2,258.1 267.5,257.6 267.8,257.0 268.0,256.5 268.2,256.0 268.5,255.6 268.8,255.2 269.0,254.8 269.4,254.2 269.7,253.8 270.0,253.4 270.4,253.0 270.8,252.6 271.1,252.2 271.5,252.0 272.0,251.7 272.5,251.5 273.0,251.6 273.4,252.0 273.6,252.5 273.7,253.2 273.6,254.0 273.5,254.8 273.4,255.2 273.2,255.9 273.1,256.5 272.9,257.0 272.8,257.5 272.5,258.2 272.3,258.8 272.1,259.2 271.9,259.8 271.7,260.2 271.4,260.8 271.2,261.2 270.9,261.8 270.6,262.2 270.2,262.7 270.0,263.1 269.7,263.5 269.3,264.0 269.0,264.4 268.7,264.8 268.2,265.2 267.8,265.5 267.4,265.8 267.2,265.8Z" fill="rgb(150,150,150)" stroke="#444" stroke-width="0.55"/>
<path d="M267.2,265.0 266.8,264.9 266.5,264.5 266.3,263.8 266.3,263.0 266.4,262.2 266.5,261.5 266.6,261.0 266.8,260.5 267.0,259.8 267.1,259.2 267.3,258.8 267.5,258.2 267.8,257.8 268.0,257.2 268.3,256.8 268.5,256.2 268.8,255.8 269.1,255.2 269.5,254.8 269.8,254.4 270.1,254.0 270.5,253.6 270.9,253.2 271.2,253.0 271.8,252.7 272.5,252.7 272.8,253.0 273.0,253.5 273.1,254.2 273.0,255.0 272.9,255.5 272.8,256.2 272.6,256.8 272.5,257.2 272.2,257.9 272.1,258.5 271.9,259.0 271.7,259.5 271.4,260.0 271.2,260.5 270.9,261.0 270.6,261.5 270.3,262.0 270.0,262.5 269.8,262.8 269.4,263.2 269.0,263.8 268.8,264.0 268.3,264.5 267.9,264.8 267.3,265.0 267.2,265.0Z" fill="rgb(131,131,131)" stroke="#444" stroke-width="0.55"/>
<path d="M267.8,264.1 267.1,264.0 266.8,263.5 266.7,263.0 266.8,262.4 266.8,261.8 267.0,261.0 267.1,260.5 267.2,259.9 267.5,259.2 267.7,258.8 267.9,258.2 268.1,257.8 268.4,257.2 268.6,256.8 268.9,256.2 269.2,255.8 269.5,255.4 269.8,255.0 270.2,254.5 270.6,254.2 271.0,253.9 271.5,253.7 272.1,253.8 272.4,254.2 272.5,255.0 272.4,255.8 272.3,256.5 272.1,257.0 272.0,257.5 271.8,258.2 271.6,258.8 271.4,259.2 271.2,259.8 271.0,260.2 270.7,260.8 270.4,261.2 270.1,261.8 269.8,262.2 269.5,262.6 269.1,263.0 268.8,263.4 268.4,263.8 268.0,264.0 267.8,264.1Z" fill="rgb(110,110,110)" stroke="#444" stroke-width="0.55"/>
<path d="M268.2,263.1 267.5,263.1 267.3,262.5 267.2,262.0 267.3,261.5 267.4,260.8 267.5,260.2 267.7,259.5 267.9,259.0 268.1,258.5 268.4,258.0 268.6,257.5 268.9,257.0 269.2,256.5 269.5,256.1 269.8,255.8 270.2,255.3 270.6,255.0 271.1,254.8 271.5,254.8 271.8,255.2 271.9,256.0 271.8,256.8 271.7,257.2 271.5,258.0 271.3,258.5 271.2,259.0 271.0,259.5 270.7,260.0 270.5,260.5 270.2,261.0 269.8,261.5 269.5,262.0 269.2,262.3 268.8,262.8 268.4,263.0 268.2,263.1Z" fill="rgb(88,88,88)" stroke="#444" stroke-width="0.55"/>
<path d="M268.5,262.3 268.0,262.2 267.7,261.8 267.7,261.0 267.8,260.5 268.0,259.8 268.2,259.2 268.4,258.8 268.6,258.2 268.9,257.8 269.2,257.2 269.5,256.8 269.8,256.5 270.2,256.0 270.7,255.8 271.0,255.8 271.3,256.2 271.3,257.0 271.2,257.5 271.1,258.2 270.9,258.8 270.7,259.2 270.5,259.8 270.2,260.2 269.9,260.8 269.6,261.2 269.2,261.6 268.9,262.0 268.5,262.3 268.5,262.3Z" fill="rgb(64,64,64)" stroke="#444" stroke-width="0.55"/>
<path d="M268.8,261.4 268.2,261.1 268.2,260.5 268.3,260.0 268.5,259.3 268.7,258.8 269.0,258.2 269.2,257.8 269.5,257.4 269.9,257.0 270.4,256.8 270.7,257.0 270.8,257.5 270.7,258.0 270.5,258.8 270.4,259.2 270.1,259.8 269.8,260.2 269.5,260.7 269.2,261.0 268.8,261.4 268.8,261.4Z" fill="rgb(40,40,40)" stroke="#444" stroke-width="0.55"/>
</g>
<ellipse cx="268.9" cy="260.6" rx="3.2" ry="0.9" transform="rotate(-65 268.9 260.6)" fill="#eee" opacity="0.8"/>
<rect x="209.6" y="187.5" width="94.29999999999998" height="93.5" fill="none" stroke="#1a1a1a" stroke-width="1.3"/>
<path d="M209.6,281.00 h-3.0M209.6,277.43 h-1.6M209.6,273.86 h-1.6M209.6,270.30 h-1.6M209.6,266.73 h-1.6M209.6,263.16 h-3.0M209.6,259.59 h-1.6M209.6,256.02 h-1.6M209.6,252.46 h-1.6M209.6,248.89 h-1.6M209.6,245.32 h-3.0M209.6,241.75 h-1.6M209.6,238.18 h-1.6M209.6,234.62 h-1.6M209.6,231.05 h-1.6M209.6,227.48 h-3.0M209.6,223.91 h-1.6M209.6,220.34 h-1.6M209.6,216.78 h-1.6M209.6,213.21 h-1.6M209.6,209.64 h-3.0M209.6,206.07 h-1.6M209.6,202.50 h-1.6M209.6,198.94 h-1.6M209.6,195.37 h-1.6M209.6,191.80 h-3.0" stroke="#1a1a1a" stroke-width="0.9" fill="none"/>
<text transform="translate(202.79999999999998 283.1) scale(1.0 1)" font-size="6.2" fill="#333" text-anchor="end">0</text>
<text transform="translate(202.79999999999998 265.26000000000005) scale(1.0 1)" font-size="6.2" fill="#333" text-anchor="end">50K</text>
<text transform="translate(202.79999999999998 247.42) scale(1.0 1)" font-size="6.2" fill="#333" text-anchor="end">100K</text>
<text transform="translate(202.79999999999998 229.58) scale(1.0 1)" font-size="6.2" fill="#333" text-anchor="end">150K</text>
<text transform="translate(202.79999999999998 211.74) scale(1.0 1)" font-size="6.2" fill="#333" text-anchor="end">200K</text>
<text transform="translate(202.79999999999998 193.9) scale(1.0 1)" font-size="6.2" fill="#333" text-anchor="end">250K</text>
<path d="M211.10,281 v2.0M212.55,281 v2.0M214.00,281 v2.0M215.45,281 v2.0M216.90,281 v2.0M218.35,281 v2.0M219.80,281 v2.0M221.25,281 v2.0M222.70,281 v2.0M224.15,281 v2.0M225.60,281 v2.0M227.05,281 v2.0M235.58,281 v1.6M239.67,281 v1.6M242.57,281 v1.6M244.82,281 v1.6M246.65,281 v1.6M248.21,281 v1.6M249.55,281 v1.6M250.74,281 v1.6M258.45,281 v1.6M262.34,281 v1.6M265.11,281 v1.6M267.25,281 v1.6M269.00,281 v1.6M270.48,281 v1.6M271.76,281 v1.6M272.89,281 v1.6M280.31,281 v1.6M284.06,281 v1.6M286.72,281 v1.6M288.79,281 v1.6M290.47,281 v1.6M291.90,281 v1.6M293.14,281 v1.6M294.23,281 v1.6M301.61,281 v1.6M219.50,281 v3.0M228.60,281 v3.0M251.80,281 v3.0M273.90,281 v3.0M295.20,281 v3.0" stroke="#1a1a1a" stroke-width="0.9" fill="none"/>
<text x="219.5" y="290.4" font-size="6.2" fill="#333" text-anchor="middle">0</text>
<text x="224.2" y="290.4" font-size="6.7" fill="#333" transform="translate(224.2 0) scale(0.86 1) translate(-224.2 0)">10<tspan font-size="4.02" dy="-2.9">2</tspan></text>
<text x="247.3" y="290.4" font-size="6.7" fill="#333" transform="translate(247.3 0) scale(0.86 1) translate(-247.3 0)">10<tspan font-size="4.02" dy="-2.9">3</tspan></text>
<text x="269.4" y="290.4" font-size="6.7" fill="#333" transform="translate(269.4 0) scale(0.86 1) translate(-269.4 0)">10<tspan font-size="4.02" dy="-2.9">4</tspan></text>
<text x="290.6" y="290.4" font-size="6.7" fill="#333" transform="translate(290.6 0) scale(0.86 1) translate(-290.6 0)">10<tspan font-size="4.02" dy="-2.9">5</tspan></text>
<text transform="translate(183 234.1) rotate(-90) scale(0.66 1)" x="0" y="0" font-size="10" text-anchor="middle" font-weight="normal" fill="#222">SSC</text>
<rect x="393.6" y="202.6" width="41.0" height="38.0" fill="none" stroke="#aaaad2" stroke-width="0.9"/>
<g clip-path="url(#c2)">
<path d="M404.0,280.3 403.2,280.3 402.7,280.2 402.1,280.0 401.7,279.8 401.2,279.4 400.8,279.0 400.5,278.7 400.2,278.2 399.8,277.8 399.5,277.2 399.3,276.8 399.1,276.2 398.9,275.8 398.7,275.2 398.5,274.5 398.4,274.0 398.3,273.2 398.2,272.8 398.0,272.0 397.9,271.5 397.7,271.0 397.5,270.2 397.4,269.8 397.2,269.2 397.0,268.6 396.8,268.0 396.7,267.5 396.5,266.8 396.4,266.2 396.2,265.6 396.1,265.0 396.0,264.2 395.9,263.8 395.8,263.0 395.8,262.2 395.7,261.8 395.6,261.0 395.6,260.2 395.5,259.6 395.4,259.0 395.4,258.2 395.4,257.5 395.3,256.8 395.3,256.0 395.4,255.2 395.4,254.5 395.4,253.8 395.4,253.0 395.4,252.2 395.3,251.5 395.1,251.0 394.8,250.5 394.3,250.2 393.8,250.2 393.2,250.3 392.5,250.5 392.0,250.6 391.5,250.8 391.0,251.0 390.5,251.2 390.0,251.5 389.5,251.8 389.0,252.1 388.5,252.4 388.0,252.7 387.5,252.8 386.8,253.0 386.0,252.9 385.5,252.8 385.0,252.5 384.5,252.0 384.2,251.7 384.0,251.0 383.9,250.5 384.0,249.9 384.2,249.3 384.5,249.0 385.0,248.6 385.5,248.4 386.2,248.3 387.0,248.3 387.6,248.5 388.2,248.7 388.8,248.9 389.5,249.0 390.2,248.9 390.8,248.7 391.2,248.5 391.8,248.2 392.2,248.0 392.8,247.8 393.3,247.5 393.9,247.2 394.3,247.0 394.8,246.7 395.2,246.2 395.5,245.9 395.8,245.5 396.0,244.9 396.2,244.2 396.4,243.8 396.5,243.2 396.7,242.5 396.8,242.0 397.0,241.4 397.2,240.8 397.3,240.2 397.5,239.6 397.7,239.0 397.9,238.5 398.0,238.0 398.2,237.4 398.5,236.8 398.6,236.2 398.8,235.8 399.0,235.2 399.2,234.7 399.6,234.2 399.9,233.8 400.2,233.3 400.5,232.9 400.8,232.5 401.2,232.0 401.5,231.5 401.8,231.2 402.1,230.8 402.5,230.2 402.8,229.9 403.1,229.5 403.5,229.1 403.8,228.8 404.2,228.3 404.6,228.0 405.0,227.7 405.5,227.3 406.0,227.0 406.4,226.8 407.0,226.5 407.5,226.3 408.0,226.2 408.8,226.0 409.2,225.9 410.0,225.9 410.8,225.9 411.5,226.0 412.0,226.1 412.7,226.2 413.2,226.5 413.8,226.7 414.2,227.0 414.5,227.2 415.0,227.6 415.4,228.0 415.8,228.4 416.0,228.8 416.4,229.2 416.7,229.8 416.9,230.2 417.1,230.8 417.3,231.2 417.5,231.8 417.7,232.5 417.8,233.0 417.9,233.8 418.0,234.5 418.0,235.2 418.0,236.0 417.9,236.8 417.8,237.5 417.7,238.0 417.5,238.8 417.4,239.2 417.2,239.8 417.0,240.5 416.9,241.0 416.7,241.5 416.5,242.2 416.4,242.8 416.2,243.2 416.0,244.0 415.9,244.5 415.7,245.0 415.5,245.6 415.2,246.1 415.0,246.6 414.8,247.2 414.6,247.8 414.5,248.2 414.3,249.0 414.1,249.5 413.9,250.0 413.7,250.5 413.5,251.0 413.2,251.5 412.9,252.0 412.7,252.5 412.4,253.0 412.1,253.5 411.9,254.0 411.6,254.5 411.4,255.0 411.1,255.5 410.9,256.0 410.8,256.5 410.6,257.2 410.4,257.8 410.3,258.5 410.2,259.0 410.0,259.8 409.9,260.2 409.8,261.0 409.7,261.5 409.7,262.2 409.5,263.0 409.5,263.5 409.3,264.2 409.2,264.8 409.1,265.5 409.0,266.2 409.0,266.8 408.9,267.5 408.9,268.2 408.9,269.0 408.8,269.8 408.8,270.5 408.8,271.0 408.6,271.8 408.5,272.4 408.3,273.0 408.1,273.5 407.9,274.0 407.7,274.5 407.5,275.0 407.2,275.5 407.0,276.0 406.7,276.5 406.4,277.0 406.2,277.5 406.0,278.0 405.7,278.5 405.5,279.0 405.1,279.5 404.8,279.9 404.2,280.2 404.0,280.3Z" fill="rgb(244,244,244)" stroke="#444" stroke-width="0.55"/>
<path d="M403.5,275.5 402.8,275.6 402.2,275.5 401.8,275.2 401.2,274.8 401.0,274.5 400.7,274.0 400.4,273.5 400.2,273.0 400.0,272.4 399.8,271.8 399.6,271.2 399.4,270.8 399.2,270.2 399.0,269.5 398.8,269.0 398.7,268.5 398.5,267.9 398.3,267.2 398.1,266.8 398.0,266.2 397.8,265.5 397.7,265.0 397.6,264.2 397.5,263.7 397.4,263.0 397.3,262.2 397.2,261.8 397.1,261.0 397.1,260.2 397.0,259.6 396.9,259.0 396.9,258.2 396.9,257.5 396.8,256.8 396.9,256.0 396.9,255.2 396.9,254.5 396.9,253.8 396.9,253.0 396.9,252.2 396.9,251.5 396.9,250.8 396.9,250.0 396.9,249.2 397.0,248.5 397.0,248.0 397.1,247.2 397.3,246.8 397.4,246.0 397.6,245.5 397.8,244.9 397.9,244.2 398.0,243.8 398.2,243.0 398.4,242.5 398.5,242.0 398.7,241.2 398.8,240.8 399.0,240.2 399.2,239.5 399.5,239.0 399.7,238.5 400.0,238.0 400.2,237.5 400.5,237.0 400.8,236.6 401.0,236.1 401.2,235.7 401.5,235.2 401.9,234.8 402.2,234.3 402.5,233.9 402.9,233.5 403.2,233.0 403.5,232.8 404.0,232.2 404.2,232.0 404.8,231.5 405.0,231.2 405.5,230.9 406.0,230.5 406.4,230.2 406.9,230.0 407.5,229.8 408.0,229.6 408.6,229.5 409.2,229.4 410.0,229.4 410.8,229.4 411.2,229.5 411.9,229.8 412.4,230.0 412.8,230.2 413.2,230.6 413.6,231.0 414.0,231.5 414.2,231.9 414.5,232.4 414.8,232.9 415.0,233.5 415.1,234.0 415.2,234.8 415.3,235.2 415.3,236.0 415.3,236.8 415.3,237.5 415.2,238.0 415.1,238.8 415.0,239.2 414.8,240.0 414.7,240.5 414.5,241.2 414.4,241.8 414.2,242.2 414.0,243.0 413.8,243.5 413.7,244.0 413.5,244.5 413.3,245.2 413.1,245.8 413.0,246.2 412.8,247.0 412.6,247.5 412.5,248.0 412.2,248.6 412.0,249.2 411.8,249.8 411.6,250.2 411.4,250.8 411.1,251.2 410.9,251.8 410.6,252.2 410.4,252.8 410.2,253.2 409.9,253.8 409.7,254.2 409.5,254.9 409.3,255.5 409.2,256.0 409.0,256.7 408.9,257.2 408.8,257.8 408.6,258.5 408.5,259.0 408.4,259.8 408.2,260.3 408.1,261.0 408.0,261.8 407.9,262.2 407.8,263.0 407.7,263.5 407.6,264.2 407.5,264.9 407.4,265.5 407.3,266.2 407.2,266.8 407.2,267.5 407.1,268.2 407.1,269.0 407.0,269.8 406.9,270.2 406.8,271.0 406.7,271.5 406.5,272.1 406.2,272.6 406.0,273.1 405.8,273.5 405.4,274.0 405.0,274.5 404.7,274.8 404.2,275.1 403.8,275.4 403.5,275.5Z" fill="rgb(238,238,238)" stroke="#444" stroke-width="0.55"/>
<path d="M403.5,272.0 402.8,272.1 402.2,271.9 401.8,271.5 401.5,271.1 401.2,270.7 401.0,270.2 400.7,269.8 400.5,269.2 400.2,268.7 400.0,268.1 399.8,267.5 399.6,267.0 399.4,266.5 399.2,266.0 399.0,265.2 398.9,264.8 398.7,264.2 398.6,263.5 398.5,263.0 398.3,262.2 398.2,261.6 398.2,261.0 398.1,260.2 398.0,259.8 397.9,259.0 397.8,258.2 397.8,257.5 397.8,256.8 397.8,256.0 397.8,255.2 397.8,254.5 397.8,253.8 397.8,253.0 397.8,252.2 397.8,251.5 397.9,250.8 397.9,250.0 398.0,249.2 398.0,248.8 398.1,248.0 398.2,247.2 398.3,246.8 398.5,246.0 398.6,245.5 398.8,245.0 398.9,244.2 399.1,243.8 399.2,243.2 399.5,242.5 399.6,242.0 399.8,241.5 400.0,240.9 400.2,240.2 400.5,239.8 400.7,239.2 401.0,238.8 401.2,238.4 401.5,238.0 401.8,237.5 402.2,237.0 402.5,236.6 402.8,236.2 403.2,235.8 403.5,235.4 404.0,235.0 404.2,234.7 404.8,234.3 405.2,234.0 405.5,233.8 406.0,233.4 406.5,233.1 407.0,232.8 407.5,232.6 408.0,232.4 408.8,232.3 409.5,232.3 410.2,232.4 410.8,232.5 411.2,232.8 411.8,233.1 412.1,233.5 412.5,233.9 412.8,234.3 413.0,234.9 413.2,235.5 413.3,236.0 413.3,236.8 413.2,237.2 413.1,238.0 413.0,238.7 412.9,239.2 412.8,240.0 412.7,240.5 412.5,241.2 412.4,241.8 412.2,242.2 412.0,242.8 411.8,243.5 411.6,244.0 411.4,244.5 411.2,245.0 411.1,245.8 411.0,246.2 410.8,247.0 410.7,247.5 410.5,248.2 410.4,248.8 410.2,249.2 410.0,249.8 409.8,250.5 409.6,251.0 409.5,251.5 409.2,252.1 409.0,252.8 408.9,253.2 408.7,253.8 408.5,254.4 408.4,255.0 408.2,255.5 408.0,256.2 407.9,256.8 407.8,257.5 407.7,258.0 407.5,258.7 407.4,259.2 407.2,259.8 407.1,260.5 407.0,261.0 406.9,261.8 406.8,262.4 406.6,263.0 406.5,263.6 406.4,264.2 406.2,264.8 406.1,265.5 406.0,266.0 405.9,266.8 405.8,267.3 405.6,268.0 405.5,268.6 405.3,269.2 405.2,269.8 405.0,270.3 404.8,270.8 404.5,271.2 404.0,271.8 403.6,272.0 403.5,272.0Z" fill="rgb(229,229,229)" stroke="#444" stroke-width="0.55"/>
<path d="M403.2,268.3 402.5,268.3 402.0,268.1 401.7,267.8 401.3,267.2 401.0,266.9 400.8,266.4 400.5,266.0 400.2,265.4 400.0,264.8 399.8,264.2 399.6,263.8 399.5,263.2 399.3,262.5 399.2,262.0 399.0,261.2 398.9,260.8 398.8,260.0 398.7,259.5 398.6,258.8 398.6,258.0 398.5,257.2 398.5,256.8 398.5,256.0 398.5,255.2 398.5,254.5 398.5,253.8 398.5,253.0 398.5,252.2 398.5,251.8 398.5,251.0 398.6,250.2 398.7,249.5 398.8,248.8 398.8,248.2 399.0,247.5 399.0,247.0 399.2,246.2 399.3,245.8 399.5,245.1 399.7,244.5 399.8,244.0 400.0,243.5 400.2,242.8 400.4,242.2 400.6,241.8 400.9,241.2 401.1,240.8 401.4,240.2 401.7,239.8 402.0,239.3 402.2,238.9 402.6,238.5 403.0,238.0 403.3,237.8 403.8,237.3 404.1,237.0 404.5,236.8 405.0,236.5 405.5,236.2 406.1,236.0 406.8,235.8 407.2,235.7 408.0,235.7 408.8,235.7 409.2,235.9 409.8,236.1 410.2,236.5 410.4,237.0 410.5,237.5 410.6,238.2 410.7,239.0 410.6,239.8 410.6,240.5 410.5,241.0 410.3,241.8 410.1,242.2 410.0,242.8 409.8,243.5 409.7,244.0 409.6,244.8 409.5,245.3 409.4,246.0 409.3,246.8 409.2,247.3 409.1,248.0 409.0,248.5 408.8,249.2 408.7,249.8 408.6,250.5 408.5,251.1 408.4,251.8 408.2,252.2 408.0,253.0 407.9,253.5 407.8,254.1 407.6,254.8 407.5,255.2 407.3,256.0 407.2,256.5 407.0,257.2 406.9,257.8 406.8,258.4 406.6,259.0 406.5,259.5 406.3,260.2 406.2,260.8 406.0,261.5 405.9,262.0 405.8,262.6 405.6,263.2 405.4,263.8 405.2,264.4 405.0,265.0 404.9,265.5 404.7,266.0 404.5,266.5 404.2,267.0 404.0,267.5 403.6,268.0 403.2,268.3 403.2,268.3Z" fill="rgb(217,217,217)" stroke="#444" stroke-width="0.55"/>
<path d="M403.0,265.6 402.2,265.6 401.8,265.3 401.4,265.0 401.0,264.5 400.8,264.0 400.5,263.5 400.3,263.0 400.1,262.5 400.0,262.0 399.8,261.2 399.6,260.8 399.5,260.1 399.4,259.5 399.3,258.8 399.2,258.2 399.1,257.5 399.0,256.8 399.0,256.0 399.0,255.5 399.0,254.8 399.0,254.0 399.0,253.2 399.0,252.7 399.0,252.0 399.0,251.2 399.1,250.5 399.2,249.8 399.2,249.2 399.3,248.5 399.5,247.8 399.6,247.2 399.7,246.5 399.9,246.0 400.0,245.5 400.2,244.8 400.4,244.2 400.6,243.8 400.8,243.2 401.0,242.7 401.2,242.2 401.5,241.7 401.8,241.2 402.1,240.8 402.4,240.2 402.8,239.9 403.1,239.5 403.5,239.1 404.0,238.8 404.5,238.5 405.0,238.3 405.5,238.2 406.2,238.1 406.8,238.2 407.3,238.5 407.8,238.8 408.1,239.2 408.2,239.8 408.3,240.5 408.3,241.2 408.3,242.0 408.4,242.8 408.4,243.5 408.5,244.2 408.4,245.0 408.4,245.8 408.4,246.5 408.3,247.2 408.2,247.8 408.1,248.5 408.0,249.2 407.9,249.8 407.9,250.5 407.8,251.2 407.7,251.8 407.5,252.5 407.4,253.0 407.2,253.6 407.1,254.2 407.0,254.8 406.8,255.5 406.7,256.0 406.5,256.8 406.4,257.2 406.2,257.9 406.1,258.5 405.9,259.0 405.8,259.7 405.6,260.2 405.5,260.8 405.3,261.5 405.1,262.0 405.0,262.5 404.8,263.1 404.5,263.7 404.2,264.2 404.0,264.6 403.7,265.0 403.2,265.4 403.0,265.6Z" fill="rgb(205,205,205)" stroke="#444" stroke-width="0.55"/>
<path d="M402.8,263.8 402.2,263.8 401.8,263.5 401.3,263.0 401.0,262.5 400.8,262.0 400.6,261.5 400.4,261.0 400.2,260.5 400.0,259.8 399.9,259.2 399.8,258.5 399.7,258.0 399.6,257.2 399.5,256.5 399.5,256.0 399.4,255.2 399.4,254.5 399.4,253.8 399.4,253.0 399.4,252.2 399.5,251.5 399.5,251.0 399.6,250.2 399.7,249.5 399.8,248.9 399.9,248.2 400.0,247.5 400.1,247.0 400.2,246.4 400.4,245.8 400.6,245.2 400.8,244.8 401.0,244.1 401.2,243.6 401.5,243.0 401.8,242.6 402.0,242.2 402.3,241.8 402.7,241.2 403.0,240.9 403.5,240.5 403.9,240.2 404.4,240.0 405.0,239.8 405.8,239.9 406.2,240.2 406.5,240.5 406.8,241.0 407.0,241.5 407.2,242.2 407.3,242.8 407.5,243.5 407.6,244.0 407.6,244.8 407.6,245.5 407.6,246.2 407.6,247.0 407.5,247.8 407.5,248.2 407.4,249.0 407.3,249.8 407.3,250.5 407.2,251.0 407.1,251.8 407.0,252.3 406.9,253.0 406.8,253.6 406.6,254.2 406.5,254.8 406.3,255.5 406.2,256.0 406.0,256.8 405.9,257.2 405.7,257.8 405.5,258.5 405.4,259.0 405.2,259.5 405.0,260.1 404.8,260.8 404.6,261.2 404.4,261.8 404.2,262.2 403.9,262.8 403.6,263.2 403.2,263.6 402.8,263.8 402.8,263.8Z" fill="rgb(190,190,190)" stroke="#444" stroke-width="0.55"/>
<path d="M403.0,262.1 402.2,262.2 401.8,261.8 401.5,261.5 401.2,261.0 400.9,260.5 400.7,260.0 400.5,259.3 400.4,258.8 400.2,258.2 400.1,257.5 400.0,256.9 399.9,256.2 399.9,255.5 399.8,254.8 399.8,254.0 399.8,253.2 399.8,252.5 399.9,251.8 399.9,251.0 400.0,250.2 400.0,249.8 400.2,249.0 400.2,248.4 400.4,247.8 400.5,247.2 400.7,246.5 400.8,246.0 401.0,245.5 401.2,244.8 401.5,244.2 401.8,243.8 402.0,243.3 402.2,242.9 402.6,242.5 403.0,242.1 403.4,241.8 403.8,241.5 404.5,241.2 404.9,241.2 405.5,241.5 405.8,241.8 406.2,242.2 406.4,242.8 406.6,243.2 406.8,243.9 406.9,244.5 407.0,245.2 407.0,246.0 407.0,246.5 407.0,247.0 407.0,247.8 406.9,248.5 406.9,249.2 406.8,250.0 406.8,250.8 406.7,251.2 406.6,252.0 406.5,252.6 406.4,253.2 406.2,253.8 406.1,254.5 406.0,255.0 405.8,255.8 405.7,256.2 405.5,256.9 405.3,257.5 405.1,258.0 405.0,258.5 404.8,259.1 404.5,259.7 404.3,260.2 404.0,260.8 403.8,261.2 403.5,261.7 403.2,262.0 403.0,262.1Z" fill="rgb(174,174,174)" stroke="#444" stroke-width="0.55"/>
<path d="M403.0,260.6 402.2,260.6 401.8,260.3 401.5,259.9 401.2,259.5 401.0,258.9 400.8,258.2 400.6,257.8 400.5,257.2 400.4,256.5 400.3,255.8 400.2,255.2 400.2,254.5 400.2,253.8 400.2,253.0 400.2,252.2 400.2,251.5 400.3,251.0 400.4,250.2 400.5,249.5 400.5,249.0 400.7,248.2 400.8,247.8 401.0,247.0 401.1,246.5 401.3,246.0 401.5,245.4 401.8,244.9 402.0,244.4 402.2,244.0 402.6,243.5 403.0,243.1 403.4,242.8 404.0,242.5 404.5,242.4 405.0,242.6 405.5,243.0 405.8,243.4 406.0,244.0 406.2,244.5 406.3,245.0 406.4,245.8 406.5,246.5 406.5,247.2 406.5,248.0 406.4,248.8 406.4,249.5 406.4,250.2 406.3,251.0 406.2,251.5 406.1,252.2 406.0,253.0 405.9,253.5 405.8,254.2 405.6,254.8 405.5,255.2 405.3,256.0 405.1,256.5 405.0,257.0 404.8,257.6 404.5,258.2 404.3,258.8 404.0,259.2 403.8,259.7 403.5,260.1 403.1,260.5 403.0,260.6Z" fill="rgb(156,156,156)" stroke="#444" stroke-width="0.55"/>
<path d="M402.8,259.3 402.2,259.2 401.8,258.8 401.5,258.4 401.2,257.9 401.0,257.2 400.9,256.8 400.8,256.0 400.7,255.5 400.6,254.8 400.6,254.0 400.5,253.2 400.6,252.5 400.6,251.8 400.6,251.0 400.7,250.2 400.8,249.8 400.9,249.0 401.0,248.5 401.2,247.8 401.3,247.2 401.5,246.7 401.8,246.0 402.0,245.5 402.2,245.0 402.5,244.6 402.8,244.2 403.2,243.8 403.8,243.6 404.5,243.6 405.0,243.9 405.3,244.2 405.5,244.8 405.8,245.5 405.9,246.0 406.0,246.8 406.0,247.5 406.0,248.0 406.0,248.8 406.0,249.2 406.0,250.0 405.9,250.8 405.8,251.5 405.8,252.2 405.7,252.8 405.5,253.5 405.4,254.0 405.2,254.6 405.1,255.2 404.9,255.8 404.8,256.3 404.5,256.9 404.3,257.5 404.0,258.0 403.8,258.4 403.5,258.8 403.0,259.2 402.8,259.3Z" fill="rgb(138,138,138)" stroke="#444" stroke-width="0.55"/>
<path d="M402.8,258.1 402.2,258.0 401.8,257.5 401.5,257.0 401.4,256.5 401.2,256.0 401.1,255.2 401.0,254.6 401.0,254.0 400.9,253.2 400.9,252.5 401.0,251.8 401.0,251.1 401.1,250.5 401.2,249.8 401.3,249.2 401.4,248.5 401.6,248.0 401.8,247.3 402.0,246.8 402.2,246.2 402.4,245.8 402.8,245.3 403.0,245.0 403.5,244.7 404.2,244.6 404.8,245.0 405.0,245.4 405.2,246.0 405.4,246.5 405.5,247.2 405.5,247.8 405.6,248.5 405.6,249.2 405.6,250.0 405.5,250.8 405.5,251.2 405.4,252.0 405.3,252.8 405.2,253.2 405.0,253.9 404.9,254.5 404.7,255.0 404.5,255.6 404.3,256.2 404.0,256.8 403.8,257.2 403.5,257.6 403.0,258.0 402.8,258.1Z" fill="rgb(117,117,117)" stroke="#444" stroke-width="0.55"/>
<path d="M403.0,256.8 402.4,256.8 402.0,256.3 401.8,255.8 401.6,255.2 401.5,254.8 401.4,254.0 401.3,253.2 401.3,252.5 401.3,251.8 401.4,251.0 401.5,250.2 401.6,249.8 401.7,249.0 401.9,248.5 402.0,248.0 402.2,247.4 402.5,246.8 402.8,246.4 403.1,246.0 403.5,245.7 404.1,245.8 404.5,246.1 404.8,246.6 404.9,247.2 405.0,247.8 405.1,248.5 405.1,249.2 405.1,250.0 405.1,250.8 405.0,251.5 405.0,252.0 404.8,252.8 404.7,253.2 404.5,254.0 404.4,254.5 404.2,255.0 404.0,255.5 403.7,256.0 403.4,256.5 403.0,256.8 403.0,256.8Z" fill="rgb(96,96,96)" stroke="#444" stroke-width="0.55"/>
<path d="M403.0,255.6 402.4,255.5 402.1,255.0 401.9,254.5 401.8,253.8 401.7,253.2 401.7,252.5 401.7,251.8 401.8,251.2 401.9,250.5 402.0,249.8 402.1,249.2 402.3,248.8 402.5,248.1 402.8,247.6 403.0,247.2 403.5,246.8 404.0,247.0 404.3,247.5 404.5,248.0 404.6,248.8 404.7,249.5 404.7,250.2 404.7,251.0 404.6,251.8 404.5,252.4 404.4,253.0 404.2,253.5 404.0,254.2 403.8,254.8 403.5,255.2 403.2,255.5 403.0,255.6Z" fill="rgb(73,73,73)" stroke="#444" stroke-width="0.55"/>
<path d="M403.2,254.3 402.5,254.2 402.3,253.8 402.2,253.2 402.1,252.5 402.1,251.8 402.2,251.0 402.3,250.5 402.4,249.8 402.6,249.2 402.8,248.8 403.2,248.2 403.8,248.2 404.0,248.6 404.2,249.2 404.2,249.8 404.3,250.5 404.2,251.2 404.2,251.8 404.0,252.5 403.9,253.0 403.7,253.5 403.5,254.0 403.2,254.3Z" fill="rgb(50,50,50)" stroke="#444" stroke-width="0.55"/>
</g>
<ellipse cx="403.2" cy="251.5" rx="0.9" ry="1.8" fill="#f4f4f4" opacity="0.85"/>
<rect x="343.4" y="187.5" width="93.5" height="93.30000000000001" fill="none" stroke="#1a1a1a" stroke-width="1.3"/>
<path d="M343.4,211.24 h-1.6M343.4,207.58 h-1.6M343.4,204.98 h-1.6M343.4,202.96 h-1.6M343.4,201.31 h-1.6M343.4,199.92 h-1.6M343.4,198.72 h-1.6M343.4,197.65 h-1.6M343.4,232.67 h-1.6M343.4,228.85 h-1.6M343.4,226.14 h-1.6M343.4,224.03 h-1.6M343.4,222.31 h-1.6M343.4,220.86 h-1.6M343.4,219.60 h-1.6M343.4,218.49 h-1.6M343.4,255.00 h-1.6M343.4,251.02 h-1.6M343.4,248.19 h-1.6M343.4,246.00 h-1.6M343.4,244.21 h-1.6M343.4,242.70 h-1.6M343.4,241.39 h-1.6M343.4,240.23 h-1.6M343.4,263.30 h-2.0M343.4,264.75 h-2.0M343.4,266.20 h-2.0M343.4,267.65 h-2.0M343.4,269.10 h-2.0M343.4,270.55 h-2.0M343.4,272.00 h-2.0M343.4,273.45 h-2.0M343.4,274.90 h-2.0M343.4,276.35 h-2.0M343.4,277.80 h-2.0M343.4,279.25 h-2.0M343.4,190.38 h-1.6M343.4,196.70 h-3.0M343.4,217.50 h-3.0M343.4,239.20 h-3.0M343.4,261.80 h-3.0M343.4,271.40 h-3.0" stroke="#1a1a1a" stroke-width="0.9" fill="none"/>
<text x="329.09999999999997" y="198.79999999999998" font-size="6.7" fill="#333" transform="translate(329.09999999999997 0) scale(0.86 1) translate(-329.09999999999997 0)">10<tspan font-size="4.02" dy="-2.9">5</tspan></text>
<text x="329.09999999999997" y="219.6" font-size="6.7" fill="#333" transform="translate(329.09999999999997 0) scale(0.86 1) translate(-329.09999999999997 0)">10<tspan font-size="4.02" dy="-2.9">4</tspan></text>
<text x="329.09999999999997" y="241.29999999999998" font-size="6.7" fill="#333" transform="translate(329.09999999999997 0) scale(0.86 1) translate(-329.09999999999997 0)">10<tspan font-size="4.02" dy="-2.9">3</tspan></text>
<text x="329.09999999999997" y="263.90000000000003" font-size="6.7" fill="#333" transform="translate(329.09999999999997 0) scale(0.86 1) translate(-329.09999999999997 0)">10<tspan font-size="4.02" dy="-2.9">2</tspan></text>
<text x="335.9" y="273.5" font-size="6.2" fill="#333" text-anchor="middle">0</text>
<path d="M344.90,280.8 v2.0M346.35,280.8 v2.0M347.80,280.8 v2.0M349.25,280.8 v2.0M350.70,280.8 v2.0M352.15,280.8 v2.0M353.60,280.8 v2.0M355.05,280.8 v2.0M356.50,280.8 v2.0M357.95,280.8 v2.0M359.40,280.8 v2.0M360.85,280.8 v2.0M369.38,280.8 v1.6M373.47,280.8 v1.6M376.37,280.8 v1.6M378.62,280.8 v1.6M380.45,280.8 v1.6M382.01,280.8 v1.6M383.35,280.8 v1.6M384.54,280.8 v1.6M392.25,280.8 v1.6M396.14,280.8 v1.6M398.91,280.8 v1.6M401.05,280.8 v1.6M402.80,280.8 v1.6M404.28,280.8 v1.6M405.56,280.8 v1.6M406.69,280.8 v1.6M414.11,280.8 v1.6M417.86,280.8 v1.6M420.52,280.8 v1.6M422.59,280.8 v1.6M424.27,280.8 v1.6M425.70,280.8 v1.6M426.94,280.8 v1.6M428.03,280.8 v1.6M435.41,280.8 v1.6M353.30,280.8 v3.0M362.40,280.8 v3.0M385.60,280.8 v3.0M407.70,280.8 v3.0M429.00,280.8 v3.0" stroke="#1a1a1a" stroke-width="0.9" fill="none"/>
<text x="353.29999999999995" y="290.2" font-size="6.2" fill="#333" text-anchor="middle">0</text>
<text x="358.0" y="290.2" font-size="6.7" fill="#333" transform="translate(358.0 0) scale(0.86 1) translate(-358.0 0)">10<tspan font-size="4.02" dy="-2.9">2</tspan></text>
<text x="381.09999999999997" y="290.2" font-size="6.7" fill="#333" transform="translate(381.09999999999997 0) scale(0.86 1) translate(-381.09999999999997 0)">10<tspan font-size="4.02" dy="-2.9">3</tspan></text>
<text x="403.2" y="290.2" font-size="6.7" fill="#333" transform="translate(403.2 0) scale(0.86 1) translate(-403.2 0)">10<tspan font-size="4.02" dy="-2.9">4</tspan></text>
<text x="424.4" y="290.2" font-size="6.7" fill="#333" transform="translate(424.4 0) scale(0.86 1) translate(-424.4 0)">10<tspan font-size="4.02" dy="-2.9">5</tspan></text>
<text transform="translate(323.8 234.5) rotate(-90) scale(0.75 1)" x="0" y="0" font-size="10.3" text-anchor="middle" font-weight="normal" fill="#222">CD14</text>
<text x="415" y="207.4" font-size="8.2" font-weight="bold" fill="#000" style="stroke:#000" text-anchor="middle">9.2%</text>
<text x="441" y="236.9" font-size="6.3" font-weight="bold" fill="#000" style="stroke:#000">DMSO</text>
<rect x="252.5" y="312.2" width="49.80000000000001" height="90.69999999999999" fill="none" stroke="#cdcdda" stroke-width="1.4"/>
<g clip-path="url(#c3)">
<path d="M233.2,399.8 232.5,399.8 231.8,399.9 231.0,399.9 230.2,399.9 229.5,399.9 228.8,399.8 228.0,399.8 227.5,399.7 226.8,399.5 226.2,399.4 225.8,399.1 225.2,398.8 224.8,398.5 224.5,398.2 224.0,397.8 223.8,397.4 223.5,397.0 223.2,396.5 223.0,395.9 222.8,395.3 222.6,394.8 222.4,394.2 222.2,393.8 222.1,393.0 222.1,392.2 222.2,391.5 222.3,391.0 222.5,390.4 222.8,389.8 223.0,389.3 223.2,388.8 223.5,388.3 223.8,387.9 224.0,387.5 224.3,387.0 224.7,386.5 225.0,386.0 225.2,385.7 225.6,385.2 225.9,384.8 226.2,384.3 226.5,384.0 226.9,383.5 227.2,383.1 227.5,382.7 227.9,382.2 228.2,381.8 228.5,381.5 228.9,381.0 229.2,380.6 229.5,380.2 230.0,379.8 230.2,379.4 230.6,379.0 231.0,378.6 231.3,378.2 231.8,377.8 232.1,377.5 232.5,377.1 233.0,376.8 233.3,376.5 233.8,376.1 234.2,375.8 234.7,375.5 235.1,375.2 235.5,375.0 236.0,374.7 236.5,374.5 237.0,374.2 237.5,373.9 238.0,373.6 238.5,373.3 238.8,373.0 239.2,372.5 239.5,372.2 240.0,371.8 240.3,371.5 240.8,371.2 241.2,371.0 241.8,370.7 242.2,370.5 242.8,370.2 243.3,370.0 243.9,369.8 244.5,369.5 245.0,369.3 245.5,369.1 246.0,368.9 246.5,368.7 247.1,368.5 247.8,368.3 248.2,368.2 249.0,368.1 249.5,368.0 250.2,367.9 251.0,368.0 251.5,368.0 252.2,368.2 252.8,368.3 253.3,368.5 253.8,368.8 254.2,369.1 254.8,369.5 255.1,369.8 255.5,370.2 255.8,370.7 256.0,371.1 256.2,371.7 256.5,372.2 256.6,372.8 256.8,373.4 256.8,374.0 256.9,374.8 256.9,375.5 257.0,376.2 257.0,376.8 257.1,377.5 257.2,378.0 257.4,378.8 257.2,379.4 257.0,379.9 256.8,380.3 256.5,380.8 256.2,381.2 256.0,381.8 255.8,382.4 255.5,383.0 255.3,383.5 255.1,384.0 255.0,384.5 254.7,385.0 254.5,385.6 254.2,386.1 254.0,386.6 253.8,387.1 253.5,387.5 253.2,388.0 252.8,388.5 252.5,388.9 252.2,389.2 251.8,389.7 251.5,390.0 251.0,390.5 250.7,390.8 250.2,391.2 250.0,391.5 249.5,392.0 249.2,392.2 248.8,392.7 248.5,393.0 248.0,393.4 247.7,393.8 247.2,394.2 246.9,394.5 246.5,394.9 246.1,395.2 245.8,395.6 245.2,395.9 244.8,396.2 244.2,396.4 243.8,396.6 243.2,396.8 242.8,397.0 242.1,397.2 241.5,397.5 241.0,397.7 240.5,397.9 240.0,398.1 239.5,398.3 238.9,398.5 238.2,398.7 237.8,398.9 237.2,399.0 236.5,399.2 236.0,399.3 235.2,399.5 234.8,399.5 234.0,399.7 233.3,399.8 233.2,399.8Z" fill="rgb(248,248,248)" stroke="#777" stroke-width="0.55"/>
<path d="M234.2,398.0 233.5,398.1 232.8,398.2 232.0,398.2 231.2,398.2 230.5,398.2 229.8,398.1 229.0,398.0 228.5,397.9 228.0,397.8 227.4,397.5 227.0,397.2 226.5,396.9 226.1,396.5 225.8,396.1 225.5,395.8 225.1,395.2 224.8,394.8 224.6,394.2 224.4,393.8 224.3,393.0 224.3,392.2 224.4,391.5 224.5,390.9 224.7,390.2 224.9,389.8 225.1,389.2 225.4,388.8 225.7,388.2 226.0,387.8 226.2,387.4 226.5,387.0 226.9,386.5 227.2,386.0 227.5,385.7 227.8,385.2 228.2,384.8 228.5,384.4 228.9,384.0 229.2,383.6 229.6,383.2 230.0,382.8 230.3,382.5 230.7,382.0 231.0,381.7 231.5,381.2 231.8,381.0 232.2,380.5 232.5,380.2 233.0,379.9 233.4,379.5 233.8,379.2 234.2,378.8 234.5,378.5 235.0,378.0 235.2,377.7 235.8,377.3 236.1,377.0 236.5,376.7 237.0,376.4 237.5,376.1 238.0,375.8 238.5,375.6 239.0,375.3 239.4,375.0 239.8,374.8 240.2,374.4 240.8,374.0 241.2,373.8 241.5,373.5 242.0,373.2 242.5,372.9 243.0,372.7 243.5,372.4 244.0,372.1 244.5,371.9 245.0,371.6 245.5,371.4 246.0,371.1 246.5,370.9 247.0,370.7 247.7,370.5 248.2,370.4 248.9,370.2 249.5,370.2 250.2,370.2 250.8,370.3 251.4,370.5 252.0,370.8 252.4,371.0 252.8,371.3 253.2,371.8 253.5,372.2 253.8,372.6 254.0,373.2 254.1,373.8 254.2,374.5 254.2,375.2 254.2,376.0 254.1,376.8 253.9,377.2 253.8,377.9 253.6,378.5 253.4,379.0 253.2,379.7 253.1,380.2 253.0,380.8 252.9,381.5 252.8,382.2 252.7,382.8 252.5,383.5 252.4,384.0 252.2,384.5 252.0,385.2 251.8,385.8 251.5,386.2 251.3,386.8 251.0,387.2 250.8,387.5 250.4,388.0 250.0,388.5 249.8,388.8 249.4,389.2 249.0,389.7 248.7,390.0 248.3,390.5 248.0,390.8 247.6,391.2 247.2,391.6 246.9,392.0 246.5,392.4 246.1,392.8 245.8,393.1 245.4,393.5 245.0,393.8 244.5,394.2 244.1,394.5 243.7,394.8 243.2,395.0 242.6,395.2 242.0,395.5 241.5,395.7 241.0,396.0 240.5,396.2 240.0,396.4 239.5,396.6 239.0,396.8 238.5,397.0 237.8,397.2 237.2,397.4 236.8,397.6 236.0,397.7 235.5,397.8 234.8,397.9 234.2,398.0 234.2,398.0Z" fill="rgb(246,246,246)" stroke="#777" stroke-width="0.55"/>
<path d="M235.0,396.8 234.2,396.9 233.5,396.9 232.8,397.0 232.0,397.0 231.2,397.0 230.5,396.9 229.8,396.8 229.2,396.6 228.8,396.4 228.2,396.1 227.9,395.8 227.5,395.3 227.2,395.0 226.9,394.5 226.5,394.0 226.2,393.6 226.0,393.0 225.9,392.5 225.9,391.8 226.0,391.1 226.2,390.5 226.3,390.0 226.5,389.5 226.8,389.0 227.0,388.5 227.4,388.0 227.7,387.5 228.0,387.1 228.2,386.7 228.6,386.2 229.0,385.8 229.2,385.5 229.7,385.0 230.0,384.7 230.4,384.2 230.8,383.9 231.1,383.5 231.5,383.1 231.9,382.8 232.2,382.4 232.7,382.0 233.0,381.8 233.5,381.3 233.9,381.0 234.2,380.7 234.8,380.3 235.1,380.0 235.5,379.7 236.0,379.2 236.2,379.0 236.8,378.6 237.2,378.3 237.7,378.0 238.2,377.8 238.6,377.5 239.0,377.2 239.5,376.9 240.0,376.6 240.5,376.3 240.9,376.0 241.3,375.8 241.8,375.5 242.2,375.2 242.8,374.9 243.2,374.6 243.8,374.3 244.2,374.0 244.6,373.8 245.0,373.5 245.5,373.2 246.0,373.0 246.5,372.7 247.0,372.5 247.8,372.3 248.2,372.2 249.0,372.1 249.8,372.2 250.2,372.3 250.8,372.6 251.2,373.0 251.5,373.3 251.8,373.8 252.0,374.2 252.2,375.0 252.2,375.8 252.0,376.5 251.9,377.0 251.7,377.5 251.5,378.0 251.2,378.7 251.0,379.2 250.9,379.8 250.8,380.3 250.7,381.0 250.6,381.8 250.5,382.5 250.5,383.0 250.4,383.8 250.2,384.3 250.0,385.0 249.8,385.5 249.6,386.0 249.4,386.5 249.1,387.0 248.8,387.5 248.5,387.9 248.2,388.3 247.9,388.8 247.5,389.2 247.2,389.6 246.9,390.0 246.5,390.5 246.2,390.8 245.8,391.2 245.5,391.6 245.1,392.0 244.8,392.3 244.3,392.8 243.9,393.0 243.5,393.3 243.0,393.7 242.5,393.9 242.0,394.2 241.5,394.5 241.0,394.7 240.5,395.0 240.0,395.2 239.5,395.4 239.0,395.6 238.5,395.8 238.0,396.0 237.3,396.2 236.8,396.4 236.2,396.5 235.5,396.7 235.0,396.8 235.0,396.8Z" fill="rgb(242,242,242)" stroke="#777" stroke-width="0.55"/>
<path d="M235.5,395.8 234.8,395.9 234.0,395.9 233.2,396.0 232.5,396.0 231.8,395.9 231.0,395.8 230.5,395.7 229.9,395.5 229.4,395.2 229.0,395.0 228.5,394.6 228.2,394.2 227.9,393.8 227.6,393.2 227.4,392.8 227.2,392.2 227.2,391.5 227.3,391.0 227.5,390.2 227.7,389.8 227.9,389.2 228.1,388.8 228.4,388.2 228.8,387.8 229.0,387.4 229.3,387.0 229.7,386.5 230.0,386.1 230.4,385.8 230.8,385.3 231.1,385.0 231.5,384.6 231.8,384.2 232.2,383.9 232.6,383.5 233.0,383.2 233.5,382.8 233.8,382.5 234.2,382.1 234.7,381.8 235.0,381.5 235.5,381.1 236.0,380.8 236.4,380.5 236.8,380.2 237.2,379.9 237.8,379.6 238.2,379.3 238.8,379.1 239.2,378.8 239.8,378.6 240.2,378.3 240.8,378.1 241.2,377.8 241.8,377.5 242.2,377.3 242.7,377.0 243.1,376.8 243.5,376.5 244.0,376.1 244.5,375.8 244.9,375.5 245.3,375.2 245.8,375.0 246.2,374.7 246.8,374.5 247.3,374.2 248.0,374.1 248.8,374.1 249.2,374.3 249.8,374.7 250.0,375.2 250.1,375.8 250.0,376.5 249.9,377.0 249.7,377.5 249.5,378.1 249.3,378.8 249.1,379.2 249.0,379.8 248.9,380.5 248.8,381.2 248.8,382.0 248.8,382.8 248.7,383.2 248.6,384.0 248.5,384.6 248.3,385.2 248.1,385.8 247.9,386.2 247.7,386.8 247.4,387.2 247.1,387.8 246.8,388.2 246.5,388.7 246.2,389.0 245.9,389.5 245.5,390.0 245.2,390.3 244.9,390.8 244.5,391.1 244.1,391.5 243.8,391.9 243.3,392.2 242.9,392.5 242.5,392.8 242.0,393.1 241.5,393.4 241.0,393.7 240.5,394.0 240.0,394.2 239.5,394.4 239.0,394.7 238.5,394.9 238.0,395.1 237.5,395.3 236.8,395.5 236.2,395.6 235.5,395.8 235.5,395.8Z" fill="rgb(238,238,238)" stroke="#777" stroke-width="0.55"/>
<path d="M235.5,395.0 234.8,395.1 234.0,395.2 233.2,395.2 232.5,395.1 231.8,395.0 231.2,394.9 230.7,394.8 230.1,394.5 229.7,394.2 229.2,393.8 229.0,393.5 228.7,393.0 228.5,392.5 228.3,391.8 228.3,391.0 228.5,390.2 228.7,389.8 228.9,389.2 229.1,388.8 229.4,388.2 229.7,387.8 230.0,387.4 230.3,387.0 230.7,386.5 231.0,386.2 231.4,385.8 231.8,385.4 232.2,385.0 232.5,384.7 233.0,384.3 233.3,384.0 233.8,383.6 234.2,383.2 234.5,383.0 235.0,382.6 235.5,382.2 235.8,382.0 236.2,381.7 236.8,381.4 237.2,381.1 237.8,380.8 238.2,380.6 238.8,380.3 239.2,380.1 239.8,379.9 240.3,379.8 241.0,379.5 241.5,379.4 242.0,379.2 242.5,379.0 243.1,378.8 243.7,378.5 244.2,378.2 244.7,378.0 245.2,377.8 245.8,377.6 246.2,377.5 246.8,377.6 247.0,378.0 247.1,378.8 247.1,379.5 247.2,380.2 247.2,381.0 247.2,381.7 247.3,382.2 247.3,383.0 247.3,383.8 247.2,384.2 247.1,385.0 246.9,385.5 246.8,386.0 246.5,386.7 246.2,387.2 246.0,387.7 245.8,388.1 245.5,388.5 245.2,389.0 244.8,389.5 244.5,389.9 244.2,390.2 243.8,390.7 243.5,391.0 243.0,391.5 242.7,391.8 242.2,392.1 241.8,392.4 241.2,392.7 240.8,393.0 240.3,393.2 239.9,393.5 239.3,393.8 238.8,394.0 238.2,394.2 237.8,394.4 237.2,394.6 236.7,394.8 236.0,394.9 235.5,395.0 235.5,395.0Z" fill="rgb(233,233,233)" stroke="#777" stroke-width="0.55"/>
<path d="M235.8,394.3 235.0,394.4 234.2,394.5 233.5,394.5 232.8,394.4 232.0,394.3 231.5,394.1 231.0,393.9 230.5,393.6 230.1,393.2 229.8,392.9 229.5,392.4 229.3,391.8 229.2,391.2 229.3,390.8 229.4,390.0 229.6,389.5 229.8,389.0 230.1,388.5 230.4,388.0 230.8,387.6 231.0,387.2 231.4,386.8 231.8,386.4 232.1,386.0 232.5,385.6 232.9,385.2 233.2,384.9 233.8,384.5 234.1,384.2 234.5,383.9 235.0,383.5 235.4,383.2 235.8,383.0 236.2,382.6 236.8,382.3 237.2,382.1 237.8,381.8 238.2,381.6 238.8,381.4 239.2,381.2 240.0,381.0 240.5,380.9 241.2,380.8 241.8,380.7 242.5,380.6 243.2,380.5 244.0,380.6 244.6,380.8 245.0,381.0 245.4,381.5 245.6,382.0 245.8,382.5 245.9,383.2 246.0,384.0 245.9,384.8 245.8,385.5 245.7,386.0 245.5,386.6 245.2,387.2 245.0,387.7 244.8,388.2 244.5,388.6 244.2,389.0 243.9,389.5 243.5,390.0 243.2,390.3 242.8,390.8 242.5,391.0 242.0,391.4 241.6,391.8 241.2,392.0 240.8,392.3 240.2,392.6 239.8,392.9 239.2,393.1 238.8,393.4 238.2,393.6 237.8,393.8 237.0,394.0 236.5,394.1 236.0,394.2 235.8,394.3Z" fill="rgb(228,228,228)" stroke="#777" stroke-width="0.55"/>
<path d="M235.2,393.8 234.5,393.8 233.8,393.8 233.1,393.8 232.5,393.6 232.0,393.5 231.5,393.2 231.0,392.9 230.6,392.5 230.3,392.0 230.2,391.5 230.1,390.8 230.2,390.0 230.4,389.5 230.6,389.0 230.9,388.5 231.2,388.0 231.5,387.7 231.8,387.2 232.2,386.8 232.5,386.5 233.0,386.0 233.3,385.8 233.8,385.3 234.1,385.0 234.5,384.7 235.0,384.3 235.4,384.0 235.8,383.8 236.2,383.4 236.8,383.1 237.2,382.9 237.8,382.6 238.2,382.4 238.8,382.2 239.5,382.1 240.0,382.0 240.8,381.9 241.5,381.9 242.2,381.9 242.8,382.0 243.4,382.2 243.8,382.5 244.2,383.0 244.5,383.4 244.7,384.0 244.8,384.5 244.8,385.2 244.7,385.8 244.6,386.5 244.4,387.0 244.2,387.5 244.0,388.0 243.7,388.5 243.4,389.0 243.0,389.5 242.8,389.9 242.4,390.2 242.0,390.7 241.6,391.0 241.2,391.3 240.8,391.7 240.2,392.0 239.8,392.2 239.3,392.5 238.8,392.8 238.2,393.0 237.8,393.2 237.2,393.3 236.7,393.5 236.0,393.6 235.3,393.8 235.2,393.8Z" fill="rgb(222,222,222)" stroke="#777" stroke-width="0.55"/>
<path d="M236.2,393.0 235.5,393.2 234.8,393.2 234.0,393.2 233.2,393.1 232.8,392.9 232.2,392.7 231.8,392.4 231.4,392.0 231.1,391.5 231.0,391.0 231.0,390.3 231.1,389.8 231.3,389.2 231.5,388.8 231.8,388.2 232.2,387.8 232.5,387.4 232.8,387.0 233.2,386.5 233.6,386.2 234.0,385.8 234.4,385.5 234.8,385.2 235.2,384.8 235.7,384.5 236.1,384.2 236.5,384.0 237.0,383.7 237.5,383.5 238.2,383.2 238.8,383.1 239.2,383.0 240.0,382.9 240.8,382.9 241.5,383.0 242.0,383.1 242.5,383.3 243.0,383.7 243.3,384.0 243.5,384.5 243.7,385.2 243.8,385.8 243.7,386.2 243.6,387.0 243.4,387.5 243.2,388.0 242.9,388.5 242.6,389.0 242.3,389.5 242.0,389.8 241.6,390.2 241.2,390.6 240.8,391.0 240.4,391.2 240.0,391.5 239.5,391.8 239.0,392.1 238.5,392.3 238.0,392.5 237.3,392.8 236.8,392.9 236.2,393.0 236.2,393.0Z" fill="rgb(215,215,215)" stroke="#777" stroke-width="0.55"/>
<path d="M236.0,392.5 235.2,392.6 234.5,392.6 233.9,392.5 233.2,392.3 232.8,392.1 232.3,391.8 232.0,391.3 231.8,390.8 231.8,390.0 232.0,389.4 232.2,388.8 232.5,388.4 232.8,388.0 233.1,387.5 233.5,387.1 233.8,386.8 234.2,386.4 234.7,386.0 235.0,385.7 235.5,385.3 236.0,385.0 236.4,384.8 236.9,384.5 237.4,384.2 238.0,384.0 238.5,383.9 239.2,383.8 239.8,383.7 240.2,383.8 241.0,383.9 241.5,384.1 242.0,384.4 242.3,384.8 242.6,385.2 242.8,385.8 242.8,386.5 242.7,387.0 242.5,387.8 242.3,388.2 242.0,388.8 241.8,389.2 241.5,389.5 241.1,390.0 240.8,390.3 240.3,390.8 239.9,391.0 239.5,391.3 239.0,391.5 238.5,391.8 238.0,392.0 237.2,392.2 236.8,392.4 236.1,392.5 236.0,392.5Z" fill="rgb(208,208,208)" stroke="#777" stroke-width="0.55"/>
<path d="M237.0,391.8 236.2,391.9 235.5,392.0 234.8,391.9 234.0,391.8 233.5,391.6 233.1,391.2 232.8,390.8 232.7,390.2 232.8,389.5 232.9,389.0 233.2,388.5 233.5,388.0 233.8,387.7 234.1,387.2 234.5,386.9 234.9,386.5 235.2,386.2 235.8,385.8 236.2,385.5 236.7,385.2 237.2,385.0 237.8,384.8 238.2,384.7 239.0,384.6 239.8,384.6 240.4,384.8 240.9,385.0 241.3,385.2 241.6,385.8 241.8,386.2 241.9,387.0 241.8,387.7 241.6,388.2 241.3,388.8 241.0,389.2 240.8,389.6 240.3,390.0 240.0,390.3 239.5,390.7 239.0,391.0 238.5,391.2 238.0,391.5 237.5,391.6 237.0,391.8 237.0,391.8Z" fill="rgb(200,200,200)" stroke="#777" stroke-width="0.55"/>
<path d="M236.8,391.3 236.0,391.3 235.2,391.3 234.8,391.2 234.2,391.0 233.8,390.5 233.6,390.0 233.7,389.2 233.9,388.8 234.1,388.2 234.5,387.8 234.8,387.5 235.2,387.0 235.5,386.8 236.0,386.4 236.5,386.1 237.0,385.8 237.5,385.6 238.0,385.5 238.8,385.4 239.5,385.4 240.0,385.6 240.5,386.0 240.8,386.3 241.0,387.0 240.9,387.8 240.8,388.3 240.5,388.9 240.2,389.2 239.8,389.8 239.5,390.0 239.0,390.4 238.5,390.7 238.0,390.9 237.5,391.1 236.8,391.2 236.8,391.3Z" fill="rgb(192,192,192)" stroke="#777" stroke-width="0.55"/>
<path d="M237.5,390.5 236.8,390.7 236.0,390.7 235.2,390.5 234.8,390.2 234.5,389.8 234.5,389.5 234.7,388.8 234.9,388.2 235.2,387.8 235.5,387.5 236.0,387.1 236.5,386.8 236.9,386.5 237.5,386.3 238.0,386.1 238.8,386.1 239.2,386.3 239.8,386.6 240.0,387.0 240.2,387.8 240.0,388.4 239.8,388.9 239.5,389.3 239.0,389.8 238.7,390.0 238.2,390.2 237.6,390.5 237.5,390.5Z" fill="rgb(184,184,184)" stroke="#777" stroke-width="0.55"/>
<path d="M237.2,390.0 236.5,390.1 236.0,390.0 235.5,389.5 235.4,389.0 235.6,388.5 235.9,388.0 236.2,387.6 236.8,387.3 237.2,387.0 237.8,386.9 238.5,386.9 239.0,387.1 239.3,387.5 239.3,388.2 239.1,388.8 238.8,389.2 238.5,389.5 238.0,389.8 237.4,390.0 237.2,390.0Z" fill="rgb(175,175,175)" stroke="#777" stroke-width="0.55"/>
</g>
<g clip-path="url(#c3)">
<path d="M273.2,392.8 272.5,392.8 271.8,392.8 271.0,392.8 270.5,392.7 269.8,392.5 269.2,392.3 268.8,392.1 268.2,391.9 267.8,391.6 267.3,391.2 266.9,391.0 266.5,390.6 266.1,390.2 265.8,389.8 265.5,389.4 265.2,389.0 265.0,388.5 264.7,388.0 264.5,387.4 264.2,386.8 264.0,386.2 263.9,385.8 263.7,385.2 263.5,384.6 263.3,384.0 263.2,383.5 263.1,382.8 263.0,382.2 262.8,381.5 262.7,381.0 262.6,380.2 262.5,379.5 262.5,379.0 262.4,378.2 262.4,377.5 262.3,376.8 262.3,376.0 262.3,375.2 262.3,374.5 262.3,373.8 262.4,373.0 262.4,372.2 262.5,371.6 262.6,371.0 262.7,370.2 262.8,369.6 262.8,369.0 263.0,368.2 263.0,367.8 263.2,367.0 263.3,366.5 263.4,365.8 263.5,365.2 263.7,364.5 263.8,364.0 264.0,363.3 264.2,362.8 264.3,362.2 264.5,361.5 264.6,361.0 264.8,360.5 265.0,359.8 265.2,359.2 265.3,358.8 265.5,358.1 265.7,357.5 265.9,357.0 266.0,356.5 266.2,355.8 266.4,355.2 266.6,354.8 266.8,354.2 266.9,353.5 267.1,353.0 267.2,352.5 267.5,351.8 267.7,351.2 267.9,350.8 268.1,350.2 268.4,349.8 268.6,349.2 268.8,348.8 269.0,348.2 269.3,347.8 269.5,347.2 269.8,346.7 270.0,346.2 270.2,345.7 270.5,345.2 270.8,344.7 271.0,344.2 271.3,343.8 271.5,343.2 271.8,342.8 272.1,342.2 272.3,341.8 272.5,341.2 272.8,340.8 273.0,340.2 273.3,339.8 273.6,339.2 274.0,338.8 274.3,338.5 274.8,338.1 275.1,337.8 275.5,337.4 275.9,337.0 276.2,336.6 276.5,336.2 276.9,335.8 277.2,335.2 277.5,334.8 277.8,334.4 278.0,334.0 278.3,333.5 278.6,333.0 279.0,332.5 279.2,332.2 279.7,331.8 280.0,331.4 280.4,331.0 280.8,330.6 281.0,330.2 281.3,329.8 281.6,329.2 281.9,328.8 282.2,328.2 282.5,327.8 282.8,327.5 283.2,327.0 283.5,326.8 284.0,326.4 284.5,326.2 285.1,326.2 285.5,326.6 285.8,327.2 285.9,327.8 285.9,328.5 285.9,329.2 285.9,330.0 285.8,330.8 285.8,331.5 285.8,332.2 285.8,332.5 285.8,333.2 285.8,334.0 285.9,334.8 286.0,335.3 286.1,336.0 286.2,336.8 286.3,337.2 286.4,338.0 286.5,338.5 286.7,339.2 286.8,339.8 286.9,340.5 287.1,341.0 287.2,341.8 287.4,342.2 287.5,343.0 287.6,343.5 287.7,344.2 287.8,344.9 287.8,345.5 287.8,346.2 287.9,347.0 287.9,347.8 287.9,348.5 287.9,349.2 288.0,350.0 288.0,350.8 288.0,351.5 288.0,352.2 288.0,353.0 288.0,353.8 288.0,354.4 288.1,355.0 288.2,355.8 288.3,356.2 288.3,357.0 288.2,357.5 288.1,358.2 288.0,358.8 287.8,359.5 287.8,360.2 287.8,361.0 287.7,361.5 287.7,362.2 287.7,363.0 287.6,363.8 287.6,364.5 287.5,365.2 287.5,365.8 287.4,366.5 287.3,367.2 287.2,367.8 287.1,368.5 287.0,369.2 286.9,369.8 286.8,370.5 286.7,371.0 286.5,371.8 286.4,372.2 286.2,372.9 286.1,373.5 286.0,374.2 285.9,374.8 285.9,375.5 285.8,376.2 285.7,376.8 285.6,377.5 285.5,378.0 285.3,378.8 285.1,379.2 284.9,379.8 284.7,380.2 284.5,380.8 284.2,381.3 284.0,381.8 283.8,382.3 283.5,382.8 283.2,383.3 283.0,383.8 282.7,384.2 282.5,384.8 282.2,385.2 281.9,385.8 281.6,386.2 281.2,386.7 281.0,387.1 280.7,387.5 280.3,388.0 280.0,388.4 279.7,388.8 279.3,389.2 279.0,389.5 278.5,390.0 278.2,390.2 277.8,390.6 277.3,391.0 276.9,391.2 276.5,391.5 276.0,391.8 275.5,392.1 275.0,392.3 274.4,392.5 273.8,392.7 273.2,392.8 273.2,392.8Z" fill="rgb(246,246,246)" stroke="#666" stroke-width="0.55"/>
<path d="M273.8,389.5 273.0,389.7 272.2,389.7 271.5,389.7 270.8,389.5 270.2,389.4 269.8,389.2 269.2,389.0 268.7,388.8 268.2,388.4 267.8,388.0 267.5,387.6 267.2,387.2 266.9,386.8 266.7,386.2 266.4,385.8 266.2,385.2 266.0,384.7 265.8,384.1 265.6,383.5 265.4,383.0 265.2,382.5 265.0,381.8 264.9,381.2 264.8,380.6 264.6,380.0 264.5,379.3 264.4,378.8 264.3,378.0 264.3,377.2 264.2,376.8 264.2,376.0 264.2,375.2 264.2,374.5 264.2,373.8 264.2,373.0 264.3,372.5 264.4,371.8 264.5,371.0 264.5,370.5 264.7,369.8 264.8,369.2 264.9,368.5 265.0,368.0 265.2,367.2 265.3,366.8 265.5,366.0 265.6,365.5 265.8,365.0 266.0,364.2 266.1,363.8 266.3,363.2 266.5,362.7 266.7,362.0 266.9,361.5 267.1,361.0 267.3,360.5 267.5,360.0 267.8,359.4 268.0,358.8 268.2,358.2 268.4,357.8 268.6,357.2 268.8,356.8 269.0,356.1 269.2,355.5 269.3,355.0 269.5,354.4 269.6,353.8 269.8,353.2 270.0,352.5 270.2,352.0 270.4,351.5 270.7,351.0 270.9,350.5 271.1,350.0 271.3,349.5 271.5,349.0 271.8,348.5 272.0,347.9 272.2,347.3 272.5,346.8 272.8,346.3 273.0,345.8 273.2,345.3 273.5,344.8 273.8,344.4 274.0,344.0 274.3,343.5 274.6,343.0 274.9,342.5 275.2,342.0 275.5,341.7 275.8,341.2 276.2,340.8 276.5,340.4 276.9,340.0 277.2,339.6 277.6,339.2 278.0,338.8 278.3,338.5 278.7,338.0 279.0,337.7 279.3,337.2 279.7,336.8 280.0,336.4 280.2,336.0 280.5,335.5 280.8,335.0 281.0,334.5 281.3,334.0 281.8,333.5 282.2,333.3 282.8,333.6 282.9,334.2 283.0,335.0 283.0,335.6 283.1,336.2 283.2,337.0 283.3,337.5 283.5,338.2 283.7,338.8 283.9,339.2 284.1,339.8 284.3,340.2 284.5,340.9 284.7,341.5 284.9,342.0 285.0,342.6 285.1,343.2 285.2,343.9 285.3,344.5 285.4,345.2 285.4,346.0 285.4,346.8 285.4,347.5 285.4,348.2 285.3,349.0 285.3,349.8 285.3,350.5 285.3,351.2 285.2,351.9 285.2,352.5 285.2,353.2 285.2,354.0 285.1,354.8 285.1,355.5 285.1,356.2 285.1,357.0 285.1,357.8 285.1,358.5 285.1,359.2 285.1,360.0 285.1,360.8 285.1,361.5 285.1,362.2 285.1,363.0 285.1,363.8 285.1,364.5 285.1,365.2 285.0,366.0 285.0,366.5 284.9,367.2 284.9,368.0 284.8,368.8 284.8,369.5 284.7,370.0 284.6,370.8 284.6,371.5 284.5,372.0 284.4,372.8 284.3,373.5 284.2,374.0 284.1,374.8 284.0,375.5 284.0,376.0 283.8,376.8 283.7,377.2 283.5,378.0 283.4,378.5 283.2,379.0 283.0,379.5 282.8,380.0 282.5,380.5 282.2,381.0 282.0,381.5 281.7,382.0 281.4,382.5 281.1,383.0 280.8,383.5 280.5,384.0 280.2,384.4 280.0,384.8 279.7,385.2 279.3,385.8 279.0,386.1 278.6,386.5 278.2,386.9 277.8,387.2 277.5,387.5 277.0,387.9 276.5,388.2 276.1,388.5 275.7,388.8 275.2,389.0 274.7,389.2 274.0,389.5 273.8,389.5Z" fill="rgb(242,242,242)" stroke="#666" stroke-width="0.55"/>
<path d="M273.5,387.3 272.8,387.4 272.0,387.5 271.2,387.3 270.8,387.2 270.2,387.0 269.8,386.7 269.2,386.3 268.9,386.0 268.5,385.5 268.2,385.2 268.0,384.8 267.7,384.2 267.5,383.8 267.2,383.2 267.0,382.6 266.8,382.0 266.6,381.5 266.4,381.0 266.2,380.4 266.1,379.8 265.9,379.2 265.8,378.5 265.7,378.0 265.6,377.2 265.5,376.5 265.5,376.0 265.4,375.2 265.4,374.5 265.4,373.8 265.5,373.0 265.5,372.5 265.6,371.8 265.8,371.1 265.9,370.5 266.0,369.9 266.1,369.2 266.3,368.8 266.4,368.0 266.6,367.5 266.7,366.8 266.9,366.2 267.0,365.8 267.2,365.0 267.4,364.5 267.6,364.0 267.8,363.5 268.0,363.0 268.2,362.5 268.5,362.0 268.8,361.5 269.0,361.0 269.2,360.5 269.5,359.9 269.8,359.4 270.0,358.8 270.2,358.3 270.5,357.8 270.7,357.2 270.9,356.8 271.1,356.2 271.3,355.8 271.5,355.1 271.7,354.5 271.9,354.0 272.0,353.5 272.2,352.8 272.4,352.2 272.6,351.8 272.8,351.2 273.0,350.5 273.2,350.0 273.3,349.5 273.5,349.0 273.8,348.5 274.0,347.9 274.2,347.4 274.5,346.9 274.8,346.4 275.0,345.9 275.2,345.5 275.5,345.0 275.9,344.5 276.2,344.0 276.5,343.6 276.8,343.2 277.2,342.8 277.5,342.5 278.0,342.0 278.2,341.7 278.8,341.3 279.2,341.0 279.8,340.8 280.2,340.6 281.0,340.7 281.5,341.0 281.8,341.2 282.2,341.8 282.5,342.2 282.8,342.7 283.0,343.2 283.2,343.8 283.3,344.2 283.4,345.0 283.5,345.8 283.5,346.2 283.5,346.8 283.4,347.5 283.3,348.2 283.2,348.8 283.1,349.5 283.1,350.2 283.2,351.0 283.2,351.8 283.2,352.5 283.1,353.2 283.1,354.0 283.0,354.8 283.0,355.2 282.9,356.0 282.9,356.8 282.9,357.5 283.0,358.2 283.0,359.0 283.0,359.5 283.1,360.2 283.1,361.0 283.2,361.8 283.2,362.5 283.2,363.2 283.3,363.8 283.3,364.5 283.3,365.2 283.3,366.0 283.3,366.8 283.3,367.5 283.3,368.2 283.3,369.0 283.3,369.8 283.2,370.2 283.2,371.0 283.1,371.8 283.1,372.5 283.0,373.1 282.9,373.8 282.8,374.5 282.8,375.1 282.7,375.8 282.5,376.5 282.4,377.0 282.2,377.5 282.0,378.2 281.8,378.8 281.6,379.2 281.3,379.8 281.1,380.2 280.8,380.8 280.5,381.2 280.2,381.7 280.0,382.1 279.8,382.5 279.4,383.0 279.1,383.5 278.8,383.9 278.5,384.2 278.0,384.8 277.8,385.0 277.2,385.4 276.8,385.8 276.4,386.0 275.9,386.2 275.4,386.5 274.9,386.8 274.3,387.0 273.8,387.2 273.5,387.3Z" fill="rgb(236,236,236)" stroke="#666" stroke-width="0.55"/>
<path d="M273.8,385.5 273.0,385.7 272.2,385.7 271.5,385.6 271.0,385.4 270.5,385.1 270.0,384.8 269.8,384.5 269.3,384.0 269.0,383.5 268.8,383.0 268.5,382.5 268.3,382.0 268.1,381.5 267.8,381.0 267.6,380.5 267.4,380.0 267.2,379.5 267.0,378.8 266.9,378.2 266.8,377.7 266.6,377.0 266.6,376.2 266.5,375.7 266.4,375.0 266.4,374.2 266.4,373.5 266.5,372.8 266.6,372.2 266.7,371.5 266.8,371.0 267.0,370.2 267.1,369.8 267.2,369.2 267.4,368.5 267.6,368.0 267.8,367.3 267.9,366.8 268.0,366.2 268.2,365.5 268.4,365.0 268.6,364.5 268.9,364.0 269.1,363.5 269.4,363.0 269.7,362.5 270.0,362.0 270.2,361.6 270.5,361.2 270.8,360.8 271.1,360.2 271.3,359.8 271.6,359.2 271.9,358.8 272.1,358.2 272.4,357.8 272.6,357.2 272.9,356.8 273.1,356.2 273.3,355.8 273.5,355.1 273.7,354.5 273.9,354.0 274.0,353.5 274.2,352.8 274.3,352.2 274.5,351.6 274.7,351.0 274.8,350.5 275.0,349.9 275.2,349.3 275.5,348.8 275.7,348.2 276.0,347.8 276.2,347.3 276.5,346.9 276.8,346.5 277.1,346.0 277.5,345.5 277.8,345.2 278.2,344.8 278.8,344.5 279.2,344.3 280.0,344.3 280.5,344.5 280.9,345.0 281.2,345.5 281.3,346.0 281.5,346.8 281.5,347.5 281.5,348.2 281.4,349.0 281.4,349.8 281.4,350.5 281.4,351.2 281.3,352.0 281.2,352.7 281.2,353.2 281.1,354.0 281.0,354.5 280.9,355.2 280.9,356.0 280.9,356.8 280.9,357.5 281.0,358.2 281.0,358.8 281.1,359.5 281.2,360.2 281.3,360.8 281.4,361.5 281.5,362.0 281.6,362.8 281.7,363.5 281.8,364.0 281.9,364.8 282.0,365.5 282.0,366.0 282.1,366.8 282.1,367.5 282.1,368.2 282.1,369.0 282.1,369.8 282.1,370.5 282.1,371.2 282.0,372.0 282.0,372.5 281.9,373.2 281.8,374.0 281.8,374.6 281.6,375.2 281.5,376.0 281.4,376.5 281.2,377.0 281.0,377.8 280.8,378.2 280.6,378.8 280.4,379.2 280.1,379.8 279.8,380.2 279.5,380.8 279.2,381.2 279.0,381.6 278.7,382.0 278.3,382.5 278.0,382.9 277.7,383.2 277.2,383.7 276.9,384.0 276.5,384.3 276.0,384.6 275.5,384.8 275.0,385.1 274.5,385.3 273.8,385.5 273.8,385.5Z" fill="rgb(230,230,230)" stroke="#666" stroke-width="0.55"/>
<path d="M273.8,384.3 273.0,384.4 272.2,384.3 271.8,384.2 271.2,384.0 270.8,383.6 270.3,383.2 270.0,382.8 269.8,382.5 269.5,382.0 269.2,381.5 269.0,381.0 268.7,380.5 268.5,380.0 268.2,379.5 268.0,378.9 267.8,378.2 267.6,377.8 267.5,377.0 267.4,376.5 267.3,375.8 267.3,375.0 267.2,374.5 267.2,373.8 267.2,373.1 267.3,372.5 267.5,371.8 267.6,371.2 267.8,370.6 267.9,370.0 268.0,369.5 268.2,368.8 268.4,368.2 268.5,367.8 268.8,367.0 268.9,366.5 269.1,366.0 269.3,365.5 269.5,364.9 269.8,364.4 270.0,364.0 270.3,363.5 270.7,363.0 271.0,362.6 271.2,362.2 271.6,361.8 272.0,361.2 272.2,360.8 272.5,360.5 272.8,360.0 273.2,359.5 273.5,359.1 273.8,358.7 274.1,358.2 274.5,357.8 274.8,357.3 275.0,356.9 275.2,356.4 275.5,355.8 275.6,355.2 275.8,354.8 276.0,354.2 276.2,353.5 276.4,353.0 276.5,352.4 276.6,351.8 276.7,351.0 276.9,350.5 277.2,350.0 277.5,349.6 277.9,349.2 278.2,349.0 278.8,349.0 279.1,349.5 279.2,350.2 279.2,351.0 279.0,351.7 278.8,352.2 278.6,352.8 278.5,353.2 278.3,354.0 278.2,354.7 278.2,355.2 278.3,355.8 278.4,356.5 278.5,357.1 278.7,357.8 278.9,358.2 279.0,358.8 279.2,359.4 279.4,360.0 279.6,360.5 279.8,361.0 280.0,361.8 280.1,362.2 280.2,362.8 280.4,363.5 280.6,364.0 280.7,364.8 280.8,365.2 280.9,366.0 281.0,366.7 281.1,367.2 281.1,368.0 281.2,368.8 281.2,369.5 281.2,370.2 281.2,371.0 281.1,371.8 281.1,372.5 281.0,373.2 281.0,373.8 280.9,374.5 280.8,375.2 280.7,375.8 280.5,376.4 280.3,377.0 280.2,377.5 280.0,378.0 279.7,378.5 279.5,379.0 279.2,379.5 278.9,380.0 278.6,380.5 278.3,381.0 278.0,381.4 277.7,381.8 277.3,382.2 277.0,382.5 276.5,383.0 276.1,383.2 275.8,383.5 275.2,383.8 274.7,384.0 274.0,384.2 273.8,384.3Z" fill="rgb(222,222,222)" stroke="#666" stroke-width="0.55"/>
<path d="M273.2,383.3 272.8,383.2 272.0,383.0 271.5,382.8 271.1,382.5 270.8,382.1 270.4,381.8 270.1,381.2 269.8,380.8 269.5,380.2 269.2,379.8 269.0,379.3 268.8,378.8 268.6,378.2 268.4,377.8 268.2,377.0 268.2,376.5 268.0,375.8 268.0,375.2 267.9,374.5 267.9,373.8 268.0,373.0 268.0,372.5 268.2,371.8 268.3,371.2 268.5,370.5 268.6,370.0 268.8,369.5 269.0,368.8 269.2,368.2 269.3,367.8 269.5,367.2 269.8,366.6 270.0,366.0 270.2,365.5 270.5,365.0 270.8,364.6 271.0,364.2 271.4,363.8 271.8,363.3 272.0,363.0 272.5,362.5 272.8,362.2 273.2,361.8 273.5,361.4 273.9,361.0 274.2,360.7 274.8,360.4 275.2,360.1 275.8,359.9 276.5,359.9 277.0,360.2 277.4,360.5 277.8,360.9 278.0,361.2 278.4,361.8 278.6,362.2 278.9,362.8 279.1,363.2 279.3,363.8 279.5,364.4 279.7,365.0 279.8,365.5 280.0,366.2 280.1,366.8 280.2,367.5 280.3,368.0 280.3,368.8 280.4,369.5 280.4,370.2 280.4,371.0 280.4,371.8 280.4,372.5 280.3,373.2 280.2,373.8 280.1,374.5 280.0,375.2 279.9,375.8 279.8,376.3 279.5,377.0 279.3,377.5 279.1,378.0 278.9,378.5 278.6,379.0 278.3,379.5 278.0,380.0 277.8,380.3 277.4,380.8 277.0,381.2 276.8,381.5 276.2,382.0 275.9,382.2 275.5,382.5 275.0,382.8 274.5,383.0 273.8,383.2 273.2,383.3 273.2,383.3Z" fill="rgb(213,213,213)" stroke="#666" stroke-width="0.55"/>
<path d="M274.5,382.0 273.8,382.2 273.0,382.2 272.2,382.0 271.8,381.8 271.4,381.5 271.0,381.1 270.7,380.8 270.4,380.2 270.1,379.8 269.8,379.2 269.5,378.8 269.3,378.2 269.1,377.8 269.0,377.2 268.8,376.5 268.7,376.0 268.6,375.2 268.6,374.5 268.5,373.8 268.6,373.0 268.7,372.2 268.8,371.8 269.0,371.0 269.1,370.5 269.3,370.0 269.5,369.4 269.7,368.8 269.9,368.2 270.1,367.8 270.3,367.2 270.5,366.8 270.8,366.2 271.1,365.8 271.4,365.2 271.8,364.8 272.0,364.5 272.5,364.0 272.8,363.7 273.2,363.3 273.6,363.0 274.0,362.7 274.5,362.5 275.1,362.2 275.8,362.2 276.2,362.3 276.8,362.5 277.2,362.9 277.6,363.2 278.0,363.8 278.2,364.2 278.5,364.7 278.7,365.2 278.9,365.8 279.1,366.2 279.2,366.9 279.4,367.5 279.5,368.1 279.6,368.8 279.7,369.5 279.7,370.2 279.7,371.0 279.7,371.8 279.7,372.5 279.6,373.2 279.5,374.0 279.4,374.5 279.3,375.2 279.2,375.8 279.0,376.4 278.8,377.0 278.6,377.5 278.3,378.0 278.1,378.5 277.8,379.0 277.5,379.4 277.2,379.8 276.9,380.2 276.5,380.6 276.1,381.0 275.8,381.3 275.2,381.7 274.8,381.9 274.5,382.0Z" fill="rgb(204,204,204)" stroke="#666" stroke-width="0.55"/>
<path d="M274.5,381.0 273.8,381.2 273.0,381.2 272.4,381.0 271.9,380.8 271.5,380.4 271.1,380.0 270.8,379.5 270.5,379.1 270.2,378.7 270.0,378.2 269.8,377.5 269.6,377.0 269.5,376.5 269.3,375.8 269.2,375.2 269.1,374.5 269.1,373.8 269.1,373.0 269.2,372.2 269.4,371.8 269.5,371.2 269.8,370.6 270.0,370.0 270.1,369.5 270.3,369.0 270.5,368.5 270.8,368.0 271.0,367.5 271.3,367.0 271.6,366.5 271.9,366.0 272.2,365.6 272.6,365.2 273.0,364.9 273.5,364.5 273.9,364.2 274.4,364.0 275.0,363.8 275.8,363.9 276.2,364.0 276.8,364.3 277.2,364.8 277.5,365.1 277.8,365.5 278.0,366.0 278.2,366.5 278.5,367.2 278.6,367.8 278.8,368.2 278.9,369.0 279.0,369.8 279.0,370.2 279.0,371.0 279.0,371.8 279.0,372.2 278.9,373.0 278.9,373.8 278.8,374.5 278.7,375.0 278.5,375.7 278.4,376.2 278.2,376.8 278.0,377.2 277.7,377.8 277.4,378.2 277.1,378.8 276.8,379.2 276.5,379.5 276.1,380.0 275.8,380.3 275.2,380.6 274.8,380.9 274.5,381.0Z" fill="rgb(193,193,193)" stroke="#666" stroke-width="0.55"/>
<path d="M273.5,380.3 273.0,380.2 272.5,380.0 272.0,379.7 271.5,379.2 271.2,378.9 270.9,378.5 270.7,378.0 270.4,377.5 270.2,377.0 270.0,376.2 269.9,375.8 269.8,375.0 269.7,374.5 269.6,373.8 269.7,373.0 269.8,372.4 269.9,371.8 270.1,371.2 270.3,370.8 270.5,370.2 270.8,369.7 271.0,369.1 271.2,368.6 271.5,368.1 271.8,367.7 272.0,367.2 272.4,366.8 272.8,366.4 273.2,366.0 273.5,365.8 274.0,365.5 274.7,365.2 275.2,365.2 275.8,365.3 276.2,365.6 276.8,366.0 277.0,366.3 277.3,366.8 277.6,367.2 277.8,367.8 278.0,368.3 278.2,369.0 278.3,369.5 278.3,370.2 278.4,371.0 278.3,371.8 278.3,372.5 278.2,373.0 278.1,373.8 278.1,374.5 278.0,375.0 277.8,375.8 277.7,376.2 277.5,376.8 277.2,377.2 276.9,377.8 276.6,378.2 276.2,378.7 276.0,379.0 275.5,379.5 275.1,379.8 274.6,380.0 274.0,380.2 273.5,380.3 273.5,380.3Z" fill="rgb(182,182,182)" stroke="#666" stroke-width="0.55"/>
<path d="M273.8,379.3 273.2,379.2 272.6,379.0 272.2,378.8 271.8,378.3 271.5,378.0 271.2,377.5 270.9,377.0 270.7,376.5 270.5,375.8 270.4,375.2 270.3,374.5 270.2,374.0 270.2,373.2 270.2,372.6 270.4,372.0 270.6,371.5 270.8,371.0 271.0,370.5 271.3,370.0 271.5,369.5 271.8,369.0 272.1,368.5 272.5,368.0 272.8,367.7 273.2,367.2 273.5,367.0 274.0,366.7 274.8,366.5 275.5,366.6 276.0,366.9 276.4,367.2 276.8,367.7 277.0,368.1 277.2,368.6 277.4,369.2 277.6,369.8 277.6,370.5 277.6,371.2 277.6,372.0 277.5,372.6 277.4,373.2 277.4,374.0 277.3,374.8 277.2,375.2 277.0,376.0 276.8,376.5 276.6,377.0 276.3,377.5 276.0,377.9 275.7,378.2 275.2,378.6 274.8,379.0 274.2,379.2 273.8,379.3 273.8,379.3Z" fill="rgb(170,170,170)" stroke="#666" stroke-width="0.55"/>
<path d="M274.5,378.0 273.8,378.2 273.0,378.1 272.5,377.8 272.1,377.5 271.8,377.0 271.5,376.5 271.3,376.0 271.1,375.5 271.0,375.0 270.8,374.2 270.8,373.6 270.8,373.2 270.9,372.5 271.0,372.0 271.2,371.5 271.5,371.0 271.8,370.5 272.1,370.0 272.4,369.5 272.8,369.0 273.0,368.7 273.5,368.3 274.0,368.0 274.5,367.8 275.2,367.9 275.8,368.2 276.1,368.5 276.4,369.0 276.6,369.5 276.8,370.0 276.9,370.8 276.8,371.5 276.8,372.2 276.7,372.8 276.6,373.5 276.6,374.2 276.6,375.0 276.4,375.5 276.2,376.0 276.0,376.5 275.7,377.0 275.2,377.5 274.9,377.8 274.5,378.0 274.5,378.0Z" fill="rgb(157,157,157)" stroke="#666" stroke-width="0.55"/>
<path d="M274.2,377.1 273.5,377.2 272.9,377.0 272.5,376.7 272.2,376.2 271.9,375.8 271.7,375.2 271.5,374.7 271.4,374.0 271.3,373.2 271.5,372.5 271.7,372.0 271.9,371.5 272.2,371.0 272.5,370.6 272.8,370.2 273.2,369.8 273.5,369.5 274.0,369.2 274.8,369.1 275.2,369.3 275.7,369.8 275.9,370.2 276.0,370.8 276.1,371.5 276.0,372.2 276.0,372.8 276.0,373.5 275.9,374.2 275.8,375.0 275.7,375.5 275.5,376.0 275.1,376.5 274.8,376.8 274.2,377.1 274.2,377.1Z" fill="rgb(144,144,144)" stroke="#666" stroke-width="0.55"/>
<path d="M274.2,376.0 273.5,376.2 273.0,375.9 272.6,375.5 272.3,375.0 272.1,374.5 272.0,374.0 272.0,373.2 272.1,372.8 272.3,372.2 272.6,371.8 273.0,371.2 273.2,371.0 273.8,370.6 274.2,370.4 274.8,370.6 275.1,371.0 275.2,371.6 275.3,372.2 275.3,373.0 275.3,373.8 275.2,374.3 275.1,375.0 274.8,375.5 274.5,375.9 274.2,376.0Z" fill="rgb(130,130,130)" stroke="#666" stroke-width="0.55"/>
</g>
<rect x="210" y="309" width="94.10000000000002" height="93.89999999999998" fill="none" stroke="#1a1a1a" stroke-width="1.3"/>
<path d="M210,402.90 h-3.0M210,399.32 h-1.6M210,395.73 h-1.6M210,392.15 h-1.6M210,388.56 h-1.6M210,384.98 h-3.0M210,381.40 h-1.6M210,377.81 h-1.6M210,374.23 h-1.6M210,370.64 h-1.6M210,367.06 h-3.0M210,363.48 h-1.6M210,359.89 h-1.6M210,356.31 h-1.6M210,352.72 h-1.6M210,349.14 h-3.0M210,345.56 h-1.6M210,341.97 h-1.6M210,338.39 h-1.6M210,334.80 h-1.6M210,331.22 h-3.0M210,327.64 h-1.6M210,324.05 h-1.6M210,320.47 h-1.6M210,316.88 h-1.6M210,313.30 h-3.0" stroke="#1a1a1a" stroke-width="0.9" fill="none"/>
<text transform="translate(203.2 405.0) scale(1.0 1)" font-size="6.2" fill="#333" text-anchor="end">0</text>
<text transform="translate(203.2 387.08) scale(1.0 1)" font-size="6.2" fill="#333" text-anchor="end">50K</text>
<text transform="translate(203.2 369.16) scale(1.0 1)" font-size="6.2" fill="#333" text-anchor="end">100K</text>
<text transform="translate(203.2 351.24) scale(1.0 1)" font-size="6.2" fill="#333" text-anchor="end">150K</text>
<text transform="translate(203.2 333.32000000000005) scale(1.0 1)" font-size="6.2" fill="#333" text-anchor="end">200K</text>
<text transform="translate(203.2 315.40000000000003) scale(1.0 1)" font-size="6.2" fill="#333" text-anchor="end">250K</text>
<path d="M211.50,402.9 v2.0M212.95,402.9 v2.0M214.40,402.9 v2.0M215.85,402.9 v2.0M217.30,402.9 v2.0M218.75,402.9 v2.0M220.20,402.9 v2.0M221.65,402.9 v2.0M223.10,402.9 v2.0M224.55,402.9 v2.0M226.00,402.9 v2.0M227.45,402.9 v2.0M235.98,402.9 v1.6M240.07,402.9 v1.6M242.97,402.9 v1.6M245.22,402.9 v1.6M247.05,402.9 v1.6M248.61,402.9 v1.6M249.95,402.9 v1.6M251.14,402.9 v1.6M258.85,402.9 v1.6M262.74,402.9 v1.6M265.51,402.9 v1.6M267.65,402.9 v1.6M269.40,402.9 v1.6M270.88,402.9 v1.6M272.16,402.9 v1.6M273.29,402.9 v1.6M280.71,402.9 v1.6M284.46,402.9 v1.6M287.12,402.9 v1.6M289.19,402.9 v1.6M290.87,402.9 v1.6M292.30,402.9 v1.6M293.54,402.9 v1.6M294.63,402.9 v1.6M302.01,402.9 v1.6M219.90,402.9 v3.0M229.00,402.9 v3.0M252.20,402.9 v3.0M274.30,402.9 v3.0M295.60,402.9 v3.0" stroke="#1a1a1a" stroke-width="0.9" fill="none"/>
<text x="219.9" y="412.29999999999995" font-size="6.2" fill="#333" text-anchor="middle">0</text>
<text x="224.6" y="412.29999999999995" font-size="6.7" fill="#333" transform="translate(224.6 0) scale(0.86 1) translate(-224.6 0)">10<tspan font-size="4.02" dy="-2.9">2</tspan></text>
<text x="247.7" y="412.29999999999995" font-size="6.7" fill="#333" transform="translate(247.7 0) scale(0.86 1) translate(-247.7 0)">10<tspan font-size="4.02" dy="-2.9">3</tspan></text>
<text x="269.8" y="412.29999999999995" font-size="6.7" fill="#333" transform="translate(269.8 0) scale(0.86 1) translate(-269.8 0)">10<tspan font-size="4.02" dy="-2.9">4</tspan></text>
<text x="291.0" y="412.29999999999995" font-size="6.7" fill="#333" transform="translate(291.0 0) scale(0.86 1) translate(-291.0 0)">10<tspan font-size="4.02" dy="-2.9">5</tspan></text>
<text transform="translate(183 355.6) rotate(-90) scale(0.66 1)" x="0" y="0" font-size="10" text-anchor="middle" font-weight="normal" fill="#222">SSC</text>
<text transform="translate(257 423.9) rotate(0) scale(0.74 1)" x="0" y="0" font-size="10.3" text-anchor="middle" font-weight="normal" fill="#222">CD45</text>
<rect x="394" y="324" width="41.30000000000001" height="38.10000000000002" fill="none" stroke="#a4a4cc" stroke-width="0.9"/>
<g clip-path="url(#c4)">
<path d="M406.5,398.3 405.8,398.3 405.2,398.2 404.6,398.0 404.0,397.8 403.5,397.6 403.0,397.3 402.5,397.0 402.2,396.8 401.8,396.4 401.3,396.0 401.0,395.6 400.7,395.2 400.3,394.8 400.0,394.2 399.8,393.8 399.5,393.2 399.3,392.8 399.1,392.2 398.9,391.8 398.8,391.2 398.6,390.5 398.5,390.0 398.4,389.2 398.4,388.5 398.4,387.8 398.5,387.2 398.8,386.5 399.0,386.0 399.2,385.5 399.3,385.0 399.5,384.4 399.6,383.8 399.7,383.0 399.7,382.2 399.7,381.5 399.8,380.9 399.8,380.2 400.0,379.6 400.2,379.0 400.4,378.5 400.5,378.0 400.8,377.3 400.9,376.8 401.0,376.2 401.1,375.5 401.1,374.8 401.1,374.0 401.0,373.2 401.0,372.8 400.9,372.0 401.0,371.2 401.0,370.5 401.0,370.0 401.1,369.2 401.1,368.5 401.2,367.8 401.2,367.1 401.3,366.5 401.3,365.8 401.3,365.0 401.2,364.5 401.1,363.8 401.0,363.1 400.9,362.5 400.8,361.8 400.6,361.2 400.5,360.5 400.5,360.0 400.4,359.2 400.3,358.5 400.2,358.0 400.1,357.2 400.0,356.6 399.9,356.0 399.8,355.2 399.8,354.5 399.7,354.0 399.7,353.2 399.7,352.5 399.7,351.8 399.6,351.0 399.7,350.2 399.8,349.5 399.8,349.0 400.0,348.3 400.2,347.8 400.3,347.2 400.5,346.5 400.7,346.0 400.8,345.5 401.0,345.0 401.2,344.4 401.5,343.9 401.8,343.4 402.0,342.9 402.3,342.5 402.6,342.0 402.9,341.5 403.2,341.0 403.5,340.6 403.8,340.2 404.0,339.8 404.3,339.2 404.7,338.8 405.0,338.2 405.2,337.8 405.5,337.4 405.8,337.0 406.1,336.5 406.4,336.0 406.8,335.6 407.0,335.2 407.4,334.8 407.8,334.4 408.1,334.0 408.5,333.7 409.0,333.3 409.5,333.0 410.0,332.8 410.5,332.6 411.2,332.6 412.0,332.7 412.5,332.9 413.0,333.2 413.3,333.5 413.8,333.9 414.1,334.2 414.5,334.6 414.9,335.0 415.2,335.4 415.7,335.8 416.0,336.0 416.5,336.4 417.0,336.7 417.4,337.0 417.8,337.3 418.2,337.8 418.5,338.0 418.9,338.5 419.2,339.0 419.5,339.5 419.7,340.0 420.0,340.5 420.2,341.0 420.4,341.5 420.5,342.0 420.8,342.7 420.9,343.2 421.0,343.8 421.1,344.5 421.1,345.2 421.0,346.0 420.9,346.5 420.8,347.2 420.7,347.8 420.5,348.5 420.4,349.0 420.2,349.6 420.1,350.2 419.9,350.8 419.8,351.5 419.6,352.0 419.5,352.5 419.3,353.2 419.1,353.8 419.0,354.2 418.8,355.0 418.6,355.5 418.5,356.0 418.3,356.8 418.1,357.2 417.9,357.8 417.8,358.3 417.5,358.9 417.3,359.5 417.1,360.0 416.9,360.5 416.7,361.0 416.5,361.5 416.2,362.0 416.0,362.5 415.7,363.0 415.4,363.5 415.1,364.0 414.8,364.5 414.5,364.8 414.1,365.2 413.8,365.7 413.5,366.1 413.2,366.5 413.0,367.1 412.8,367.8 412.6,368.2 412.5,368.8 412.3,369.5 412.2,370.0 412.0,370.8 411.9,371.2 411.8,372.0 411.7,372.5 411.6,373.2 411.5,373.8 411.4,374.5 411.3,375.2 411.2,375.8 411.1,376.5 411.0,377.1 410.9,377.8 410.9,378.5 410.9,379.2 410.9,380.0 411.0,380.8 411.0,381.2 411.1,382.0 411.2,382.8 411.2,383.5 411.2,384.2 411.3,384.8 411.3,385.5 411.5,386.2 411.6,386.8 411.8,387.3 411.8,388.0 411.8,388.8 411.7,389.2 411.5,390.0 411.4,390.5 411.2,391.1 411.1,391.8 410.9,392.2 410.8,392.8 410.5,393.4 410.2,393.9 410.0,394.4 409.8,394.8 409.5,395.2 409.1,395.8 408.8,396.2 408.5,396.6 408.1,397.0 407.8,397.4 407.4,397.8 407.0,398.1 406.5,398.3 406.5,398.3Z" fill="rgb(244,244,244)" stroke="#444" stroke-width="0.55"/>
<path d="M405.2,390.8 404.6,390.8 404.0,390.5 403.6,390.2 403.2,389.9 402.9,389.5 402.7,389.0 402.5,388.3 402.5,387.8 402.5,387.0 402.5,386.2 402.5,385.8 402.6,385.0 402.6,384.2 402.6,383.5 402.6,382.8 402.6,382.0 402.6,381.2 402.6,380.5 402.5,379.8 402.5,379.2 402.4,378.5 402.3,377.8 402.3,377.0 402.3,376.2 402.2,375.8 402.2,375.0 402.1,374.2 402.1,373.5 402.0,372.8 402.0,372.0 402.0,371.2 402.0,370.5 402.1,369.8 402.1,369.0 402.2,368.2 402.3,367.8 402.4,367.0 402.5,366.2 402.5,365.8 402.6,365.0 402.7,364.2 402.8,363.8 402.9,363.0 403.0,362.3 403.1,361.8 403.2,361.0 403.2,360.4 403.3,359.8 403.3,359.0 403.3,358.2 403.3,357.5 403.2,357.0 403.1,356.2 403.1,355.5 403.0,354.8 403.0,354.2 403.0,353.5 403.0,352.8 403.0,352.0 403.0,351.5 403.1,350.8 403.1,350.0 403.2,349.2 403.3,348.8 403.4,348.0 403.5,347.4 403.6,346.8 403.8,346.2 403.9,345.5 404.1,345.0 404.2,344.4 404.5,343.8 404.7,343.2 404.9,342.8 405.1,342.2 405.3,341.8 405.6,341.2 405.8,340.8 406.0,340.2 406.3,339.8 406.5,339.2 406.8,338.8 407.1,338.2 407.3,337.8 407.7,337.2 408.0,336.8 408.2,336.5 408.7,336.0 409.0,335.8 409.5,335.4 410.0,335.1 410.5,335.0 411.2,335.0 411.8,335.1 412.2,335.4 412.7,335.8 413.0,336.0 413.4,336.5 413.8,336.9 414.0,337.3 414.3,337.8 414.7,338.2 415.0,338.6 415.3,339.0 415.7,339.5 416.0,339.9 416.3,340.2 416.7,340.8 417.0,341.2 417.3,341.5 417.6,342.0 417.9,342.5 418.1,343.0 418.3,343.5 418.5,344.1 418.6,344.8 418.6,345.5 418.5,346.1 418.4,346.8 418.2,347.3 418.0,348.0 417.9,348.5 417.7,349.0 417.5,349.6 417.2,350.2 417.0,350.8 416.9,351.2 416.7,351.8 416.5,352.2 416.2,352.9 416.0,353.5 415.8,354.0 415.7,354.5 415.5,355.0 415.2,355.5 415.0,356.1 414.8,356.6 414.5,357.1 414.2,357.6 414.0,358.0 413.8,358.5 413.5,359.1 413.2,359.6 413.0,360.1 412.8,360.7 412.5,361.2 412.3,361.8 412.2,362.2 412.0,362.8 411.8,363.5 411.7,364.0 411.6,364.8 411.5,365.2 411.4,366.0 411.3,366.8 411.3,367.5 411.2,368.0 411.1,368.8 411.1,369.5 411.0,370.0 410.9,370.8 410.8,371.5 410.7,372.0 410.6,372.8 410.5,373.4 410.4,374.0 410.2,374.6 410.1,375.2 410.0,375.8 409.8,376.5 409.6,377.0 409.5,377.5 409.2,378.2 409.1,378.8 408.9,379.2 408.8,379.8 408.5,380.5 408.4,381.0 408.2,381.6 408.1,382.2 408.0,383.0 407.9,383.5 407.9,384.2 407.8,385.0 407.8,385.6 407.7,386.2 407.6,387.0 407.5,387.6 407.3,388.2 407.2,388.8 407.0,389.2 406.7,389.8 406.3,390.2 406.0,390.5 405.4,390.8 405.2,390.8Z" fill="rgb(237,237,237)" stroke="#444" stroke-width="0.55"/>
<path d="M405.8,380.8 405.2,380.7 404.8,380.4 404.4,380.0 404.1,379.5 403.9,379.0 403.7,378.5 403.5,378.0 403.3,377.2 403.2,376.8 403.0,376.0 403.0,375.5 402.9,374.8 402.8,374.0 402.7,373.5 402.7,372.8 402.7,372.0 402.7,371.2 402.7,370.5 402.7,369.8 402.8,369.2 402.9,368.5 403.0,367.8 403.0,367.2 403.2,366.5 403.2,366.0 403.4,365.2 403.5,364.7 403.7,364.0 403.8,363.5 404.0,362.8 404.1,362.2 404.3,361.8 404.5,361.2 404.8,360.6 405.0,360.0 405.1,359.5 405.3,359.0 405.4,358.2 405.5,357.5 405.4,356.8 405.3,356.0 405.2,355.3 405.2,354.8 405.1,354.0 405.0,353.3 405.0,352.8 404.9,352.0 404.9,351.2 404.9,350.5 404.9,349.8 404.9,349.0 405.0,348.4 405.1,347.8 405.1,347.0 405.2,346.3 405.3,345.8 405.5,345.0 405.6,344.5 405.7,343.8 405.9,343.2 406.0,342.8 406.2,342.2 406.5,341.6 406.8,341.0 407.0,340.5 407.2,340.0 407.5,339.5 407.8,339.0 408.0,338.6 408.2,338.2 408.6,337.8 409.0,337.4 409.5,337.0 409.9,336.8 410.5,336.6 411.2,336.6 411.8,336.8 412.2,337.2 412.6,337.5 413.0,338.0 413.2,338.4 413.5,338.8 413.8,339.3 414.0,339.8 414.2,340.3 414.5,340.9 414.7,341.5 414.9,342.0 415.1,342.5 415.3,343.0 415.5,343.6 415.7,344.2 415.8,344.8 415.9,345.5 415.9,346.2 415.8,347.0 415.7,347.5 415.5,348.2 415.4,348.8 415.2,349.3 415.0,350.0 414.9,350.5 414.7,351.0 414.5,351.7 414.3,352.2 414.2,352.8 414.0,353.2 413.8,353.9 413.5,354.5 413.3,355.0 413.1,355.5 412.8,356.0 412.6,356.5 412.4,357.0 412.1,357.5 411.8,358.0 411.6,358.5 411.3,359.0 411.0,359.4 410.8,360.0 410.6,360.5 410.5,361.0 410.4,361.8 410.4,362.5 410.5,363.2 410.5,364.0 410.5,364.8 410.5,365.2 410.5,366.0 410.5,366.8 410.5,367.2 410.5,368.0 410.4,368.8 410.4,369.5 410.3,370.2 410.2,370.8 410.2,371.5 410.0,372.2 410.0,372.8 409.8,373.5 409.7,374.0 409.5,374.7 409.3,375.2 409.2,375.8 409.0,376.2 408.8,376.9 408.5,377.5 408.2,378.0 408.0,378.5 407.8,378.9 407.5,379.3 407.2,379.8 406.8,380.2 406.4,380.5 405.8,380.8 405.8,380.8Z" fill="rgb(228,228,228)" stroke="#444" stroke-width="0.55"/>
<path d="M408.5,358.6 408.0,358.4 407.8,357.9 407.5,357.4 407.2,356.8 407.0,356.2 406.8,355.8 406.7,355.2 406.5,354.8 406.3,354.0 406.2,353.5 406.0,352.8 406.0,352.2 405.9,351.5 405.8,350.8 405.8,350.0 405.8,349.2 405.8,348.5 405.9,347.8 406.0,347.0 406.0,346.5 406.1,345.8 406.2,345.0 406.3,344.5 406.5,343.8 406.6,343.2 406.8,342.8 407.0,342.2 407.2,341.6 407.5,341.0 407.7,340.5 408.0,340.0 408.2,339.6 408.5,339.2 408.9,338.8 409.2,338.4 409.8,338.0 410.2,337.8 411.0,337.8 411.5,338.0 412.0,338.4 412.4,338.8 412.7,339.2 413.0,339.7 413.2,340.2 413.5,340.8 413.6,341.2 413.8,341.8 414.0,342.5 414.1,343.0 414.2,343.6 414.4,344.2 414.4,345.0 414.5,345.8 414.4,346.5 414.4,347.2 414.3,348.0 414.2,348.5 414.0,349.2 413.9,349.8 413.8,350.5 413.6,351.0 413.5,351.5 413.2,352.1 413.0,352.8 412.8,353.2 412.6,353.8 412.4,354.2 412.1,354.8 411.9,355.2 411.6,355.8 411.2,356.2 411.0,356.6 410.6,357.0 410.2,357.4 409.8,357.8 409.5,358.0 409.0,358.3 408.5,358.6 408.5,358.6ZM406.5,378.5 405.8,378.7 405.2,378.5 404.8,378.1 404.5,377.8 404.2,377.2 404.0,376.8 403.8,376.0 403.6,375.5 403.5,374.9 403.4,374.2 403.3,373.5 403.2,373.0 403.2,372.2 403.2,371.5 403.2,370.8 403.2,370.0 403.3,369.5 403.3,368.8 403.5,368.0 403.5,367.5 403.7,366.8 403.8,366.2 403.9,365.5 404.1,365.0 404.2,364.3 404.4,363.8 404.6,363.2 404.9,362.8 405.1,362.2 405.4,361.8 405.7,361.2 406.0,360.8 406.3,360.5 406.8,360.0 407.1,359.8 407.5,359.4 408.0,359.2 408.3,359.5 408.5,360.0 408.8,360.5 409.0,361.2 409.2,361.8 409.3,362.2 409.5,363.0 409.6,363.5 409.7,364.2 409.8,364.8 409.8,365.5 409.9,366.2 409.9,367.0 409.9,367.8 409.9,368.5 409.9,369.2 409.8,370.0 409.8,370.6 409.7,371.2 409.6,372.0 409.5,372.5 409.3,373.2 409.2,373.8 409.0,374.4 408.8,375.0 408.6,375.5 408.4,376.0 408.1,376.5 407.9,377.0 407.5,377.5 407.2,377.9 406.9,378.2 406.5,378.5 406.5,378.5Z" fill="rgb(216,216,216)" stroke="#444" stroke-width="0.55"/>
<path d="M409.5,356.0 408.9,356.0 408.4,355.8 408.0,355.4 407.7,355.0 407.4,354.5 407.2,354.0 407.0,353.5 406.8,352.8 406.7,352.2 406.5,351.5 406.5,351.0 406.4,350.2 406.4,349.5 406.4,348.8 406.4,348.0 406.5,347.2 406.5,346.8 406.6,346.0 406.7,345.2 406.8,344.8 407.0,344.0 407.1,343.5 407.2,343.0 407.5,342.3 407.7,341.8 408.0,341.2 408.2,340.8 408.5,340.3 408.8,339.9 409.1,339.5 409.5,339.2 410.0,338.9 410.5,338.7 411.0,338.8 411.5,339.0 412.0,339.5 412.2,339.8 412.5,340.2 412.8,340.8 413.0,341.3 413.2,342.0 413.4,342.5 413.5,343.1 413.6,343.8 413.7,344.5 413.8,345.1 413.8,345.8 413.8,346.5 413.7,347.0 413.6,347.8 413.5,348.5 413.4,349.0 413.3,349.8 413.1,350.2 413.0,350.8 412.8,351.5 412.6,352.0 412.4,352.5 412.2,353.0 411.9,353.5 411.6,354.0 411.3,354.5 411.0,354.9 410.7,355.2 410.2,355.6 409.8,355.9 409.5,356.0ZM406.5,377.3 405.8,377.4 405.2,377.2 404.8,376.8 404.5,376.2 404.3,375.8 404.1,375.2 404.0,374.8 403.8,374.0 403.7,373.5 403.7,372.8 403.6,372.0 403.6,371.2 403.6,370.5 403.7,369.8 403.7,369.0 403.8,368.5 403.9,367.8 404.0,367.2 404.2,366.5 404.3,366.0 404.5,365.3 404.7,364.8 404.9,364.2 405.1,363.8 405.4,363.2 405.7,362.8 406.0,362.4 406.4,362.0 406.9,361.8 407.5,361.7 408.0,362.0 408.2,362.3 408.5,362.8 408.8,363.2 409.0,364.0 409.1,364.5 409.2,365.1 409.3,365.8 409.4,366.5 409.5,367.2 409.5,368.0 409.5,368.8 409.4,369.5 409.4,370.2 409.3,371.0 409.2,371.5 409.1,372.2 409.0,372.8 408.8,373.5 408.6,374.0 408.5,374.5 408.2,375.0 408.0,375.5 407.7,376.0 407.4,376.5 407.0,377.0 406.6,377.2 406.5,377.3Z" fill="rgb(202,202,202)" stroke="#444" stroke-width="0.55"/>
<path d="M409.5,354.8 409.0,354.7 408.5,354.5 408.1,354.0 407.8,353.5 407.5,353.0 407.3,352.5 407.2,352.0 407.0,351.2 406.9,350.8 406.9,350.0 406.8,349.2 406.8,348.5 406.9,347.8 406.9,347.0 407.0,346.4 407.1,345.8 407.2,345.0 407.3,344.5 407.5,343.8 407.6,343.2 407.8,342.8 408.0,342.2 408.2,341.7 408.5,341.2 408.8,340.8 409.2,340.2 409.5,340.0 410.0,339.7 410.8,339.6 411.2,339.8 411.8,340.2 412.0,340.5 412.3,341.0 412.5,341.5 412.8,342.1 412.9,342.8 413.0,343.2 413.2,344.0 413.2,344.8 413.3,345.2 413.3,346.0 413.3,346.8 413.2,347.2 413.1,348.0 413.0,348.7 412.9,349.2 412.8,349.8 412.6,350.5 412.4,351.0 412.2,351.5 412.0,352.0 411.8,352.5 411.5,353.0 411.2,353.5 410.8,354.0 410.5,354.3 410.0,354.6 409.5,354.8 409.5,354.8ZM406.5,376.3 405.8,376.4 405.2,376.1 405.0,375.8 404.7,375.2 404.5,374.8 404.3,374.0 404.2,373.5 404.0,372.8 404.0,372.2 404.0,371.5 404.0,370.8 404.0,370.0 404.0,369.5 404.1,368.8 404.2,368.0 404.3,367.5 404.5,366.8 404.6,366.2 404.8,365.8 405.0,365.2 405.2,364.6 405.5,364.2 405.8,363.8 406.2,363.2 406.6,363.0 407.2,362.9 407.8,363.2 408.1,363.5 408.4,364.0 408.6,364.5 408.8,365.1 408.9,365.8 409.0,366.5 409.0,367.0 409.1,367.8 409.1,368.5 409.1,369.2 409.1,370.0 409.0,370.7 408.9,371.2 408.8,372.0 408.7,372.5 408.5,373.2 408.3,373.8 408.1,374.2 407.9,374.8 407.6,375.2 407.2,375.7 407.0,376.0 406.5,376.3 406.5,376.3Z" fill="rgb(187,187,187)" stroke="#444" stroke-width="0.55"/>
<path d="M409.8,353.8 409.1,353.8 408.7,353.5 408.2,353.1 408.0,352.7 407.8,352.1 407.6,351.5 407.4,351.0 407.3,350.2 407.2,349.8 407.2,349.0 407.2,348.2 407.2,347.5 407.3,347.0 407.4,346.2 407.5,345.5 407.6,345.0 407.7,344.2 407.8,343.8 408.0,343.2 408.2,342.6 408.5,342.1 408.8,341.6 409.0,341.2 409.5,340.8 409.8,340.5 410.5,340.3 411.1,340.5 411.5,340.8 411.9,341.2 412.1,341.8 412.3,342.2 412.5,342.8 412.7,343.5 412.8,344.0 412.8,344.8 412.9,345.5 412.9,346.2 412.8,347.0 412.8,347.8 412.7,348.2 412.5,349.0 412.4,349.5 412.2,350.1 412.0,350.8 411.8,351.2 411.6,351.8 411.3,352.2 411.0,352.8 410.8,353.1 410.3,353.5 409.8,353.8 409.8,353.8ZM406.2,375.6 405.7,375.5 405.2,375.1 405.0,374.7 404.8,374.1 404.6,373.5 404.5,373.0 404.3,372.2 404.3,371.5 404.3,370.8 404.3,370.0 404.4,369.2 404.5,368.5 404.6,368.0 404.8,367.3 404.9,366.8 405.1,366.2 405.2,365.7 405.5,365.2 405.8,364.8 406.2,364.2 406.6,364.0 407.2,363.9 407.7,364.2 408.0,364.7 408.2,365.2 408.4,365.8 408.5,366.2 408.7,367.0 408.7,367.8 408.8,368.3 408.8,369.0 408.8,369.5 408.7,370.2 408.7,371.0 408.5,371.8 408.4,372.2 408.2,372.9 408.0,373.5 407.8,374.0 407.5,374.5 407.2,374.8 406.9,375.2 406.5,375.5 406.2,375.6Z" fill="rgb(170,170,170)" stroke="#444" stroke-width="0.55"/>
<path d="M410.0,352.8 409.2,352.9 408.8,352.6 408.4,352.2 408.1,351.8 407.9,351.2 407.8,350.5 407.7,350.0 407.6,349.2 407.5,348.5 407.6,347.8 407.6,347.0 407.7,346.2 407.8,345.8 407.9,345.0 408.0,344.5 408.2,343.8 408.4,343.2 408.6,342.8 408.9,342.2 409.2,341.8 409.5,341.4 410.0,341.1 410.8,341.0 411.2,341.4 411.6,341.8 411.9,342.2 412.1,342.8 412.2,343.3 412.4,344.0 412.5,344.8 412.5,345.2 412.5,346.0 412.5,346.8 412.5,347.2 412.4,348.0 412.2,348.7 412.1,349.2 412.0,349.8 411.8,350.4 411.5,351.0 411.2,351.5 411.0,351.9 410.7,352.2 410.2,352.7 410.0,352.8ZM406.8,374.5 406.0,374.7 405.5,374.4 405.2,374.0 405.0,373.5 404.8,372.8 404.7,372.2 404.6,371.5 404.6,370.8 404.6,370.0 404.7,369.2 404.8,368.8 404.9,368.0 405.1,367.5 405.2,366.9 405.5,366.2 405.8,365.8 406.0,365.4 406.4,365.0 407.0,364.8 407.5,365.1 407.8,365.5 408.0,366.0 408.2,366.8 408.3,367.2 408.4,368.0 408.4,368.8 408.4,369.5 408.4,370.2 408.3,371.0 408.2,371.6 408.1,372.2 407.9,372.8 407.7,373.2 407.4,373.8 407.1,374.2 406.8,374.5 406.8,374.5Z" fill="rgb(152,152,152)" stroke="#444" stroke-width="0.55"/>
<path d="M410.0,352.1 409.2,352.1 408.8,351.8 408.5,351.3 408.2,350.8 408.1,350.2 408.0,349.8 407.9,349.0 407.9,348.2 407.9,347.5 408.0,346.8 408.0,346.2 408.1,345.5 408.2,344.9 408.4,344.2 408.6,343.8 408.8,343.2 409.0,342.8 409.4,342.2 409.8,341.9 410.2,341.7 410.8,341.8 411.2,342.1 411.5,342.5 411.8,343.0 412.0,343.8 412.1,344.2 412.2,345.0 412.2,345.8 412.2,346.5 412.1,347.2 412.0,348.0 411.9,348.5 411.8,349.2 411.6,349.8 411.4,350.2 411.2,350.8 410.9,351.2 410.5,351.7 410.1,352.0 410.0,352.1ZM406.8,373.8 406.0,373.9 405.6,373.5 405.3,373.0 405.1,372.5 405.0,371.8 404.9,371.2 404.9,370.5 405.0,369.8 405.0,369.2 405.2,368.5 405.3,368.0 405.5,367.4 405.8,366.8 406.0,366.3 406.3,366.0 407.0,365.8 407.5,366.2 407.7,366.8 407.9,367.2 408.0,367.8 408.1,368.5 408.1,369.2 408.1,370.0 408.1,370.8 408.0,371.2 407.8,372.0 407.6,372.5 407.4,373.0 407.0,373.5 406.8,373.8 406.8,373.8Z" fill="rgb(132,132,132)" stroke="#444" stroke-width="0.55"/>
<path d="M410.0,351.3 409.2,351.3 408.9,351.0 408.6,350.5 408.4,350.0 408.3,349.2 408.2,348.8 408.2,348.0 408.2,347.2 408.3,346.8 408.4,346.0 408.5,345.3 408.6,344.8 408.8,344.2 409.0,343.6 409.2,343.2 409.6,342.8 410.0,342.5 410.8,342.5 411.1,342.8 411.4,343.2 411.6,343.8 411.8,344.4 411.8,345.0 411.9,345.8 411.9,346.5 411.8,347.2 411.8,347.8 411.6,348.5 411.5,349.0 411.2,349.6 411.0,350.2 410.8,350.6 410.4,351.0 410.0,351.3 410.0,351.3ZM406.5,373.1 406.0,373.0 405.6,372.5 405.4,372.0 405.3,371.2 405.3,370.5 405.3,369.8 405.5,369.0 405.6,368.5 405.8,367.9 406.0,367.4 406.3,367.0 407.0,366.9 407.3,367.2 407.5,367.8 407.7,368.5 407.7,369.2 407.8,369.8 407.7,370.2 407.7,371.0 407.5,371.8 407.3,372.2 407.0,372.7 406.7,373.0 406.5,373.1Z" fill="rgb(111,111,111)" stroke="#444" stroke-width="0.55"/>
<path d="M410.0,350.5 409.4,350.5 409.0,350.1 408.8,349.6 408.6,349.0 408.5,348.2 408.5,347.5 408.6,346.8 408.7,346.0 408.8,345.5 409.0,344.8 409.2,344.2 409.4,343.8 409.8,343.4 410.2,343.1 410.8,343.3 411.1,343.8 411.3,344.2 411.5,345.0 411.5,345.5 411.6,346.2 411.5,347.0 411.5,347.5 411.3,348.2 411.2,348.8 411.0,349.2 410.8,349.8 410.4,350.2 410.0,350.5 410.0,350.5ZM406.8,372.1 406.1,372.0 405.8,371.5 405.7,371.0 405.7,370.2 405.8,369.8 406.0,369.0 406.2,368.5 406.5,368.1 407.0,368.3 407.2,369.0 407.3,369.5 407.3,370.2 407.2,371.0 407.1,371.5 406.8,372.0 406.8,372.1Z" fill="rgb(88,88,88)" stroke="#444" stroke-width="0.55"/>
<path d="M410.0,349.8 409.5,349.8 409.1,349.2 408.9,348.8 408.9,348.0 408.9,347.2 409.0,346.5 409.0,346.0 409.2,345.2 409.4,344.8 409.7,344.2 410.0,343.9 410.6,344.0 410.9,344.5 411.1,345.0 411.2,345.8 411.2,346.5 411.2,347.2 411.0,348.0 410.9,348.5 410.7,349.0 410.4,349.5 410.0,349.8 410.0,349.8Z" fill="rgb(65,65,65)" stroke="#444" stroke-width="0.55"/>
<path d="M410.0,349.0 409.5,348.9 409.2,348.3 409.2,347.8 409.2,347.0 409.3,346.5 409.5,345.8 409.7,345.2 410.0,344.8 410.4,344.8 410.7,345.2 410.9,345.8 410.9,346.5 410.9,347.2 410.8,347.8 410.5,348.5 410.2,348.9 410.0,349.0Z" fill="rgb(40,40,40)" stroke="#444" stroke-width="0.55"/>
</g>
<circle cx="388" cy="356" r="2.2" fill="none" stroke="#555" stroke-width="0.6"/>
<ellipse cx="410.2" cy="346" rx="0.9" ry="3" transform="rotate(-8 410.2 346)" fill="#f4f4f4" opacity="0.85"/>
<ellipse cx="406.8" cy="369.5" rx="0.8" ry="2.5" transform="rotate(-8 406.8 369.5)" fill="#eee" opacity="0.75"/>
<rect x="343.4" y="309" width="93.80000000000001" height="94.5" fill="none" stroke="#1a1a1a" stroke-width="1.3"/>
<path d="M343.4,332.74 h-1.6M343.4,329.08 h-1.6M343.4,326.48 h-1.6M343.4,324.46 h-1.6M343.4,322.81 h-1.6M343.4,321.42 h-1.6M343.4,320.22 h-1.6M343.4,319.15 h-1.6M343.4,354.17 h-1.6M343.4,350.35 h-1.6M343.4,347.64 h-1.6M343.4,345.53 h-1.6M343.4,343.81 h-1.6M343.4,342.36 h-1.6M343.4,341.10 h-1.6M343.4,339.99 h-1.6M343.4,376.50 h-1.6M343.4,372.52 h-1.6M343.4,369.69 h-1.6M343.4,367.50 h-1.6M343.4,365.71 h-1.6M343.4,364.20 h-1.6M343.4,362.89 h-1.6M343.4,361.73 h-1.6M343.4,384.80 h-2.0M343.4,386.25 h-2.0M343.4,387.70 h-2.0M343.4,389.15 h-2.0M343.4,390.60 h-2.0M343.4,392.05 h-2.0M343.4,393.50 h-2.0M343.4,394.95 h-2.0M343.4,396.40 h-2.0M343.4,397.85 h-2.0M343.4,399.30 h-2.0M343.4,400.75 h-2.0M343.4,402.20 h-2.0M343.4,311.88 h-1.6M343.4,318.20 h-3.0M343.4,339.00 h-3.0M343.4,360.70 h-3.0M343.4,383.30 h-3.0M343.4,392.90 h-3.0" stroke="#1a1a1a" stroke-width="0.9" fill="none"/>
<text x="329.09999999999997" y="320.3" font-size="6.7" fill="#333" transform="translate(329.09999999999997 0) scale(0.86 1) translate(-329.09999999999997 0)">10<tspan font-size="4.02" dy="-2.9">5</tspan></text>
<text x="329.09999999999997" y="341.1" font-size="6.7" fill="#333" transform="translate(329.09999999999997 0) scale(0.86 1) translate(-329.09999999999997 0)">10<tspan font-size="4.02" dy="-2.9">4</tspan></text>
<text x="329.09999999999997" y="362.8" font-size="6.7" fill="#333" transform="translate(329.09999999999997 0) scale(0.86 1) translate(-329.09999999999997 0)">10<tspan font-size="4.02" dy="-2.9">3</tspan></text>
<text x="329.09999999999997" y="385.40000000000003" font-size="6.7" fill="#333" transform="translate(329.09999999999997 0) scale(0.86 1) translate(-329.09999999999997 0)">10<tspan font-size="4.02" dy="-2.9">2</tspan></text>
<text x="335.9" y="395.0" font-size="6.2" fill="#333" text-anchor="middle">0</text>
<path d="M344.90,403.5 v2.0M346.35,403.5 v2.0M347.80,403.5 v2.0M349.25,403.5 v2.0M350.70,403.5 v2.0M352.15,403.5 v2.0M353.60,403.5 v2.0M355.05,403.5 v2.0M356.50,403.5 v2.0M357.95,403.5 v2.0M359.40,403.5 v2.0M360.85,403.5 v2.0M369.38,403.5 v1.6M373.47,403.5 v1.6M376.37,403.5 v1.6M378.62,403.5 v1.6M380.45,403.5 v1.6M382.01,403.5 v1.6M383.35,403.5 v1.6M384.54,403.5 v1.6M392.25,403.5 v1.6M396.14,403.5 v1.6M398.91,403.5 v1.6M401.05,403.5 v1.6M402.80,403.5 v1.6M404.28,403.5 v1.6M405.56,403.5 v1.6M406.69,403.5 v1.6M414.11,403.5 v1.6M417.86,403.5 v1.6M420.52,403.5 v1.6M422.59,403.5 v1.6M424.27,403.5 v1.6M425.70,403.5 v1.6M426.94,403.5 v1.6M428.03,403.5 v1.6M435.41,403.5 v1.6M353.30,403.5 v3.0M362.40,403.5 v3.0M385.60,403.5 v3.0M407.70,403.5 v3.0M429.00,403.5 v3.0" stroke="#1a1a1a" stroke-width="0.9" fill="none"/>
<text x="353.29999999999995" y="412.9" font-size="6.2" fill="#333" text-anchor="middle">0</text>
<text x="358.0" y="412.9" font-size="6.7" fill="#333" transform="translate(358.0 0) scale(0.86 1) translate(-358.0 0)">10<tspan font-size="4.02" dy="-2.9">2</tspan></text>
<text x="381.09999999999997" y="412.9" font-size="6.7" fill="#333" transform="translate(381.09999999999997 0) scale(0.86 1) translate(-381.09999999999997 0)">10<tspan font-size="4.02" dy="-2.9">3</tspan></text>
<text x="403.2" y="412.9" font-size="6.7" fill="#333" transform="translate(403.2 0) scale(0.86 1) translate(-403.2 0)">10<tspan font-size="4.02" dy="-2.9">4</tspan></text>
<text x="424.4" y="412.9" font-size="6.7" fill="#333" transform="translate(424.4 0) scale(0.86 1) translate(-424.4 0)">10<tspan font-size="4.02" dy="-2.9">5</tspan></text>
<text transform="translate(323.8 355.8) rotate(-90) scale(0.75 1)" x="0" y="0" font-size="10.3" text-anchor="middle" font-weight="normal" fill="#222">CD14</text>
<text transform="translate(390.4 424.2) rotate(0) scale(0.74 1)" x="0" y="0" font-size="10.3" text-anchor="middle" font-weight="normal" fill="#222">CD45</text>
<text x="419.4" y="325.6" font-size="8.2" font-weight="bold" fill="#000" style="stroke:#000" text-anchor="middle">52%</text>
<text x="440.6" y="358" font-size="6.5" font-weight="bold" fill="#000" style="stroke:#000">3&#956;M EPZ</text>
<path d="M279,187.5 V174.2 H381.6 V181" fill="none" stroke="#1a1a1a" stroke-width="1.3"/>
<path d="M378.8,179.3 L381.6,180.3 L384.4,179.3 L381.6,185.9 Z" fill="#111"/>
<path d="M279.3,305.2 V292.9 H381.6 V299" fill="none" stroke="#1a1a1a" stroke-width="1.3"/>
<path d="M378.8,298.5 L381.6,299.5 L384.4,298.5 L381.6,305.0 Z" fill="#111"/>
</g>
<rect x="0.5" y="0.5" width="519" height="430" fill="none" stroke="#111" stroke-width="1"/>
</svg>
</body></html>
